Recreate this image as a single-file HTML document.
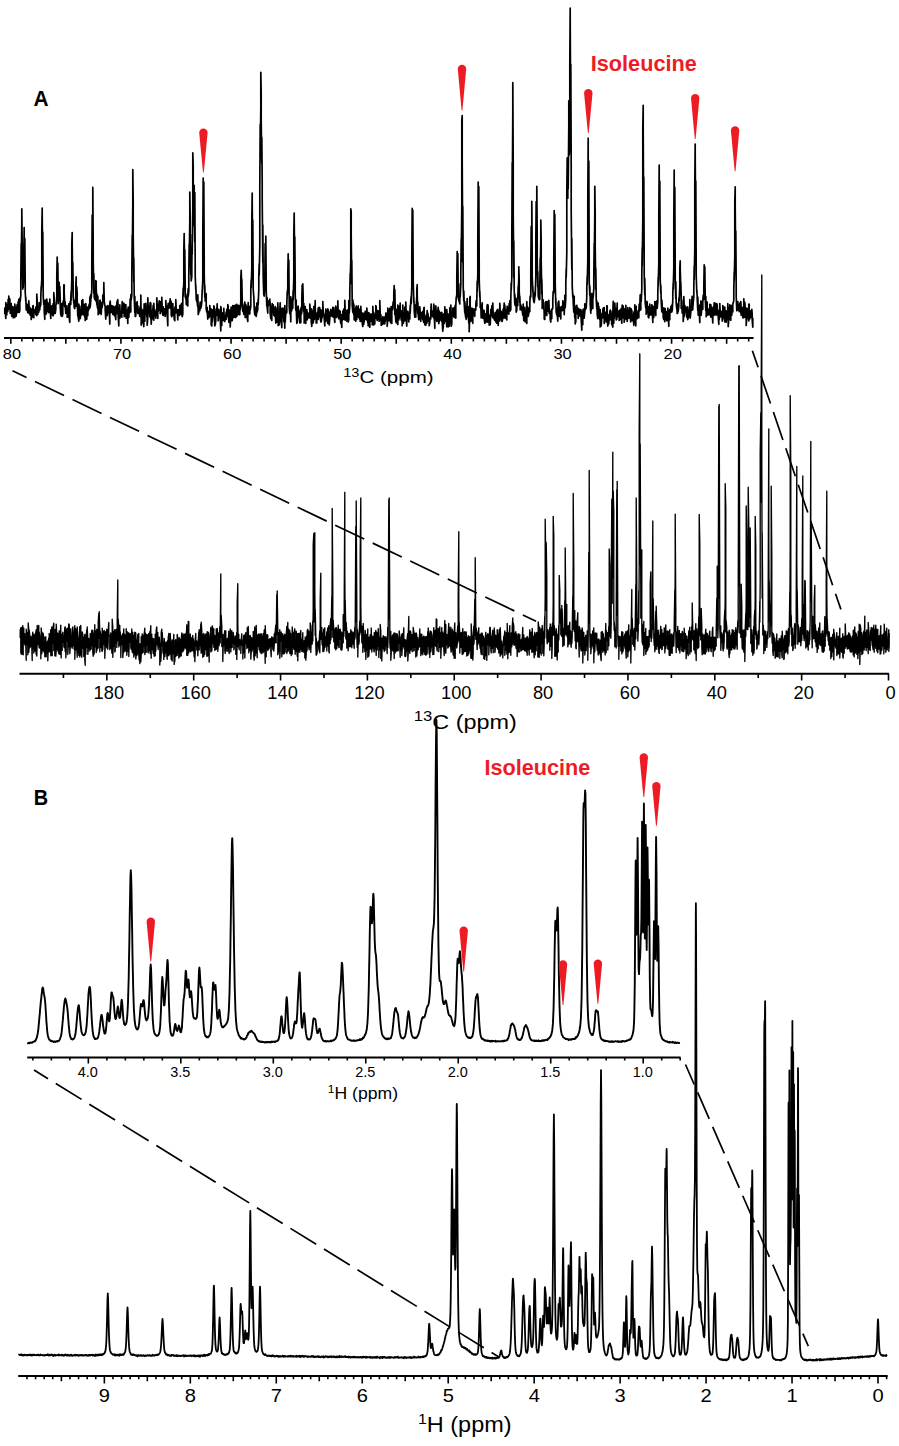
<!DOCTYPE html><html><head><meta charset="utf-8"><style>html,body{margin:0;padding:0;background:#fff}svg{display:block}</style></head><body><svg width="899" height="1446" viewBox="0 0 899 1446">
<style>.t{font-family:"Liberation Sans",sans-serif;fill:#000}</style>
<rect width="899" height="1446" fill="#fff"/>
<path d="M4.8 314.3 4.8 308.3 5.2 307.6 5.2 309.2 5.8 318.5 5.8 302.6 6.2 307.1 6.2 313.4 6.8 314.7 6.8 310.1 7.2 304.3 7.2 309.9 7.8 311.5 7.8 307.3 8.2 299.4 8.2 305 8.8 306.9 8.8 296.1 9.2 307.2 9.2 309.1 9.8 308.7 9.8 298.9 10.2 310.6 10.2 313.2 10.8 307.2 10.8 304.3 11.2 303.6 11.2 311.1 11.8 316.3 11.8 308.3 12.2 308.4 12.2 310.5 12.8 311 12.8 306.6 13.2 311.5 13.2 317.8 13.8 312.1 13.8 308.2 14.2 314.9 14.2 316.1 14.8 317.4 14.8 304.2 15.2 308.1 15.2 309 15.8 310 15.8 307.8 16.2 312.6 16.2 316.1 16.8 311.6 16.8 307.3 17.2 304.5 17.2 309 17.8 312.2 17.8 306.7 18.2 301.5 18.2 306.3 18.8 308.9 18.8 299.3 19.2 307 19.2 312.5 19.8 310.4 19.8 299.4 20.2 297.8 20.2 301.3 20.8 295.4 20.8 280.4 21.2 243.5 21.2 264.3 21.8 221.6 21.8 208.8 22.2 243.6 22.2 261.6 22.8 289.1 22.8 274 23.2 286.2 23.2 287.5 23.8 276.2 23.8 254.3 24.2 227.5 24.2 235 24.8 279.4 24.8 238.7 25.2 281.8 25.2 292 25.8 301 25.8 297.3 26.2 308.9 26.2 309.8 26.8 308.2 26.8 303.8 27.2 305.8 27.2 309.6 27.8 312.7 27.8 305 28.2 310.9 28.2 311.7 28.8 308.1 28.8 300.8 29.2 309.9 29.2 313.4 29.8 309.3 29.8 307.4 30.2 312.9 30.2 315.2 30.8 310.3 30.8 308.7 31.2 313.1 31.2 319.5 31.8 316.5 31.8 309.6 32.2 311.6 32.2 317 32.8 313.1 32.8 306 33.2 305.6 33.2 312.6 33.8 317.7 33.8 313.3 34.2 309.6 34.2 312.4 34.8 312 34.8 309.9 35.2 310.4 35.2 310.4 35.8 314.6 35.8 307 36.2 308.4 36.2 311.7 36.8 315.7 36.8 294 37.2 301.8 37.2 311.4 37.8 314.4 37.8 307.4 38.2 309.1 38.2 310 38.8 312.1 38.8 308.8 39.2 302.5 39.2 306.8 39.8 309.8 39.8 306.7 40.2 303 40.2 306.9 40.8 304.2 40.8 297 41.2 286.6 41.2 290.4 41.8 278.7 41.8 231.7 42.2 208 42.2 212.4 42.8 276.4 42.8 232 43.2 290.1 43.2 296.5 43.8 304.5 43.8 300.5 44.2 302.7 44.2 311 44.8 319.3 44.8 313.4 45.2 300.2 45.2 313.6 45.8 309.9 45.8 304.6 46.2 309.6 46.2 314 46.8 312.1 46.8 299.2 47.2 308 47.2 311.3 47.8 309.5 47.8 302.5 48.2 304.1 48.2 308.2 48.8 312.6 48.8 304.7 49.2 307.6 49.2 311.3 49.8 311 49.8 299.1 50.2 308.3 50.2 310.1 50.8 318.5 50.8 312.1 51.2 310.7 51.2 314.4 51.8 311.1 51.8 305.9 52.2 313.1 52.2 314.3 52.8 315.2 52.8 308.4 53.2 303.5 53.2 315.8 53.8 307.5 53.8 292.7 54.2 298 54.2 313.5 54.8 311.8 54.8 306.4 55.2 311.5 55.2 313.5 55.8 309.2 55.8 306.4 56.2 302 56.2 304.4 56.8 296.3 56.8 275.5 57.2 257 57.2 263.8 57.8 281.5 57.8 263.2 58.2 290.9 58.2 303.6 58.8 298.1 58.8 295.5 59.2 282.4 59.2 285.7 59.8 290.8 59.8 286.5 60.2 298.7 60.2 306.4 60.8 314.9 60.8 304.9 61.2 307.4 61.2 316 61.8 314.7 61.8 303.6 62.2 314.8 62.2 316.3 62.8 314.3 62.8 308.1 63.2 301.2 63.2 304.3 63.8 299.2 63.8 285 64.2 284.8 64.2 292.5 64.8 306.8 64.8 305.9 65.2 301.8 65.2 306 65.8 313.4 65.8 308.9 66.2 310.6 66.2 310.8 66.8 309.6 66.8 305.6 67.2 309.5 67.2 317.2 67.8 316.8 67.8 311.6 68.2 308.7 68.2 311.5 68.8 312.2 68.8 303.8 69.2 317.1 69.2 317.8 69.8 322.3 69.8 305.9 70.2 301.4 70.2 304.6 70.8 304.5 70.8 298.6 71.2 291.1 71.2 300.3 71.8 278.5 71.8 243.9 72.2 232.5 72.2 243.1 72.8 286.1 72.8 262.5 73.2 290.1 73.2 296.1 73.8 303.1 73.8 299.4 74.2 307.2 74.2 307.3 74.8 308.5 74.8 301.2 75.2 301.6 75.2 306.6 75.8 305.7 75.8 285.9 76.2 276.9 76.2 284 76.8 306.5 76.8 286.8 77.2 293.4 77.2 299.1 77.8 315.9 77.8 307 78.2 309.7 78.2 316.9 78.8 321.2 78.8 304.1 79.2 306.7 79.2 309.6 79.8 314.4 79.8 309.7 80.2 316.8 80.2 318.6 80.8 314.7 80.8 312.5 81.2 306.2 81.2 307.7 81.8 313.2 81.8 300.7 82.2 313 82.2 314.6 82.8 310.5 82.8 299.5 83.2 312.2 83.2 312.5 83.8 314.8 83.8 310.8 84.2 304.4 84.2 312.8 84.8 317.2 84.8 306.4 85.2 318.7 85.2 320.5 85.8 317.4 85.8 303.7 86.2 311.8 86.2 317.8 86.8 319.1 86.8 310.5 87.2 307.2 87.2 307.6 87.8 315.6 87.8 311.5 88.2 308.2 88.2 311.1 88.8 309.2 88.8 306.8 89.2 304.2 89.2 306.8 89.8 308 89.8 298.4 90.2 296.2 90.2 307.1 90.8 300.2 90.8 294.7 91.2 294.4 91.2 298.1 91.8 289.2 91.8 264.6 92.2 215.1 92.2 243.8 92.8 216.5 92.8 187.4 93.2 242.9 93.2 261.1 93.8 293.3 93.8 273.6 94.2 293.9 94.2 297 94.8 299.4 94.8 292.1 95.2 290 95.2 293.6 95.8 301 95.8 280.6 96.2 281.5 96.2 288.3 96.8 304.4 96.8 293.7 97.2 304.7 97.2 305.9 97.8 308.8 97.8 296.2 98.2 309.4 98.2 314.7 98.8 311.3 98.8 309.2 99.2 310.1 99.2 312.8 99.8 313.4 99.8 301 100.2 300.2 100.2 307.8 100.8 313.4 100.8 304.5 101.2 303.6 101.2 314.4 101.8 303.6 101.8 302.5 102.2 306.6 102.2 307.4 102.8 300.9 102.8 295 103.2 299.6 103.2 301.5 103.8 291.1 103.8 282.6 104.2 298.2 104.2 301.2 104.8 305.7 104.8 305.2 105.2 307.1 105.2 309.9 105.8 319.1 105.8 309.4 106.2 306.4 106.2 307.5 106.8 307.6 106.8 306.5 107.2 313.1 107.2 315.7 107.8 312.6 107.8 305.6 108.2 306.7 108.2 307.2 108.8 311.8 108.8 308.8 109.2 306.2 109.2 307.6 109.8 324.1 109.8 304.4 110.2 301.1 110.2 301.3 110.8 312.6 110.8 310.2 111.2 307.4 111.2 307.6 111.8 306.7 111.8 305.5 112.2 305.9 112.2 311.6 112.8 314.4 112.8 309.7 113.2 307.9 113.2 311.6 113.8 314.9 113.8 306.3 114.2 313.2 114.2 313.9 114.8 316.1 114.8 307.5 115.2 308.4 115.2 313.8 115.8 319.6 115.8 306.2 116.2 312.7 116.2 314.1 116.8 312.8 116.8 304.1 117.2 300.8 117.2 306.8 117.8 314.1 117.8 299.7 118.2 312.1 118.2 316 118.8 325.9 118.8 318.5 119.2 309.9 119.2 310.1 119.8 318.5 119.8 304.8 120.2 315.7 120.2 316.3 120.8 314.7 120.8 311.3 121.2 314.9 121.2 316.3 121.8 317.2 121.8 310.9 122.2 301.7 122.2 311.3 122.8 313 122.8 307.1 123.2 305.9 123.2 308.8 123.8 306.6 123.8 303.2 124.2 304.4 124.2 316.7 124.8 313.4 124.8 308.7 125.2 315.1 125.2 315.3 125.8 316.6 125.8 304.5 126.2 317.3 126.2 318.2 126.8 318.2 126.8 312 127.2 310.2 127.2 311 127.8 323.5 127.8 314.8 128.2 307 128.2 311.9 128.8 317.4 128.8 316.3 129.2 310.7 129.2 311.8 129.8 312.4 129.8 311.1 130.2 298.8 130.2 311.2 130.8 311.8 130.8 294.7 131.2 299.5 131.2 300.1 131.8 295.2 131.8 277.8 132.2 235.4 132.2 259.9 132.8 203.4 132.8 169.5 133.2 202.1 133.2 234.7 133.8 281.4 133.8 258.1 134.2 295.1 134.2 296.2 134.8 312.7 134.8 296.3 135.2 313.8 135.2 316.5 135.8 315.9 135.8 314.2 136.2 303.2 136.2 307.6 136.8 311.5 136.8 302.8 137.2 301.7 137.2 308.9 137.8 313.5 137.8 305.5 138.2 310.3 138.2 311.5 138.8 312 138.8 308.8 139.2 310.1 139.2 313.2 139.8 316.4 139.8 309.9 140.2 306.3 140.2 314.8 140.8 307.8 140.8 295 141.2 318.5 141.2 325.1 141.8 321.3 141.8 309.1 142.2 312.5 142.2 322.9 142.8 318.6 142.8 313 143.2 310.4 143.2 318.8 143.8 326.6 143.8 316 144.2 303.9 144.2 308.7 144.8 321.2 144.8 313.1 145.2 309.9 145.2 313.3 145.8 309.1 145.8 303.4 146.2 307.9 146.2 311.1 146.8 316.9 146.8 308.5 147.2 311.8 147.2 325.2 147.8 317.3 147.8 297.8 148.2 307.1 148.2 308.5 148.8 309.1 148.8 305.9 149.2 308.4 149.2 310.4 149.8 316.7 149.8 309.5 150.2 302.7 150.2 309.2 150.8 319 150.8 303 151.2 323.1 151.2 324.1 151.8 316.4 151.8 312.1 152.2 310.6 152.2 318.9 152.8 316.5 152.8 310.8 153.2 305.3 153.2 312.9 153.8 320.2 153.8 303.3 154.2 311.7 154.2 311.8 154.8 315.4 154.8 311.5 155.2 311.6 155.2 313.5 155.8 318.2 155.8 315.7 156.2 309.6 156.2 314.9 156.8 314.2 156.8 297.8 157.2 305.2 157.2 309.2 157.8 318.5 157.8 307.7 158.2 308.8 158.2 311.2 158.8 309.7 158.8 305.3 159.2 300.9 159.2 302.9 159.8 308.7 159.8 302.6 160.2 305.4 160.2 313.5 160.8 310.3 160.8 301.5 161.2 303.3 161.2 304.7 161.8 306.8 161.8 297.4 162.2 309.2 162.2 311 162.8 315.1 162.8 309.5 163.2 306.8 163.2 315.5 163.8 314.6 163.8 311.6 164.2 308.8 164.2 309 164.8 310.8 164.8 309.3 165.2 313.3 165.2 316.5 165.8 307.8 165.8 300.6 166.2 308.6 166.2 312.2 166.8 313.5 166.8 305.8 167.2 307.5 167.2 314.4 167.8 325.8 167.8 310.3 168.2 303.3 168.2 308.4 168.8 308.2 168.8 305 169.2 304.8 169.2 307.9 169.8 303.6 169.8 302.2 170.2 298.9 170.2 306.1 170.8 308.5 170.8 300.9 171.2 302.4 171.2 314.9 171.8 316.6 171.8 309.3 172.2 306.7 172.2 312.7 172.8 313.7 172.8 303.6 173.2 314.9 173.2 315.3 173.8 313.6 173.8 309.8 174.2 317 174.2 319.1 174.8 320.7 174.8 308.4 175.2 306.8 175.2 312.9 175.8 312.9 175.8 299.7 176.2 308.7 176.2 311.3 176.8 312.9 176.8 310 177.2 309.6 177.2 310.3 177.8 320 177.8 311.6 178.2 311.8 178.2 312.5 178.8 313.7 178.8 309.6 179.2 312.4 179.2 315.4 179.8 313.6 179.8 305.5 180.2 305.6 180.2 308.3 180.8 309.8 180.8 308.1 181.2 304 181.2 314.7 181.8 307.4 181.8 303.3 182.2 308.4 182.2 316.6 182.8 314 182.8 299.1 183.2 288.1 183.2 296.1 183.8 282.6 183.8 250.4 184.2 233.5 184.2 237.2 184.8 279.5 184.8 249.8 185.2 287.2 185.2 296.5 185.8 298.5 185.8 294.2 186.2 301.7 186.2 304.2 186.8 304.9 186.8 303.4 187.2 296.6 187.2 297.3 187.8 306 187.8 296.1 188.2 288.7 188.2 296.3 188.8 291.5 188.8 273.5 189.2 244.2 189.2 259.5 189.8 220.7 189.8 192 190.2 217.4 190.2 240.8 190.8 274.6 190.8 258.8 191.2 279.9 191.2 281 191.8 276.3 191.8 267.2 192.2 234.7 192.2 254.3 192.8 207.8 192.8 152.9 193.2 166.2 193.2 194.8 193.8 225.3 193.8 216.4 194.2 185.4 194.2 199.5 194.8 241.5 194.8 192.5 195.2 261.8 195.2 275.2 195.8 290 195.8 285.3 196.2 297.4 196.2 299.5 196.8 301.3 196.8 298.6 197.2 301.5 197.2 302.6 197.8 306.8 197.8 294.8 198.2 310.3 198.2 314.4 198.8 312.4 198.8 309.3 199.2 308.8 199.2 310.4 199.8 310.7 199.8 306.7 200.2 302 200.2 303.3 200.8 308.3 200.8 304.2 201.2 303.9 201.2 306.9 201.8 301.8 201.8 301.1 202.2 290 202.2 292.4 202.8 280.4 202.8 237.5 203.2 178.2 203.2 209.2 203.8 237.1 203.8 182.1 204.2 258.8 204.2 273.4 204.8 297.3 204.8 285.2 205.2 299.2 205.2 300.9 205.8 300.9 205.8 294.8 206.2 293.7 206.2 309 206.8 312.2 206.8 308.1 207.2 307.4 207.2 310.2 207.8 319.1 207.8 312.9 208.2 311.8 208.2 316 208.8 314 208.8 311.4 209.2 313.4 209.2 317.3 209.8 314.9 209.8 305.6 210.2 313.6 210.2 315.8 210.8 312.8 210.8 308.6 211.2 311.7 211.2 325.1 211.8 325.9 211.8 309.7 212.2 313 212.2 321.8 212.8 315 212.8 310.2 213.2 312.1 213.2 312.8 213.8 309.6 213.8 305.8 214.2 307.5 214.2 312.5 214.8 326 214.8 313.8 215.2 312.1 215.2 325.2 215.8 320.4 215.8 314.6 216.2 308.9 216.2 309.4 216.8 315.4 216.8 311 217.2 303.9 217.2 307.7 217.8 315.7 217.8 312 218.2 316.3 218.2 320.8 218.8 313.5 218.8 309.3 219.2 312.2 219.2 314.9 219.8 316.8 219.8 311.3 220.2 314.7 220.2 317.7 220.8 330.9 220.8 306.5 221.2 309.2 221.2 322.5 221.8 325.4 221.8 317.6 222.2 312.8 222.2 314.5 222.8 320.4 222.8 313.2 223.2 313.8 223.2 314.2 223.8 313.5 223.8 308.3 224.2 318.2 224.2 320.7 224.8 321.5 224.8 316.8 225.2 315.5 225.2 317.9 225.8 317.6 225.8 315.4 226.2 312.2 226.2 319.3 226.8 311.5 226.8 309.4 227.2 316 227.2 316.4 227.8 316.2 227.8 304.7 228.2 305.9 228.2 308.2 228.8 322.3 228.8 310.6 229.2 309.9 229.2 313.2 229.8 318.6 229.8 317.2 230.2 323.9 230.2 327 230.8 316.2 230.8 312.1 231.2 307.1 231.2 313 231.8 313.2 231.8 308.8 232.2 317.9 232.2 320.7 232.8 316.8 232.8 305.5 233.2 314.9 233.2 317.6 233.8 314.3 233.8 307.5 234.2 305.7 234.2 317.1 234.8 315.7 234.8 305.7 235.2 312.3 235.2 315.5 235.8 317.6 235.8 310.2 236.2 304.6 236.2 314 236.8 316.2 236.8 304.4 237.2 309.8 237.2 315.3 237.8 314.2 237.8 311.9 238.2 305.5 238.2 308.5 238.8 310.6 238.8 305.3 239.2 313.3 239.2 314.6 239.8 314.6 239.8 308.5 240.2 309.3 240.2 309.9 240.8 302.6 240.8 278.8 241.2 270.3 241.2 270.4 241.8 290.2 241.8 279.3 242.2 298.9 242.2 305.4 242.8 311.5 242.8 308.7 243.2 306.8 243.2 307.6 243.8 314.3 243.8 310.6 244.2 304.2 244.2 314.4 244.8 303 244.8 302 245.2 315.7 245.2 317.5 245.8 317.2 245.8 304.6 246.2 311.4 246.2 311.5 246.8 313.9 246.8 306.7 247.2 316 247.2 318 247.8 321.5 247.8 318.3 248.2 302.5 248.2 309.7 248.8 314 248.8 310.8 249.2 306.4 249.2 308.8 249.8 314 249.8 310.6 250.2 309.2 250.2 310 250.8 306.3 250.8 289.6 251.2 279.9 251.2 288 251.8 268.1 251.8 221.5 252.2 193.2 252.2 199.7 252.8 268.3 252.8 220 253.2 281.9 253.2 289.2 253.8 297.1 253.8 296.2 254.2 307.2 254.2 308.8 254.8 314.9 254.8 306.6 255.2 311.6 255.2 313.8 255.8 314.6 255.8 308.9 256.2 313.5 256.2 316.4 256.8 311.6 256.8 303.2 257.2 309.2 257.2 311.8 257.8 308.9 257.8 305.6 258.2 299.3 258.2 304.5 258.8 289.7 258.8 277.6 259.2 264.1 259.2 275.2 259.8 246.4 259.8 189.3 260.2 124.7 260.2 153.8 260.8 107.6 260.8 72.3 261.2 92.4 261.2 121.4 261.8 162.9 261.8 137.4 262.2 179.9 262.2 198.5 262.8 262.2 262.8 225.1 263.2 276.9 263.2 277 263.8 295.1 263.8 279.9 264.2 291.2 264.2 296.1 264.8 285.5 264.8 279.9 265.2 243.5 265.2 261.7 265.8 266.2 265.8 236.2 266.2 281.5 266.2 290.3 266.8 306.2 266.8 297.3 267.2 298.2 267.2 307.5 267.8 313.1 267.8 308.5 268.2 301 268.2 304.7 268.8 305.1 268.8 301.6 269.2 300.7 269.2 302.3 269.8 304 269.8 299 270.2 305.6 270.2 313.4 270.8 318.7 270.8 306.4 271.2 314.2 271.2 315.3 271.8 320.4 271.8 309.3 272.2 303.6 272.2 306 272.8 312.3 272.8 309.6 273.2 304.8 273.2 309.3 273.8 315.5 273.8 308.8 274.2 312.1 274.2 314.2 274.8 316.2 274.8 309.6 275.2 306.7 275.2 308.4 275.8 323.1 275.8 309.5 276.2 316 276.2 317.3 276.8 322.1 276.8 310.6 277.2 307.7 277.2 320.1 277.8 317.3 277.8 302.9 278.2 314.2 278.2 325.6 278.8 324.7 278.8 313.6 279.2 319.8 279.2 325 279.8 319.6 279.8 310.6 280.2 302.8 280.2 308.4 280.8 314.1 280.8 308.7 281.2 312.9 281.2 320 281.8 327.6 281.8 319 282.2 308.2 282.2 308.9 282.8 316.3 282.8 310 283.2 308.4 283.2 308.8 283.8 321.6 283.8 312 284.2 310.9 284.2 311.8 284.8 328.1 284.8 305.5 285.2 313.9 285.2 322.1 285.8 312.5 285.8 311.4 286.2 312.5 286.2 313.2 286.8 312.2 286.8 305.4 287.2 291.9 287.2 295.5 287.8 287.8 287.8 273.1 288.2 253.9 288.2 261.7 288.8 283.9 288.8 260.1 289.2 302.2 289.2 307 289.8 313.7 289.8 303.8 290.2 307.3 290.2 307.6 290.8 321.8 290.8 296.9 291.2 304.7 291.2 311.2 291.8 310.3 291.8 301.2 292.2 299.3 292.2 304.7 292.8 308.2 292.8 301.5 293.2 290.5 293.2 299.9 293.8 277.3 293.8 233.9 294.2 213 294.2 216.8 294.8 274.3 294.8 236.8 295.2 282.5 295.2 294 295.8 310.2 295.8 299.8 296.2 300.3 296.2 306.9 296.8 323.4 296.8 311.7 297.2 315.7 297.2 322.4 297.8 314 297.8 307.1 298.2 306.2 298.2 307.2 298.8 315.4 298.8 309.9 299.2 311.9 299.2 314.6 299.8 323 299.8 316.8 300.2 318.7 300.2 318.9 300.8 322.7 300.8 310 301.2 307.4 301.2 314.4 301.8 312.3 301.8 299.9 302.2 285 302.2 297.6 302.8 292.4 302.8 283.8 303.2 298.6 303.2 306.4 303.8 311.5 303.8 303.3 304.2 315.6 304.2 322.9 304.8 317.8 304.8 311.8 305.2 306.5 305.2 313 305.8 323.4 305.8 311.6 306.2 310.4 306.2 320.2 306.8 313.7 306.8 309.5 307.2 313.6 307.2 319.9 307.8 315.5 307.8 313.9 308.2 313.2 308.2 317.8 308.8 318 308.8 313.9 309.2 314.1 309.2 316.6 309.8 311.8 309.8 304 310.2 309 310.2 317.8 310.8 318.3 310.8 308.5 311.2 316.3 311.2 321.5 311.8 326.3 311.8 309.4 312.2 321.3 312.2 323.8 312.8 316 312.8 312.1 313.2 311.1 313.2 322.8 313.8 317.6 313.8 306.5 314.2 315.4 314.2 319.5 314.8 318.1 314.8 311.8 315.2 300.7 315.2 307.9 315.8 317.9 315.8 313.7 316.2 321.3 316.2 323 316.8 323 316.8 320.8 317.2 312.9 317.2 314.7 317.8 315 317.8 314.3 318.2 308 318.2 319.5 318.8 315.3 318.8 307.6 319.2 307.4 319.2 309.3 319.8 315.8 319.8 307.8 320.2 314 320.2 315.6 320.8 321.9 320.8 309.9 321.2 315.3 321.2 321.9 321.8 317.7 321.8 312.1 322.2 310.4 322.2 317.4 322.8 314.1 322.8 301.6 323.2 310.6 323.2 310.9 323.8 315.1 323.8 313.3 324.2 316.4 324.2 318 324.8 325.9 324.8 319.2 325.2 315 325.2 315.4 325.8 321.4 325.8 309 326.2 313.3 326.2 315.3 326.8 315.8 326.8 313.9 327.2 310.2 327.2 314.3 327.8 323.5 327.8 308.8 328.2 310.5 328.2 311.8 328.8 319.4 328.8 312.6 329.2 324.5 329.2 324.8 329.8 318.6 329.8 317.2 330.2 311.2 330.2 311.5 330.8 316.2 330.8 309.4 331.2 310.9 331.2 313.9 331.8 315.3 331.8 312 332.2 314.4 332.2 315.9 332.8 316.9 332.8 307.4 333.2 312.5 333.2 313.7 333.8 316.6 333.8 307.6 334.2 315.2 334.2 316.4 334.8 322.5 334.8 316.7 335.2 310.4 335.2 312.7 335.8 315.7 335.8 306 336.2 315.1 336.2 317.5 336.8 315.5 336.8 308.5 337.2 311.9 337.2 312.6 337.8 311.5 337.8 300.9 338.2 313.8 338.2 316.9 338.8 318.6 338.8 311.5 339.2 310.4 339.2 314.2 339.8 315.4 339.8 310.9 340.2 311.7 340.2 318.9 340.8 323.5 340.8 314.5 341.2 319.5 341.2 321.3 341.8 327.4 341.8 319.5 342.2 314.4 342.2 320.6 342.8 314.2 342.8 311.1 343.2 313.8 343.2 315.4 343.8 319.5 343.8 309.1 344.2 309.3 344.2 316.4 344.8 317.9 344.8 300.4 345.2 310.8 345.2 320.1 345.8 319.7 345.8 312.1 346.2 313.7 346.2 315.2 346.8 321.1 346.8 310.5 347.2 310.2 347.2 319 347.8 315.9 347.8 309.9 348.2 317.5 348.2 322 348.8 319.8 348.8 300.5 349.2 312.8 349.2 313.2 349.8 304.7 349.8 292.3 350.2 273.4 350.2 282.9 350.8 258.4 350.8 208.9 351.2 211.8 351.2 235 351.8 284.3 351.8 260.6 352.2 302.1 352.2 305.3 352.8 312.3 352.8 299.8 353.2 303.7 353.2 309.7 353.8 315 353.8 304.1 354.2 318.3 354.2 319.8 354.8 317.6 354.8 309.2 355.2 318 355.2 319.2 355.8 321.2 355.8 308.4 356.2 306.1 356.2 315.2 356.8 319.4 356.8 312.6 357.2 307.9 357.2 310.2 357.8 315.6 357.8 310.5 358.2 305.8 358.2 316.7 358.8 317.6 358.8 310.1 359.2 309.2 359.2 317.5 359.8 319.5 359.8 313.3 360.2 314.9 360.2 321.3 360.8 321.2 360.8 306.3 361.2 313.2 361.2 317.4 361.8 320 361.8 312.8 362.2 319.2 362.2 322.6 362.8 326.5 362.8 314.4 363.2 313.2 363.2 314.6 363.8 324.3 363.8 314.5 364.2 316.6 364.2 321.9 364.8 318.3 364.8 313.9 365.2 311.3 365.2 315.3 365.8 319.1 365.8 314.9 366.2 315.1 366.2 318.7 366.8 319.9 366.8 308.1 367.2 313.4 367.2 314.8 367.8 322.9 367.8 314.5 368.2 317 368.2 325.8 368.8 323.4 368.8 312.6 369.2 320.8 369.2 324.9 369.8 327.2 369.8 319.4 370.2 314.1 370.2 320.1 370.8 321.3 370.8 317.3 371.2 314.1 371.2 316.5 371.8 319.2 371.8 314.3 372.2 314.6 372.2 324.8 372.8 321.3 372.8 306.4 373.2 315.2 373.2 319.5 373.8 324.9 373.8 312.9 374.2 315.7 374.2 318.8 374.8 324 374.8 315.2 375.2 314.3 375.2 317.7 375.8 314.9 375.8 305.7 376.2 306.7 376.2 318 376.8 319.1 376.8 310.1 377.2 317.7 377.2 320.5 377.8 318.8 377.8 315.8 378.2 310.8 378.2 312.8 378.8 319.6 378.8 316 379.2 318.5 379.2 321.2 379.8 318.5 379.8 300.7 380.2 313.3 380.2 313.8 380.8 317.3 380.8 314.7 381.2 321.7 381.2 325.2 381.8 324.8 381.8 318.4 382.2 319.8 382.2 323.3 382.8 324.1 382.8 316.7 383.2 320.3 383.2 321.8 383.8 322.5 383.8 318.1 384.2 322.9 384.2 323.6 384.8 323.8 384.8 317.8 385.2 316.3 385.2 321.6 385.8 319 385.8 313.1 386.2 313.3 386.2 316 386.8 316.2 386.8 313.9 387.2 316.3 387.2 326.3 387.8 318.1 387.8 308 388.2 311.5 388.2 312.9 388.8 319.2 388.8 311.2 389.2 317.9 389.2 320.7 389.8 318.7 389.8 308.3 390.2 314.7 390.2 321.2 390.8 322.8 390.8 314.9 391.2 306.7 391.2 315.9 391.8 323.4 391.8 309.1 392.2 307.9 392.2 310 392.8 308.9 392.8 306 393.2 301.9 393.2 303.2 393.8 300.4 393.8 293.5 394.2 285.6 394.2 287.8 394.8 314.5 394.8 289.7 395.2 308.1 395.2 311.5 395.8 321.4 395.8 314.4 396.2 313.7 396.2 322.7 396.8 315.3 396.8 309.4 397.2 316 397.2 322.6 397.8 324.4 397.8 305.2 398.2 308.2 398.2 310.6 398.8 319.9 398.8 306.6 399.2 316 399.2 318.3 399.8 316 399.8 308.8 400.2 303.2 400.2 309.1 400.8 315.9 400.8 310.5 401.2 315.4 401.2 319.9 401.8 314.8 401.8 311.2 402.2 324 402.2 325.7 402.8 314.6 402.8 305.1 403.2 319 403.2 323.2 403.8 320.6 403.8 313.8 404.2 312.1 404.2 316.7 404.8 320.7 404.8 308 405.2 306.7 405.2 315.7 405.8 312.5 405.8 302.1 406.2 314.8 406.2 319.7 406.8 326.1 406.8 315.5 407.2 313.9 407.2 315.2 407.8 315.6 407.8 311.2 408.2 313.1 408.2 314.6 408.8 322 408.8 318.5 409.2 316.5 409.2 317.7 409.8 318.9 409.8 315.2 410.2 305.3 410.2 313.4 410.8 300.8 410.8 300.3 411.2 296.3 411.2 303.6 411.8 285.7 411.8 256.1 412.2 208.4 412.2 232.8 412.8 256.3 412.8 210.2 413.2 271.4 413.2 280.2 413.8 302.4 413.8 297.9 414.2 306.8 414.2 310.5 414.8 317.1 414.8 306.2 415.2 305.2 415.2 306.5 415.8 317.1 415.8 313.9 416.2 304.3 416.2 306.7 416.8 296 416.8 289.7 417.2 284.7 417.2 293.9 417.8 313.5 417.8 302.2 418.2 310.4 418.2 314.2 418.8 319.7 418.8 316.3 419.2 312.7 419.2 314.1 419.8 317.3 419.8 306.8 420.2 312.8 420.2 315.8 420.8 321.3 420.8 315.6 421.2 312.6 421.2 315.9 421.8 318 421.8 315 422.2 313.8 422.2 316.9 422.8 319.6 422.8 311.3 423.2 315.5 423.2 319.7 423.8 322.3 423.8 308 424.2 307.4 424.2 317.7 424.8 324.8 424.8 314.8 425.2 316.8 425.2 318.3 425.8 325.3 425.8 317.5 426.2 318.8 426.2 318.9 426.8 323.3 426.8 316.8 427.2 310.5 427.2 313.3 427.8 321.3 427.8 313.2 428.2 316.1 428.2 316.9 428.8 320.6 428.8 320.1 429.2 319.9 429.2 325.7 429.8 322.3 429.8 321 430.2 317.2 430.2 318.2 430.8 318.9 430.8 312.8 431.2 304.1 431.2 304.6 431.8 314.9 431.8 312.6 432.2 314.3 432.2 315.8 432.8 316.7 432.8 311.2 433.2 312.3 433.2 313.8 433.8 318.1 433.8 304.2 434.2 309.2 434.2 312.4 434.8 328.3 434.8 315 435.2 309.1 435.2 318.6 435.8 311.9 435.8 305.9 436.2 313.4 436.2 317.8 436.8 321.3 436.8 311.6 437.2 316.2 437.2 316.5 437.8 320.9 437.8 310.3 438.2 307.3 438.2 308.6 438.8 323.7 438.8 310.1 439.2 321.1 439.2 322 439.8 317.1 439.8 312.2 440.2 312.7 440.2 314.7 440.8 320 440.8 313.1 441.2 316.7 441.2 319.5 441.8 321.6 441.8 312.3 442.2 321.2 442.2 321.4 442.8 331.3 442.8 314.8 443.2 328.2 443.2 328.3 443.8 314.9 443.8 313.9 444.2 316.7 444.2 323.5 444.8 318.3 444.8 306.9 445.2 311.6 445.2 312.8 445.8 320.9 445.8 311.3 446.2 310 446.2 318.9 446.8 326.8 446.8 309.7 447.2 317.6 447.2 326.6 447.8 319.1 447.8 315.4 448.2 314 448.2 326.8 448.8 322.7 448.8 317.3 449.2 317.6 449.2 326.3 449.8 319 449.8 307.9 450.2 312.3 450.2 314.2 450.8 312.8 450.8 305 451.2 314.7 451.2 326.2 451.8 323.7 451.8 319 452.2 313.4 452.2 316 452.8 315.1 452.8 308.2 453.2 308 453.2 309.4 453.8 316.8 453.8 312.6 454.2 314.1 454.2 317.4 454.8 311.3 454.8 308.1 455.2 305.4 455.2 313.1 455.8 318.1 455.8 306.1 456.2 297.3 456.2 298.6 456.8 294.6 456.8 280 457.2 251.5 457.2 266.1 457.8 277.6 457.8 253.6 458.2 290.8 458.2 296.9 458.8 300.7 458.8 296.2 459.2 299 459.2 301.6 459.8 303.9 459.8 300.6 460.2 283.9 460.2 296.8 460.8 283.9 460.8 273.5 461.2 239 461.2 261.2 461.8 205.7 461.8 120.5 462.2 115.6 462.2 159.5 462.8 262 462.8 206.4 463.2 275.8 463.2 287.1 463.8 300.9 463.8 291 464.2 303.3 464.2 303.4 464.8 312.6 464.8 301.6 465.2 307.5 465.2 313.9 465.8 317.8 465.8 313.3 466.2 319.2 466.2 319.3 466.8 311.7 466.8 308.2 467.2 298.5 467.2 308.9 467.8 316.6 467.8 306.3 468.2 310.9 468.2 315.3 468.8 323.2 468.8 307.3 469.2 323.9 469.2 331.7 469.8 312.6 469.8 297.5 470.2 296.5 470.2 308.4 470.8 321.4 470.8 316.4 471.2 315.8 471.2 320.2 471.8 318.6 471.8 308.2 472.2 308.3 472.2 314.5 472.8 323.3 472.8 310.3 473.2 308.9 473.2 314.1 473.8 312.5 473.8 310.1 474.2 311.7 474.2 314 474.8 316.3 474.8 309.2 475.2 309.3 475.2 309.9 475.8 309.9 475.8 305.4 476.2 300.6 476.2 302.7 476.8 305.9 476.8 299.4 477.2 281.3 477.2 291.4 477.8 274.7 477.8 241.1 478.2 182.2 478.2 212.8 478.8 242.3 478.8 186.6 479.2 263.5 479.2 279.3 479.8 296.5 479.8 291.4 480.2 301.6 480.2 307.4 480.8 308.1 480.8 305.2 481.2 317.5 481.2 317.8 481.8 313.2 481.8 307.3 482.2 302.9 482.2 312.3 482.8 318.2 482.8 310.7 483.2 311.3 483.2 311.7 483.8 311.2 483.8 310.2 484.2 311 484.2 318.7 484.8 323.4 484.8 314.1 485.2 314.3 485.2 319.9 485.8 321.9 485.8 313.9 486.2 314.5 486.2 316.5 486.8 321.9 486.8 312.6 487.2 304.9 487.2 307.6 487.8 322.1 487.8 304.6 488.2 306.7 488.2 311.6 488.8 321.6 488.8 317.3 489.2 318 489.2 325.1 489.8 322.4 489.8 316 490.2 314.9 490.2 324.8 490.8 312.7 490.8 309.5 491.2 309.3 491.2 311.9 491.8 315.8 491.8 305.8 492.2 311.3 492.2 311.4 492.8 317.7 492.8 303.1 493.2 316.2 493.2 316.3 493.8 318.3 493.8 316.1 494.2 314.7 494.2 319.2 494.8 320.2 494.8 317.9 495.2 312.3 495.2 316 495.8 321.9 495.8 319 496.2 318.8 496.2 321.6 496.8 323.1 496.8 310.3 497.2 314.6 497.2 317 497.8 313.4 497.8 309.4 498.2 318.2 498.2 325.5 498.8 314.1 498.8 311.4 499.2 320.8 499.2 321.2 499.8 316 499.8 303.4 500.2 311.3 500.2 313.1 500.8 318.8 500.8 313 501.2 311.4 501.2 320.7 501.8 321.1 501.8 316.1 502.2 318.7 502.2 321.5 502.8 317.1 502.8 313.2 503.2 309 503.2 314.9 503.8 317.9 503.8 309.3 504.2 303 504.2 312.3 504.8 313.6 504.8 305.2 505.2 314 505.2 318.1 505.8 317.3 505.8 309.8 506.2 313.8 506.2 315.9 506.8 319.9 506.8 312.9 507.2 306.4 507.2 307 507.8 313.5 507.8 310.7 508.2 307.6 508.2 310.8 508.8 314.2 508.8 312 509.2 303.5 509.2 310.7 509.8 307 509.8 300.8 510.2 305 510.2 311 510.8 309.5 510.8 299.2 511.2 283.2 511.2 289.9 511.8 278.1 511.8 241.8 512.2 162.7 512.2 210.1 512.8 109.9 512.8 82.5 513.2 160.2 513.2 210.7 513.8 276.9 513.8 241.1 514.2 286.8 514.2 290.3 514.8 304.1 514.8 294.3 515.2 299.7 515.2 305.4 515.8 304.9 515.8 298.1 516.2 304.7 516.2 312.1 516.8 310 516.8 299.3 517.2 302.2 517.2 305.9 517.8 305.3 517.8 299.4 518.2 286.3 518.2 293.4 518.8 278 518.8 266.8 519.2 279.8 519.2 291.1 519.8 302.4 519.8 296.2 520.2 307 520.2 309.7 520.8 309.5 520.8 304.8 521.2 306.8 521.2 309.5 521.8 310.2 521.8 307.4 522.2 309.7 522.2 310.4 522.8 315.1 522.8 314.2 523.2 304.2 523.2 307.4 523.8 320.7 523.8 316.3 524.2 313.7 524.2 314.9 524.8 317.5 524.8 307.4 525.2 313 525.2 321.8 525.8 320.1 525.8 317.7 526.2 310.8 526.2 316.6 526.8 323.4 526.8 301.7 527.2 316.1 527.2 316.8 527.8 315.2 527.8 307.3 528.2 314.7 528.2 316.3 528.8 313 528.8 310 529.2 308.1 529.2 311.5 529.8 311.6 529.8 303.6 530.2 296.1 530.2 298.4 530.8 296.2 530.8 268.5 531.2 226.4 531.2 251.4 531.8 226.5 531.8 201.3 532.2 254.4 532.2 275.7 532.8 291.4 532.8 286.2 533.2 295.8 533.2 297.6 533.8 301.9 533.8 297.3 534.2 293.3 534.2 302.6 534.8 296.8 534.8 294.3 535.2 291.1 535.2 296.1 535.8 276.6 535.8 242.9 536.2 201.5 536.2 220.3 536.8 204 536.8 186.4 537.2 233.9 537.2 258.9 537.8 286.9 537.8 271.5 538.2 293.6 538.2 296.3 538.8 298.4 538.8 295.5 539.2 299.5 539.2 299.8 539.8 299.4 539.8 287.6 540.2 258 540.2 273.9 540.8 239 540.8 220 541.2 242.5 541.2 261.3 541.8 294.1 541.8 279.2 542.2 295.5 542.2 308.4 542.8 303.6 542.8 300.3 543.2 299.9 543.2 305.5 543.8 309.3 543.8 302.6 544.2 313.6 544.2 318.9 544.8 319.5 544.8 313 545.2 310 545.2 314.7 545.8 310.1 545.8 301.7 546.2 310 546.2 314.7 546.8 315.4 546.8 311.3 547.2 301.7 547.2 311.3 547.8 309.1 547.8 303.8 548.2 307.8 548.2 311 548.8 311.8 548.8 300.4 549.2 309.4 549.2 313.4 549.8 312.7 549.8 310.1 550.2 312.9 550.2 319 550.8 322.1 550.8 312.2 551.2 311.9 551.2 314.8 551.8 318.6 551.8 309.8 552.2 308.5 552.2 309.5 552.8 308.1 552.8 300.2 553.2 291.4 553.2 294.2 553.8 291.8 553.8 259 554.2 210.6 554.2 235.1 554.8 257.4 554.8 214.3 555.2 271.8 555.2 283 555.8 304.3 555.8 298.5 556.2 311.7 556.2 311.9 556.8 314.9 556.8 308.3 557.2 313.2 557.2 313.6 557.8 321.1 557.8 310.3 558.2 302 558.2 314.6 558.8 310 558.8 301.2 559.2 312.3 559.2 316.2 559.8 315.7 559.8 311.4 560.2 307.2 560.2 314.2 560.8 319 560.8 312.5 561.2 308.5 561.2 309.1 561.8 308.8 561.8 306.4 562.2 308.1 562.2 310.7 562.8 308 562.8 300.8 563.2 305.3 563.2 310 563.8 309.1 563.8 306.4 564.2 306.5 564.2 314.6 564.8 298.9 564.8 295.3 565.2 302.4 565.2 307.8 565.8 298.3 565.8 283.7 566.2 268.8 566.2 277.6 566.8 252.3 566.8 193.9 567.2 157.9 567.2 165.6 567.8 198.2 567.8 177.1 568.2 162.8 568.2 188.5 568.8 124.3 568.8 100.8 569.2 139.5 569.2 154.9 569.8 148 569.8 65.5 570.2 8.2 570.2 15.3 570.8 151.3 570.8 64.3 571.2 163.7 571.2 210.5 571.8 269.2 571.8 238.4 572.2 278.8 572.2 285.7 572.8 297.2 572.8 293.2 573.2 300 573.2 302 573.8 312.2 573.8 297.6 574.2 296.2 574.2 304.5 574.8 318 574.8 305.4 575.2 307.8 575.2 323.8 575.8 321.6 575.8 312.8 576.2 312.5 576.2 314.1 576.8 312.2 576.8 305.3 577.2 309.5 577.2 311.1 577.8 314 577.8 307.9 578.2 309.9 578.2 318.3 578.8 311.8 578.8 309.9 579.2 309.2 579.2 309.9 579.8 315.7 579.8 311.5 580.2 315.1 580.2 315.8 580.8 316.7 580.8 309.5 581.2 311 581.2 319.3 581.8 330.2 581.8 319.2 582.2 313.9 582.2 317 582.8 324.7 582.8 313.3 583.2 309.1 583.2 312 583.8 316.5 583.8 312.7 584.2 317.4 584.2 318.1 584.8 311.2 584.8 303.8 585.2 308.3 585.2 310.1 585.8 307.4 585.8 303.9 586.2 304.2 586.2 308.5 586.8 296.5 586.8 288.6 587.2 276.3 587.2 284.4 587.8 260.2 587.8 203.1 588.2 138.2 588.2 159.9 588.8 233.9 588.8 161 589.2 258.4 589.2 281 589.8 295.1 589.8 286.1 590.2 298.3 590.2 304.4 590.8 313.3 590.8 301.9 591.2 305.6 591.2 310.3 591.8 306.6 591.8 293.6 592.2 308.1 592.2 308.3 592.8 308.4 592.8 299.9 593.2 295.5 593.2 296.8 593.8 288.9 593.8 277.6 594.2 243.4 594.2 265.9 594.8 213.8 594.8 186.3 595.2 214.3 595.2 246.7 595.8 289.6 595.8 268.3 596.2 297.6 596.2 299 596.8 309 596.8 300.9 597.2 313 597.2 314.1 597.8 318.6 597.8 313.4 598.2 303.1 598.2 311.2 598.8 313.9 598.8 306.4 599.2 311.5 599.2 316 599.8 319.6 599.8 310.8 600.2 309.5 600.2 326.9 600.8 322 600.8 313.2 601.2 315.4 601.2 326 601.8 316.9 601.8 314.5 602.2 318 602.2 318.1 602.8 317.8 602.8 310.5 603.2 308.1 603.2 315.1 603.8 317.3 603.8 312 604.2 307.5 604.2 323.3 604.8 316.7 604.8 314.4 605.2 312.7 605.2 319.7 605.8 317.4 605.8 312.7 606.2 312 606.2 321.9 606.8 318.2 606.8 305.8 607.2 305.9 607.2 314.3 607.8 326.1 607.8 323.1 608.2 314.6 608.2 315.5 608.8 323.9 608.8 318.7 609.2 316.9 609.2 317.1 609.8 319.9 609.8 312.5 610.2 310.2 610.2 313.3 610.8 313.2 610.8 310.9 611.2 314.1 611.2 314.7 611.8 324.5 611.8 316.9 612.2 319.6 612.2 324.6 612.8 327.1 612.8 314.7 613.2 301.4 613.2 303.8 613.8 323.2 613.8 316.2 614.2 317.4 614.2 318.3 614.8 314.4 614.8 303 615.2 310.3 615.2 312.7 615.8 315 615.8 308.2 616.2 315.6 616.2 319.8 616.8 319.3 616.8 314.9 617.2 303 617.2 311.8 617.8 316.8 617.8 313.3 618.2 311 618.2 311.2 618.8 313.1 618.8 311.8 619.2 317.4 619.2 320.4 619.8 312.4 619.8 310 620.2 314.1 620.2 319.3 620.8 313 620.8 312 621.2 308.5 621.2 311.5 621.8 323.3 621.8 316.5 622.2 305.1 622.2 315.4 622.8 317.7 622.8 305.6 623.2 306.6 623.2 316 623.8 318.4 623.8 310.9 624.2 312.3 624.2 322.2 624.8 317.7 624.8 308.9 625.2 311.2 625.2 319.3 625.8 309.2 625.8 305.4 626.2 312.5 626.2 318.8 626.8 316 626.8 315.2 627.2 321.1 627.2 321.5 627.8 314.3 627.8 307.6 628.2 311.8 628.2 317 628.8 318 628.8 314.8 629.2 309.6 629.2 316.9 629.8 310.6 629.8 307.7 630.2 314.1 630.2 317.3 630.8 321.8 630.8 314 631.2 308.9 631.2 311 631.8 316.3 631.8 310.4 632.2 319.2 632.2 319.8 632.8 320.9 632.8 317.3 633.2 314.8 633.2 315 633.8 325.3 633.8 313 634.2 311.5 634.2 321.1 634.8 314.8 634.8 304.8 635.2 311.3 635.2 319.2 635.8 325.8 635.8 316 636.2 306.3 636.2 314.7 636.8 316.9 636.8 314.5 637.2 315 637.2 318.6 637.8 314.9 637.8 313.6 638.2 310.7 638.2 316.8 638.8 317.7 638.8 313.3 639.2 304.1 639.2 311.2 639.8 310.3 639.8 306.3 640.2 294.9 640.2 304.9 640.8 309.8 640.8 295.8 641.2 299.2 641.2 301.4 641.8 289 641.8 275.3 642.2 247.8 642.2 265.5 642.8 219.3 642.8 128.8 643.2 105.4 643.2 128.5 643.8 246 643.8 177.2 644.2 264.7 644.2 274.6 644.8 295 644.8 278.6 645.2 302 645.2 302.5 645.8 308.2 645.8 306.1 646.2 308.3 646.2 314.2 646.8 310.5 646.8 301.4 647.2 302.3 647.2 304.6 647.8 312.8 647.8 306.6 648.2 311.5 648.2 316.8 648.8 317.8 648.8 309.9 649.2 306.3 649.2 314.5 649.8 315 649.8 304 650.2 312.4 650.2 313.7 650.8 314.9 650.8 307.9 651.2 309.5 651.2 313.2 651.8 311.9 651.8 304.9 652.2 305.4 652.2 310 652.8 322.4 652.8 315.7 653.2 306.7 653.2 310.1 653.8 317.5 653.8 310.4 654.2 307.9 654.2 313.2 654.8 304.8 654.8 301.7 655.2 308.2 655.2 313.1 655.8 315.5 655.8 307.3 656.2 301.5 656.2 307.2 656.8 305.5 656.8 304.8 657.2 300.7 657.2 308.5 657.8 301.2 657.8 294.5 658.2 277.3 658.2 285.4 658.8 263.5 658.8 215.7 659.2 165 659.2 184.5 659.8 246.5 659.8 181.1 660.2 264.4 660.2 278.7 660.8 293.5 660.8 285.1 661.2 299.2 661.2 301 661.8 311.6 661.8 300 662.2 304.5 662.2 311.4 662.8 313 662.8 311.7 663.2 310.4 663.2 317.6 663.8 319.4 663.8 307.9 664.2 311.9 664.2 315.5 664.8 321.7 664.8 309.8 665.2 308.5 665.2 317.5 665.8 314.8 665.8 312.2 666.2 311.7 666.2 319.1 666.8 320.7 666.8 313 667.2 313.9 667.2 315.9 667.8 313.7 667.8 308.2 668.2 312.3 668.2 315.9 668.8 326.3 668.8 311.6 669.2 312.3 669.2 314.8 669.8 319.7 669.8 309.6 670.2 309.2 670.2 311.7 670.8 312.4 670.8 307.2 671.2 306.1 671.2 307.2 671.8 312 671.8 308.3 672.2 304.4 672.2 310.9 672.8 300.2 672.8 293.4 673.2 283.2 673.2 289.1 673.8 268.1 673.8 220.4 674.2 170.1 674.2 189.1 674.8 248.7 674.8 187.3 675.2 265.7 675.2 280.6 675.8 298.6 675.8 281.5 676.2 303.2 676.2 303.2 676.8 309.1 676.8 304.6 677.2 313.3 677.2 313.4 677.8 312.9 677.8 307.2 678.2 303.3 678.2 311.3 678.8 305.8 678.8 300.2 679.2 297.1 679.2 301 679.8 285.7 679.8 268.2 680.2 260.8 680.2 267.9 680.8 288.9 680.8 282.3 681.2 296.5 681.2 308.3 681.8 308.9 681.8 300.1 682.2 312.2 682.2 313.1 682.8 313.2 682.8 306.4 683.2 311 683.2 321.4 683.8 314.4 683.8 296.7 684.2 306.3 684.2 316.4 684.8 310.4 684.8 305.3 685.2 310.2 685.2 311.2 685.8 309.2 685.8 307.7 686.2 308.1 686.2 310.4 686.8 317.2 686.8 309.6 687.2 306.9 687.2 316.1 687.8 319.6 687.8 313.6 688.2 316.2 688.2 317.9 688.8 315.8 688.8 311.5 689.2 307.2 689.2 313.7 689.8 316 689.8 299.7 690.2 308.5 690.2 318.1 690.8 312.2 690.8 309.8 691.2 306.4 691.2 306.9 691.8 306.7 691.8 299.8 692.2 296.3 692.2 310.2 692.8 309.2 692.8 308.2 693.2 302.1 693.2 302.2 693.8 297.5 693.8 289.1 694.2 266.2 694.2 279.6 694.8 248.1 694.8 183.4 695.2 144.1 695.2 152.1 695.8 248 695.8 181 696.2 265.1 696.2 275.1 696.8 292.8 696.8 289.5 697.2 295.9 697.2 298.5 697.8 310.6 697.8 297.2 698.2 309.2 698.2 315.1 698.8 309.2 698.8 305.7 699.2 307.6 699.2 309.9 699.8 322.6 699.8 305.2 700.2 305.6 700.2 308.5 700.8 315.5 700.8 301.1 701.2 307.6 701.2 315.1 701.8 307 701.8 301.4 702.2 305 702.2 308 702.8 309.3 702.8 301.7 703.2 295.2 703.2 295.9 703.8 299.3 703.8 287.7 704.2 264.9 704.2 273.4 704.8 280.6 704.8 266.8 705.2 295.2 705.2 297.2 705.8 310.4 705.8 296.4 706.2 312 706.2 316.7 706.8 312.5 706.8 304.9 707.2 302.1 707.2 314.2 707.8 315.1 707.8 314 708.2 309.3 708.2 313.2 708.8 313.6 708.8 309.1 709.2 312.7 709.2 314.6 709.8 310.5 709.8 304.3 710.2 309 710.2 312.1 710.8 317.2 710.8 304.7 711.2 308.2 711.2 309.8 711.8 316.6 711.8 313.7 712.2 311.2 712.2 313.7 712.8 322.9 712.8 308.1 713.2 307.1 713.2 312.8 713.8 315.4 713.8 310.5 714.2 302.9 714.2 313.6 714.8 314.7 714.8 305.2 715.2 303.3 715.2 307.9 715.8 310.2 715.8 306.2 716.2 311.1 716.2 315 716.8 313.3 716.8 303.5 717.2 304.9 717.2 306.5 717.8 315.3 717.8 310.1 718.2 315.3 718.2 316.4 718.8 324.3 718.8 311 719.2 311.3 719.2 319.7 719.8 314.5 719.8 303.5 720.2 312.5 720.2 313.3 720.8 314 720.8 312.7 721.2 311.3 721.2 316.9 721.8 315.3 721.8 313.3 722.2 318.1 722.2 321 722.8 318 722.8 305.5 723.2 307.3 723.2 312.1 723.8 313.2 723.8 308.5 724.2 307.3 724.2 314.5 724.8 321.9 724.8 307.2 725.2 312.9 725.2 314.8 725.8 319.7 725.8 315.6 726.2 310.9 726.2 322.1 726.8 316.2 726.8 312.7 727.2 314.7 727.2 317.3 727.8 319 727.8 303.7 728.2 318.4 728.2 326.6 728.8 319.6 728.8 310.6 729.2 307.5 729.2 311.2 729.8 308.4 729.8 304.8 730.2 312.3 730.2 318.3 730.8 320.2 730.8 311 731.2 305.6 731.2 310.1 731.8 315.2 731.8 305.6 732.2 306.5 732.2 308.7 732.8 311.9 732.8 304.2 733.2 302.6 733.2 303 733.8 300.4 733.8 290 734.2 272.2 734.2 280.4 734.8 255.6 734.8 202.3 735.2 186.8 735.2 204.1 735.8 271.1 735.8 231.1 736.2 285 736.2 295.9 736.8 310.8 736.8 302.8 737.2 306.8 737.2 307 737.8 307.7 737.8 301.6 738.2 308.4 738.2 309.8 738.8 308.7 738.8 304.8 739.2 310.2 739.2 311.5 739.8 309.4 739.8 303 740.2 306.8 740.2 310.5 740.8 313.1 740.8 301.6 741.2 309.5 741.2 315.2 741.8 311.8 741.8 307.5 742.2 307.3 742.2 309.1 742.8 317.7 742.8 310.1 743.2 307.9 743.2 317.9 743.8 315.1 743.8 298.8 744.2 313.4 744.2 316.3 744.8 317.4 744.8 302.4 745.2 307.9 745.2 309.4 745.8 314.4 745.8 308.4 746.2 319.6 746.2 325.4 746.8 316.8 746.8 308.2 747.2 311.7 747.2 314 747.8 317.8 747.8 309.3 748.2 314 748.2 316.9 748.8 321 748.8 304.3 749.2 304.1 749.2 312.6 749.8 319 749.8 310.7 750.2 311.6 750.2 313.6 750.8 317.3 750.8 311 751.2 312.2 751.2 315.8 751.8 314.9 751.8 309.4 752.2 314.4 752.2 320 752.8 327.1 752.8 317.9" stroke="#000" stroke-width="1.7" fill="none" stroke-linejoin="round"/>
<path d="M20.2 638 20.2 630.7 20.8 627.9 20.8 652.2 21.2 654 21.2 627.3 21.8 633.7 21.8 648.3 22.2 654.2 22.2 629.8 22.8 625.7 22.8 643.9 23.2 654.8 23.2 638.5 23.8 628.2 23.8 643.4 24.2 643.3 24.2 635.4 24.8 633.7 24.8 644.9 25.2 644.1 25.2 639.5 25.8 637.6 25.8 646.7 26.2 660.3 26.2 629.2 26.8 636.9 26.8 642.4 27.2 644.7 27.2 638.3 27.8 632.3 27.8 654.7 28.2 643.5 28.2 622.8 28.8 630.4 28.8 652.2 29.2 644.7 29.2 629.9 29.8 635.8 29.8 647.8 30.2 647 30.2 641.9 30.8 636.5 30.8 644.5 31.2 646.2 31.2 637.8 31.8 637.8 31.8 647.6 32.2 660.5 32.2 637.3 32.8 632.2 32.8 637.5 33.2 648.8 33.2 634.6 33.8 639.3 33.8 653.1 34.2 638.3 34.2 634.1 34.8 639.2 34.8 651.1 35.2 648.2 35.2 642.6 35.8 631.7 35.8 645 36.2 654.6 36.2 629.6 36.8 647 36.8 656 37.2 640.4 37.2 625.4 37.8 633.1 37.8 644.5 38.2 644 38.2 635.4 38.8 625.5 38.8 642.3 39.2 648 39.2 632.2 39.8 636 39.8 647.7 40.2 642.4 40.2 637.4 40.8 639.4 40.8 658.8 41.2 645 41.2 628 41.8 635 41.8 653.6 42.2 642.9 42.2 635.1 42.8 633 42.8 648.1 43.2 650.8 43.2 633.6 43.8 637.7 43.8 646.3 44.2 652.2 44.2 642 44.8 641.1 44.8 656.8 45.2 653.5 45.2 637.2 45.8 636.9 45.8 646.9 46.2 656.7 46.2 646 46.8 642.5 46.8 653 47.2 648.3 47.2 641.6 47.8 641.1 47.8 660.7 48.2 649.9 48.2 641.1 48.8 637.9 48.8 651.5 49.2 649.9 49.2 633.5 49.8 637.5 49.8 651.7 50.2 650.6 50.2 641.5 50.8 629.7 50.8 655.7 51.2 643.5 51.2 636.6 51.8 627 51.8 640.8 52.2 655.7 52.2 634.4 52.8 628.7 52.8 643.5 53.2 637.1 53.2 626.6 53.8 623.2 53.8 650.5 54.2 645.9 54.2 644.8 54.8 635 54.8 655.7 55.2 648.4 55.2 629.4 55.8 640.5 55.8 656.1 56.2 650.8 56.2 624.1 56.8 634.2 56.8 644.8 57.2 649.9 57.2 639.2 57.8 633.2 57.8 647.5 58.2 651.8 58.2 633.4 58.8 637.6 58.8 653.7 59.2 639.3 59.2 631 59.8 640.2 59.8 654.3 60.2 651.8 60.2 636.4 60.8 625.1 60.8 647.8 61.2 657.9 61.2 639.7 61.8 634.4 61.8 645.7 62.2 650.4 62.2 639.8 62.8 632.3 62.8 642 63.2 642.3 63.2 636.2 63.8 639.2 63.8 646 64.2 647.6 64.2 636.4 64.8 627.2 64.8 637.7 65.2 651.6 65.2 626.8 65.8 638 65.8 657.9 66.2 651.8 66.2 633.6 66.8 629 66.8 639.3 67.2 641.3 67.2 628.1 67.8 633.6 67.8 654.5 68.2 647.4 68.2 632.2 68.8 623.9 68.8 646.9 69.2 630.6 69.2 624.2 69.8 641.2 69.8 653.6 70.2 648.3 70.2 633.6 70.8 628.7 70.8 640.3 71.2 646.6 71.2 636.8 71.8 638.6 71.8 646.4 72.2 648.2 72.2 635 72.8 627 72.8 646 73.2 637 73.2 635.9 73.8 631.8 73.8 639.4 74.2 649.4 74.2 633 74.8 625.6 74.8 659.2 75.2 647.9 75.2 641.3 75.8 628.8 75.8 649.5 76.2 637.4 76.2 629.2 76.8 643.5 76.8 649.2 77.2 657.2 77.2 627 77.8 638.8 77.8 647.5 78.2 652.5 78.2 641.7 78.8 638.5 78.8 655.4 79.2 650.5 79.2 638 79.8 626.7 79.8 657 80.2 643.9 80.2 628.1 80.8 625.5 80.8 642.7 81.2 655.3 81.2 640 81.8 640.9 81.8 657.3 82.2 641 82.2 631.9 82.8 634.4 82.8 648.3 83.2 642.4 83.2 637.2 83.8 643.1 83.8 656.5 84.2 655.9 84.2 639.3 84.8 634.5 84.8 660.1 85.2 665.3 85.2 643.2 85.8 636.9 85.8 654.2 86.2 645.6 86.2 635.3 86.8 629.6 86.8 647 87.2 641.3 87.2 626.9 87.8 639.4 87.8 654.4 88.2 650.6 88.2 642.3 88.8 638.5 88.8 648.5 89.2 646.4 89.2 644.2 89.8 642.5 89.8 651 90.2 641.1 90.2 633.7 90.8 639.2 90.8 649.2 91.2 648.9 91.2 636.1 91.8 630.2 91.8 645 92.2 640.6 92.2 638.8 92.8 630.4 92.8 652 93.2 656.2 93.2 640.8 93.8 633.3 93.8 654.6 94.2 652.9 94.2 640.6 94.8 624.7 94.8 646.8 95.2 644.1 95.2 630.4 95.8 634.2 95.8 641.9 96.2 652.5 96.2 638.8 96.8 629.2 96.8 650.7 97.2 648.2 97.2 640.1 97.8 629.7 97.8 645.4 98.2 648 98.2 622.5 98.8 613.4 98.8 638.2 99.2 636.8 99.2 611.7 99.8 633.5 99.8 651.8 100.2 643.3 100.2 631.1 100.8 635.7 100.8 647.4 101.2 643.1 101.2 634.6 101.8 633.8 101.8 650.4 102.2 651.4 102.2 628.2 102.8 634.9 102.8 649.6 103.2 642.2 103.2 641.1 103.8 631.1 103.8 644 104.2 642.3 104.2 630.3 104.8 640.3 104.8 658.3 105.2 647.4 105.2 635 105.8 631.7 105.8 646.1 106.2 645.7 106.2 636.4 106.8 629.3 106.8 647.9 107.2 634.8 107.2 629.8 107.8 632.8 107.8 649.2 108.2 641.9 108.2 630.1 108.8 622.5 108.8 635.3 109.2 635.9 109.2 634.9 109.8 635.6 109.8 649.7 110.2 647.5 110.2 645.9 110.8 632.9 110.8 637.2 111.2 648.2 111.2 639.8 111.8 636.5 111.8 653 112.2 649.6 112.2 619.2 112.8 627.4 112.8 657.4 113.2 647.1 113.2 637.4 113.8 631.4 113.8 643.5 114.2 646.4 114.2 639.5 114.8 629.6 114.8 652 115.2 650.9 115.2 633.2 115.8 632.6 115.8 643.4 116.2 632 116.2 629.5 116.8 637.2 116.8 647.4 117.2 634.3 117.2 622 117.8 580 117.8 616.8 118.2 640.7 118.2 619.1 118.8 628.6 118.8 646.9 119.2 642 119.2 635.7 119.8 625.3 119.8 645.1 120.2 641.8 120.2 631.7 120.8 638.6 120.8 657.6 121.2 643.1 121.2 636.4 121.8 635.8 121.8 640.5 122.2 644.6 122.2 635.8 122.8 633.8 122.8 657.6 123.2 652.3 123.2 637 123.8 628.9 123.8 652.2 124.2 651.2 124.2 636.9 124.8 634.4 124.8 649.7 125.2 639.2 125.2 635.5 125.8 640.8 125.8 651.2 126.2 641.2 126.2 628.7 126.8 642.5 126.8 655.3 127.2 646.5 127.2 631.6 127.8 639.3 127.8 651.2 128.2 646.1 128.2 637.2 128.8 632.6 128.8 656.6 129.2 643.5 129.2 641.5 129.8 634.3 129.8 642.4 130.2 640.1 130.2 633.7 130.8 633.9 130.8 647.6 131.2 649.2 131.2 647.1 131.8 629 131.8 639.4 132.2 652.1 132.2 634.6 132.8 632.3 132.8 652.7 133.2 642.8 133.2 635 133.8 636.8 133.8 657.1 134.2 648.3 134.2 644.8 134.8 632.2 134.8 654.7 135.2 638.6 135.2 632.4 135.8 633.1 135.8 658.9 136.2 655.4 136.2 649.2 136.8 640.2 136.8 646.1 137.2 655.1 137.2 640.9 137.8 634.4 137.8 652.9 138.2 650.1 138.2 637.9 138.8 633.5 138.8 654.6 139.2 659.9 139.2 647.9 139.8 644.7 139.8 663.6 140.2 656.2 140.2 643.7 140.8 646.4 140.8 661.8 141.2 655 141.2 636.6 141.8 639.7 141.8 644.8 142.2 653.2 142.2 633.8 142.8 641.8 142.8 651.3 143.2 652.3 143.2 645.2 143.8 634.8 143.8 646.2 144.2 639.2 144.2 634.1 144.8 628.1 144.8 654.6 145.2 650 145.2 632.8 145.8 635.4 145.8 650.7 146.2 652.3 146.2 644.8 146.8 634.4 146.8 645.1 147.2 642.3 147.2 640.1 147.8 635.5 147.8 651.1 148.2 652.9 148.2 634.9 148.8 633.5 148.8 648.7 149.2 650.9 149.2 647.6 149.8 631.7 149.8 643.6 150.2 653.5 150.2 634.5 150.8 625.7 150.8 650 151.2 658.2 151.2 635.9 151.8 634.1 151.8 649.5 152.2 649.3 152.2 637.8 152.8 640 152.8 649.1 153.2 653.5 153.2 639.8 153.8 638.5 153.8 641.6 154.2 656.3 154.2 644.9 154.8 641.9 154.8 653.4 155.2 655.7 155.2 634.1 155.8 638.8 155.8 651.1 156.2 640.9 156.2 629.6 156.8 627 156.8 643 157.2 644.5 157.2 637.7 157.8 632.4 157.8 645.3 158.2 649.5 158.2 639.6 158.8 637.2 158.8 646.8 159.2 642.9 159.2 637.1 159.8 642.7 159.8 665 160.2 652.2 160.2 644.9 160.8 646.9 160.8 661.3 161.2 654.2 161.2 632.5 161.8 629.2 161.8 645.2 162.2 645.9 162.2 632.4 162.8 642.9 162.8 650.6 163.2 653.5 163.2 642.1 163.8 643 163.8 659.6 164.2 644.6 164.2 638.5 164.8 645.6 164.8 656.6 165.2 652.6 165.2 645.8 165.8 642.6 165.8 650.1 166.2 652.5 166.2 642 166.8 643.6 166.8 655.5 167.2 659.3 167.2 642.7 167.8 640.5 167.8 649.7 168.2 655.3 168.2 637.9 168.8 633.5 168.8 655.7 169.2 643.1 169.2 637.3 169.8 651.8 169.8 654.1 170.2 649.6 170.2 633.3 170.8 643.6 170.8 650.9 171.2 659.5 171.2 641.7 171.8 647 171.8 655.6 172.2 661 172.2 639.8 172.8 641.9 172.8 649.4 173.2 653.2 173.2 647.7 173.8 634.3 173.8 652.2 174.2 664.4 174.2 645.3 174.8 647.6 174.8 661.6 175.2 651.3 175.2 640.5 175.8 639.5 175.8 656.4 176.2 646.3 176.2 642.2 176.8 645.8 176.8 652.3 177.2 655.4 177.2 634.4 177.8 638.5 177.8 653.2 178.2 649.6 178.2 643.8 178.8 647.9 178.8 658.1 179.2 643.9 179.2 637.6 179.8 643.4 179.8 656.7 180.2 654.9 180.2 639.1 180.8 641.4 180.8 649.1 181.2 655.9 181.2 639.7 181.8 633 181.8 651.9 182.2 648.4 182.2 633.9 182.8 641.9 182.8 651.7 183.2 650.1 183.2 648.9 183.8 634 183.8 650 184.2 645.8 184.2 639.9 184.8 634.5 184.8 647.3 185.2 647.9 185.2 634.7 185.8 633.6 185.8 648.1 186.2 649 186.2 637.9 186.8 624.8 186.8 655.4 187.2 646 187.2 637.3 187.8 629.9 187.8 655.3 188.2 646.4 188.2 621.6 188.8 621.4 188.8 652.7 189.2 644.4 189.2 637 189.8 640.4 189.8 650.2 190.2 651.4 190.2 634 190.8 641.8 190.8 651.7 191.2 649.6 191.2 640.5 191.8 637.7 191.8 649.9 192.2 650.8 192.2 643.4 192.8 635.4 192.8 650.3 193.2 646.9 193.2 638.6 193.8 641.4 193.8 650.9 194.2 656.9 194.2 646.1 194.8 643.1 194.8 661.6 195.2 652.7 195.2 639.9 195.8 633.4 195.8 645.9 196.2 644 196.2 640.8 196.8 641.1 196.8 650.1 197.2 649.5 197.2 642.9 197.8 641.1 197.8 655.8 198.2 647.4 198.2 641.5 198.8 631.7 198.8 645.9 199.2 649.9 199.2 629.6 199.8 641.9 199.8 644.5 200.2 645.5 200.2 640 200.8 624.1 200.8 647.2 201.2 653.2 201.2 622.1 201.8 630.9 201.8 652.6 202.2 646.7 202.2 634 202.8 642.4 202.8 657.2 203.2 643.6 203.2 636.1 203.8 633.5 203.8 656.2 204.2 653.3 204.2 635.8 204.8 638.8 204.8 654.3 205.2 640.7 205.2 634.9 205.8 634.1 205.8 643.2 206.2 649.6 206.2 641.6 206.8 633.7 206.8 656.4 207.2 648.6 207.2 631.6 207.8 637.5 207.8 655.7 208.2 649.3 208.2 632.2 208.8 634.1 208.8 647 209.2 662 209.2 650.2 209.8 637.7 209.8 646.9 210.2 646.3 210.2 637.3 210.8 627.5 210.8 651.9 211.2 644.5 211.2 636.1 211.8 640.1 211.8 651 212.2 640.6 212.2 625.8 212.8 627.9 212.8 643.6 213.2 638.7 213.2 631.3 213.8 628.9 213.8 647.3 214.2 646.2 214.2 636.2 214.8 635.4 214.8 650.5 215.2 646.6 215.2 636.7 215.8 638.5 215.8 644.8 216.2 649.4 216.2 629 216.8 636.4 216.8 648 217.2 639.6 217.2 628.5 217.8 635.8 217.8 651.4 218.2 645.7 218.2 636.2 218.8 632.9 218.8 645.9 219.2 644.8 219.2 640.7 219.8 626.6 219.8 637.7 220.2 642.9 220.2 636.6 220.8 574 220.8 625.4 221.2 637.2 221.2 615.4 221.8 625.8 221.8 646.6 222.2 646.6 222.2 639.4 222.8 634.5 222.8 661.5 223.2 646.5 223.2 638.9 223.8 640.2 223.8 645.3 224.2 643.7 224.2 635.2 224.8 630.6 224.8 649.7 225.2 653.5 225.2 634.5 225.8 631 225.8 646.8 226.2 651 226.2 640.3 226.8 640.3 226.8 645.1 227.2 648.4 227.2 638.3 227.8 640.6 227.8 651.2 228.2 647.5 228.2 641.1 228.8 631.2 228.8 646 229.2 653.6 229.2 634.4 229.8 635.5 229.8 647.2 230.2 647.1 230.2 629 230.8 632.8 230.8 652 231.2 645.2 231.2 635.3 231.8 630.7 231.8 642 232.2 647.3 232.2 636.4 232.8 638 232.8 643.3 233.2 642.7 233.2 632.5 233.8 637.7 233.8 649.8 234.2 648.3 234.2 642.5 234.8 638.6 234.8 644.1 235.2 641.5 235.2 636.1 235.8 639.1 235.8 654.3 236.2 647.9 236.2 638.2 236.8 632.5 236.8 659.4 237.2 633.9 237.2 603 237.8 583.6 237.8 621.1 238.2 646.7 238.2 642.2 238.8 634.4 238.8 645.2 239.2 649.8 239.2 641.8 239.8 639.7 239.8 640.6 240.2 644.6 240.2 640.9 240.8 641.5 240.8 653.4 241.2 643.6 241.2 640 241.8 633.8 241.8 644 242.2 645.1 242.2 640.8 242.8 642.1 242.8 658.9 243.2 645.9 243.2 642.2 243.8 635.4 243.8 652.9 244.2 646.8 244.2 635 244.8 638.2 244.8 657.9 245.2 640.1 245.2 637.2 245.8 632.6 245.8 643.9 246.2 639.5 246.2 637.2 246.8 637.6 246.8 648.6 247.2 646.4 247.2 627.8 247.8 633.1 247.8 644.6 248.2 647.3 248.2 626.3 248.8 641.5 248.8 652.8 249.2 643.8 249.2 635.8 249.8 644.5 249.8 648.6 250.2 650.6 250.2 635.3 250.8 638.3 250.8 659.1 251.2 652.3 251.2 641.7 251.8 637.8 251.8 651.6 252.2 649.8 252.2 640.8 252.8 637.9 252.8 649.2 253.2 643 253.2 631.3 253.8 639.6 253.8 656.1 254.2 660.2 254.2 641.2 254.8 626.9 254.8 652.2 255.2 655.8 255.2 639.9 255.8 645.2 255.8 652.9 256.2 640.2 256.2 625.3 256.8 644.9 256.8 651.2 257.2 657.7 257.2 640.9 257.8 634.9 257.8 646.3 258.2 644.6 258.2 641.3 258.8 634 258.8 644.3 259.2 649.9 259.2 638.5 259.8 636.3 259.8 647.3 260.2 652.1 260.2 633.9 260.8 640.8 260.8 645.9 261.2 653.7 261.2 633.8 261.8 635.7 261.8 650.9 262.2 651.5 262.2 648.8 262.8 637.7 262.8 653.1 263.2 652 263.2 633.4 263.8 640.2 263.8 650.9 264.2 649.4 264.2 629.9 264.8 640.5 264.8 644.7 265.2 663.3 265.2 625.6 265.8 638.5 265.8 648.8 266.2 656.7 266.2 643.6 266.8 634.8 266.8 648.9 267.2 645.2 267.2 634.7 267.8 635.3 267.8 650.5 268.2 649.2 268.2 641.2 268.8 639.7 268.8 649.1 269.2 648 269.2 642.3 269.8 638.7 269.8 644.9 270.2 646.6 270.2 638.4 270.8 642.7 270.8 651.2 271.2 656.8 271.2 643.8 271.8 636.8 271.8 646.6 272.2 645.4 272.2 640.9 272.8 637.6 272.8 649.3 273.2 649.9 273.2 638.6 273.8 639.4 273.8 651.1 274.2 645.7 274.2 634.8 274.8 632.9 274.8 643.2 275.2 642.6 275.2 631.6 275.8 625 275.8 637.2 276.2 642.8 276.2 636.2 276.8 594.6 276.8 628.4 277.2 634.4 277.2 591 277.8 629.3 277.8 654.7 278.2 653.2 278.2 638.9 278.8 632.6 278.8 651.2 279.2 645.7 279.2 641.3 279.8 629.6 279.8 658.3 280.2 651.3 280.2 638.4 280.8 634.8 280.8 641.3 281.2 638.1 281.2 631.9 281.8 641.4 281.8 656.8 282.2 645.5 282.2 635.2 282.8 633.8 282.8 650 283.2 653.9 283.2 635.5 283.8 637.2 283.8 644.3 284.2 653.7 284.2 639.1 284.8 634.1 284.8 649.7 285.2 652.2 285.2 635.9 285.8 639.6 285.8 647.1 286.2 644.6 286.2 635.4 286.8 626.5 286.8 653.6 287.2 650.4 287.2 641.9 287.8 622.4 287.8 644.4 288.2 651.2 288.2 647.9 288.8 629.2 288.8 649.1 289.2 644.3 289.2 632.2 289.8 630.5 289.8 653.5 290.2 638.7 290.2 633.7 290.8 633.5 290.8 644.9 291.2 655.6 291.2 649.5 291.8 641.6 291.8 653.7 292.2 654 292.2 627 292.8 633.2 292.8 644.5 293.2 647.3 293.2 632.7 293.8 640.4 293.8 649.3 294.2 647.3 294.2 634.7 294.8 628.8 294.8 643.1 295.2 654.2 295.2 644.2 295.8 640 295.8 651.2 296.2 644 296.2 631.2 296.8 637.9 296.8 649 297.2 656.2 297.2 633.6 297.8 641.2 297.8 660.7 298.2 641.5 298.2 633.3 298.8 639 298.8 646.3 299.2 651.9 299.2 633.2 299.8 638.1 299.8 652.3 300.2 649.4 300.2 641 300.8 630.5 300.8 649.3 301.2 649.4 301.2 643.2 301.8 639.1 301.8 651.4 302.2 647.5 302.2 645.3 302.8 632.7 302.8 644.2 303.2 652.1 303.2 643 303.8 646.8 303.8 651.7 304.2 650.7 304.2 640.5 304.8 641.1 304.8 657.9 305.2 655.4 305.2 637 305.8 645.7 305.8 660.1 306.2 654.8 306.2 643.6 306.8 635.7 306.8 651.5 307.2 648.4 307.2 630.5 307.8 629.4 307.8 645.6 308.2 640.5 308.2 636.8 308.8 631.1 308.8 647.7 309.2 649.8 309.2 641.7 309.8 635.5 309.8 647.6 310.2 644.2 310.2 622.8 310.8 626.1 310.8 652.6 311.2 639.8 311.2 632.1 311.8 637 311.8 642.4 312.2 644 312.2 633.8 312.8 620.9 312.8 641 313.2 608.2 313.2 544.9 313.8 533.5 313.8 622 314.2 620.8 314.2 605.1 314.8 532.6 314.8 587.8 315.2 635.4 315.2 609.3 315.8 634.8 315.8 645.1 316.2 655.2 316.2 638 316.8 643.4 316.8 654 317.2 652 317.2 642.3 317.8 642.4 317.8 646.7 318.2 646.1 318.2 642.3 318.8 640.8 318.8 648.9 319.2 651.1 319.2 641 319.8 630.6 319.8 652.8 320.2 631.1 320.2 600 320.8 573.1 320.8 635.5 321.2 639.2 321.2 631 321.8 627.4 321.8 638.2 322.2 645 322.2 633.2 322.8 636.4 322.8 651.3 323.2 651.6 323.2 634.4 323.8 629.2 323.8 651.3 324.2 648.7 324.2 630.3 324.8 627.8 324.8 645.9 325.2 647.1 325.2 637 325.8 636.6 325.8 644.7 326.2 644.1 326.2 642.8 326.8 631.9 326.8 651.1 327.2 636.7 327.2 634.5 327.8 627.9 327.8 646.1 328.2 639.7 328.2 635.1 328.8 625.7 328.8 650.9 329.2 652.9 329.2 636.6 329.8 634.4 329.8 640.7 330.2 643.6 330.2 624.3 330.8 618.4 330.8 639.9 331.2 636 331.2 628.9 331.8 596.6 331.8 629.8 332.2 555.4 332.2 508.5 332.8 588.1 332.8 637.3 333.2 637.2 333.2 620.1 333.8 630.3 333.8 641.7 334.2 635.7 334.2 629 334.8 638.7 334.8 648.3 335.2 634.8 335.2 629.9 335.8 627.6 335.8 649.9 336.2 646.4 336.2 627.5 336.8 629.4 336.8 648.4 337.2 639.9 337.2 637.3 337.8 631.6 337.8 639.2 338.2 645.1 338.2 625.1 338.8 637.7 338.8 647.6 339.2 647.2 339.2 629.3 339.8 635.7 339.8 639.2 340.2 638.2 340.2 629.2 340.8 636.3 340.8 649.6 341.2 649 341.2 631.9 341.8 636.4 341.8 650.2 342.2 647.1 342.2 637.3 342.8 632.4 342.8 641 343.2 642.8 343.2 614.7 343.8 631 343.8 636.4 344.2 627.8 344.2 604 344.8 492.3 344.8 571.1 345.2 630.2 345.2 600 345.8 628.4 345.8 638.9 346.2 634.8 346.2 622.3 346.8 633.6 346.8 648.1 347.2 644.6 347.2 631.2 347.8 634.1 347.8 641.8 348.2 650.7 348.2 635.4 348.8 633.8 348.8 646.9 349.2 645.9 349.2 633.7 349.8 633.5 349.8 642.7 350.2 646.7 350.2 643.9 350.8 629.7 350.8 646.2 351.2 646.2 351.2 633.8 351.8 631.5 351.8 647.8 352.2 641.6 352.2 632.2 352.8 637 352.8 643.9 353.2 643.9 353.2 638 353.8 632.3 353.8 643.5 354.2 648.3 354.2 642.1 354.8 627.1 354.8 639.1 355.2 636.1 355.2 628.8 355.8 526.5 355.8 621.5 356.2 598.8 356.2 501 356.8 606.2 356.8 636 357.2 647.5 357.2 629 357.8 633.4 357.8 657 358.2 637.6 358.2 637.4 358.8 633.8 358.8 644.2 359.2 641.3 359.2 633.9 359.8 621 359.8 634.7 360.2 621 360.2 554.4 360.8 498 360.8 604.6 361.2 632.3 361.2 625.5 361.8 626.8 361.8 642.5 362.2 643 362.2 630 362.8 626.1 362.8 652.4 363.2 645.8 363.2 623.5 363.8 637 363.8 647.5 364.2 640.7 364.2 634.7 364.8 635.6 364.8 651.5 365.2 651.6 365.2 630.5 365.8 642.3 365.8 659.2 366.2 649.1 366.2 634.5 366.8 640.8 366.8 648.1 367.2 649.8 367.2 641.9 367.8 628.9 367.8 657.2 368.2 651.1 368.2 643.8 368.8 637.1 368.8 656.1 369.2 649 369.2 640.8 369.8 637 369.8 648.2 370.2 640.1 370.2 634.7 370.8 634.6 370.8 649.3 371.2 640.2 371.2 628 371.8 646.7 371.8 652 372.2 646.5 372.2 636.4 372.8 636.2 372.8 646.3 373.2 647.7 373.2 637 373.8 636.9 373.8 650 374.2 651.8 374.2 632.8 374.8 632.5 374.8 646.6 375.2 648.7 375.2 639.2 375.8 630.5 375.8 646.4 376.2 655.5 376.2 632 376.8 632.6 376.8 650.6 377.2 649.7 377.2 633.5 377.8 634.7 377.8 643.1 378.2 646.4 378.2 628.6 378.8 641.7 378.8 657.6 379.2 647.4 379.2 637.2 379.8 645.2 379.8 649.7 380.2 646.7 380.2 624.4 380.8 631.2 380.8 658.6 381.2 655.9 381.2 640.6 381.8 638.8 381.8 660.9 382.2 641 382.2 638 382.8 644 382.8 647.1 383.2 648.9 383.2 635.6 383.8 640 383.8 646.2 384.2 651.5 384.2 643.2 384.8 636.7 384.8 644.1 385.2 650.2 385.2 645.5 385.8 636.9 385.8 645.8 386.2 645.2 386.2 638.1 386.8 640.5 386.8 647.9 387.2 653.6 387.2 644 387.8 627.2 387.8 647.5 388.2 635.9 388.2 626.6 388.8 499.6 388.8 606.3 389.2 618.7 389.2 498 389.8 617.3 389.8 642.3 390.2 648.5 390.2 642 390.8 631.3 390.8 660.2 391.2 653.9 391.2 639.3 391.8 639.6 391.8 650.4 392.2 648.6 392.2 636 392.8 634.9 392.8 642 393.2 651.2 393.2 645 393.8 633.2 393.8 643.6 394.2 658.5 394.2 640.8 394.8 633 394.8 653.5 395.2 652.1 395.2 636.3 395.8 636.2 395.8 651.2 396.2 646 396.2 633.7 396.8 638.3 396.8 651.1 397.2 647.7 397.2 634 397.8 637.5 397.8 641.6 398.2 650.7 398.2 641.5 398.8 640 398.8 643.3 399.2 640.6 399.2 630.8 399.8 636.5 399.8 648.3 400.2 657.3 400.2 639.1 400.8 641 400.8 650 401.2 647.2 401.2 637.9 401.8 634.4 401.8 655.6 402.2 649.6 402.2 633.9 402.8 633.6 402.8 639.8 403.2 646.7 403.2 638.3 403.8 627.8 403.8 643.9 404.2 648.6 404.2 639.2 404.8 639.4 404.8 656.1 405.2 656.6 405.2 642.7 405.8 640.1 405.8 656.1 406.2 651.2 406.2 640.2 406.8 640.6 406.8 650.7 407.2 647.4 407.2 637.5 407.8 633.4 407.8 661 408.2 654.6 408.2 638.9 408.8 616.5 408.8 647.1 409.2 651.1 409.2 647.2 409.8 631.1 409.8 653.4 410.2 644.2 410.2 630.8 410.8 632.1 410.8 649.9 411.2 642.3 411.2 634.6 411.8 634.9 411.8 643.4 412.2 651.7 412.2 634.6 412.8 644.2 412.8 647.5 413.2 641.8 413.2 627.3 413.8 631.8 413.8 651 414.2 650.3 414.2 640.7 414.8 633.2 414.8 647 415.2 644.6 415.2 634.4 415.8 633.5 415.8 657 416.2 653.2 416.2 632.9 416.8 635.6 416.8 655.9 417.2 649.7 417.2 641.3 417.8 637.6 417.8 645.3 418.2 649.7 418.2 641.3 418.8 639.8 418.8 644.8 419.2 647.1 419.2 642.9 419.8 629 419.8 641.8 420.2 646.1 420.2 635.5 420.8 634.1 420.8 655.6 421.2 650.4 421.2 644.6 421.8 634.1 421.8 643.9 422.2 653.6 422.2 642.5 422.8 637.5 422.8 654.8 423.2 647.9 423.2 637.6 423.8 635.9 423.8 651.9 424.2 650 424.2 643.8 424.8 637.8 424.8 654.4 425.2 651.9 425.2 636.8 425.8 637.1 425.8 655.3 426.2 646 426.2 636.4 426.8 639.4 426.8 654.4 427.2 652.5 427.2 643.9 427.8 631.8 427.8 646.1 428.2 643.6 428.2 627.9 428.8 637.6 428.8 646.8 429.2 653.9 429.2 633.5 429.8 639.8 429.8 657.4 430.2 641 430.2 630.9 430.8 632.7 430.8 651.9 431.2 647.7 431.2 631.6 431.8 635.3 431.8 646.7 432.2 643.3 432.2 641.7 432.8 638.1 432.8 654.6 433.2 645.3 433.2 637.2 433.8 627.7 433.8 654.4 434.2 644.9 434.2 636.6 434.8 630.6 434.8 645.4 435.2 641 435.2 636.3 435.8 629.7 435.8 646.2 436.2 635.9 436.2 618.9 436.8 619.7 436.8 647.8 437.2 651 437.2 639.1 437.8 631.6 437.8 642.8 438.2 640.9 438.2 628.5 438.8 635.9 438.8 651.8 439.2 640.8 439.2 631.5 439.8 626.8 439.8 647.3 440.2 646 440.2 632.5 440.8 636 440.8 658.3 441.2 648.3 441.2 643.1 441.8 627.6 441.8 645.2 442.2 646.8 442.2 636.5 442.8 632.2 442.8 646.6 443.2 645 443.2 641.6 443.8 633.5 443.8 649.3 444.2 655.5 444.2 639.8 444.8 620.5 444.8 644.1 445.2 651.6 445.2 635.2 445.8 624.5 445.8 653.2 446.2 644.5 446.2 636.7 446.8 634.5 446.8 644.6 447.2 644.7 447.2 638.1 447.8 638.7 447.8 648.1 448.2 647.5 448.2 633.2 448.8 623.4 448.8 645 449.2 643.6 449.2 627.2 449.8 638.6 449.8 646.6 450.2 646.4 450.2 641 450.8 627.1 450.8 648.8 451.2 652.1 451.2 635.2 451.8 635.1 451.8 649.7 452.2 640.6 452.2 629.1 452.8 639.6 452.8 650.8 453.2 655 453.2 649 453.8 631.1 453.8 651.2 454.2 658.2 454.2 631.2 454.8 623 454.8 641.8 455.2 658.2 455.2 641.9 455.8 632.7 455.8 644.9 456.2 646.5 456.2 636.3 456.8 640.5 456.8 648 457.2 644.2 457.2 634.1 457.8 625.7 457.8 642.8 458.2 632.7 458.2 598.2 458.8 531.6 458.8 606.2 459.2 640.8 459.2 622.2 459.8 635.1 459.8 653 460.2 639.1 460.2 635.6 460.8 633 460.8 647.4 461.2 646.3 461.2 632.3 461.8 635.1 461.8 643 462.2 654.5 462.2 638.4 462.8 628.6 462.8 645.4 463.2 653.7 463.2 640 463.8 641.7 463.8 652.2 464.2 643.1 464.2 632.1 464.8 631.7 464.8 651.4 465.2 647 465.2 640.5 465.8 637.3 465.8 651.5 466.2 651.4 466.2 631.8 466.8 645.6 466.8 656 467.2 652.7 467.2 641.9 467.8 637.5 467.8 655.4 468.2 644.3 468.2 635.6 468.8 640.8 468.8 653.8 469.2 650.9 469.2 644.9 469.8 636.5 469.8 650.3 470.2 647.4 470.2 642.9 470.8 640.2 470.8 657.8 471.2 658.4 471.2 623.8 471.8 638 471.8 658.2 472.2 649.5 472.2 636.2 472.8 638.8 472.8 660.1 473.2 653.8 473.2 635.8 473.8 626.1 473.8 644.4 474.2 640.9 474.2 630.6 474.8 599.1 474.8 635.1 475.2 601.9 475.2 557.7 475.8 624.9 475.8 639.4 476.2 633.8 476.2 628.2 476.8 632.9 476.8 643.3 477.2 649.5 477.2 643.1 477.8 633.1 477.8 644.6 478.2 640.5 478.2 633.2 478.8 627.8 478.8 642.3 479.2 642.9 479.2 635.1 479.8 634.5 479.8 645 480.2 648.3 480.2 641 480.8 634.7 480.8 651.1 481.2 654.2 481.2 633.2 481.8 634.2 481.8 650 482.2 654.7 482.2 633.1 482.8 641.9 482.8 645.9 483.2 643.4 483.2 636 483.8 639.3 483.8 658.5 484.2 654.1 484.2 643.9 484.8 638.8 484.8 659.4 485.2 642.3 485.2 638.1 485.8 632.3 485.8 655.5 486.2 651 486.2 637.6 486.8 645 486.8 660.2 487.2 643 487.2 635.3 487.8 633.6 487.8 644.5 488.2 640.7 488.2 637.6 488.8 634.8 488.8 654.8 489.2 642.1 489.2 638.3 489.8 627.5 489.8 641.7 490.2 645.8 490.2 627.3 490.8 638.4 490.8 649.6 491.2 652.9 491.2 643.9 491.8 636.5 491.8 648.4 492.2 642.9 492.2 637 492.8 630.3 492.8 639.3 493.2 652.7 493.2 649.2 493.8 639.7 493.8 646.3 494.2 643.1 494.2 627.9 494.8 636 494.8 652.4 495.2 650.3 495.2 640.1 495.8 635.5 495.8 640.9 496.2 646.4 496.2 639.7 496.8 641.8 496.8 647.6 497.2 633.3 497.2 629.7 497.8 634.7 497.8 649.2 498.2 644.1 498.2 640.8 498.8 634.3 498.8 653 499.2 651.7 499.2 629.7 499.8 641.8 499.8 647.4 500.2 656.2 500.2 627.6 500.8 641.2 500.8 651.1 501.2 654.7 501.2 646.7 501.8 641.2 501.8 652.7 502.2 648.1 502.2 644.8 502.8 644.6 502.8 657.9 503.2 647.3 503.2 646.3 503.8 636.2 503.8 644.6 504.2 644.3 504.2 637.6 504.8 631 504.8 655.3 505.2 650.5 505.2 642.8 505.8 638.1 505.8 650.2 506.2 644.5 506.2 632.7 506.8 637.5 506.8 654.1 507.2 638.3 507.2 623.4 507.8 642.9 507.8 658.8 508.2 645.4 508.2 633 508.8 635.1 508.8 652.5 509.2 647.9 509.2 635.5 509.8 625.6 509.8 641.6 510.2 652.6 510.2 640.9 510.8 641.5 510.8 655.3 511.2 637.2 511.2 632.9 511.8 635.1 511.8 646.7 512.2 638.9 512.2 627.3 512.8 618 512.8 644 513.2 640.3 513.2 622.7 513.8 626 513.8 643 514.2 645.3 514.2 634.9 514.8 633.1 514.8 642.2 515.2 644.2 515.2 638.7 515.8 631.7 515.8 646.2 516.2 648.5 516.2 633.7 516.8 635.4 516.8 638.2 517.2 656.4 517.2 647.6 517.8 638.2 517.8 646.6 518.2 651.8 518.2 633.6 518.8 637.1 518.8 643.6 519.2 652 519.2 642.7 519.8 634.3 519.8 645 520.2 647.7 520.2 640.7 520.8 640 520.8 651.1 521.2 646.7 521.2 641.9 521.8 639 521.8 650.1 522.2 645.8 522.2 639.1 522.8 627.4 522.8 649.3 523.2 648.9 523.2 635.8 523.8 634.9 523.8 649.7 524.2 649.9 524.2 640.6 524.8 642.6 524.8 650.7 525.2 648.8 525.2 638 525.8 640.4 525.8 650.1 526.2 651.7 526.2 644.9 526.8 637.4 526.8 646.8 527.2 655.2 527.2 636.5 527.8 637.7 527.8 649.5 528.2 647.9 528.2 639.2 528.8 640.8 528.8 649.2 529.2 655 529.2 642 529.8 629.8 529.8 646.1 530.2 649.1 530.2 644 530.8 638.7 530.8 648.8 531.2 647.9 531.2 632.1 531.8 645.8 531.8 652.3 532.2 645.1 532.2 628.5 532.8 641.9 532.8 651.9 533.2 652 533.2 641.9 533.8 636.4 533.8 649.2 534.2 657.7 534.2 636.8 534.8 632.3 534.8 648.2 535.2 654.8 535.2 640.7 535.8 635 535.8 642.2 536.2 650.8 536.2 634.3 536.8 632.4 536.8 644.8 537.2 645.1 537.2 638.4 537.8 632.8 537.8 656.9 538.2 647.8 538.2 621.9 538.8 626.8 538.8 639.9 539.2 657.4 539.2 636.1 539.8 627.4 539.8 652.9 540.2 637.3 540.2 633.4 540.8 640.9 540.8 649.8 541.2 655 541.2 628.8 541.8 632.2 541.8 640.8 542.2 643.6 542.2 625.5 542.8 634.4 542.8 653.3 543.2 652.2 543.2 648.2 543.8 631.6 543.8 655.7 544.2 643.7 544.2 630.2 544.8 616 544.8 638.1 545.2 593.9 545.2 519.2 545.8 563.8 545.8 610.3 546.2 593.7 546.2 542.4 546.8 576.4 546.8 637.3 547.2 643.7 547.2 630.6 547.8 629.7 547.8 639.9 548.2 642 548.2 638.2 548.8 631.8 548.8 639.9 549.2 641.1 549.2 631.8 549.8 627.5 549.8 650.3 550.2 637.2 550.2 623.8 550.8 632.4 550.8 646.2 551.2 638.9 551.2 627.5 551.8 628.8 551.8 658.4 552.2 646.7 552.2 624.4 552.8 622.7 552.8 635.6 553.2 602.5 553.2 516.3 553.8 536.2 553.8 624.2 554.2 635.3 554.2 625.3 554.8 631.7 554.8 656.3 555.2 643.6 555.2 632.6 555.8 638.5 555.8 656.1 556.2 652.5 556.2 628.6 556.8 635.8 556.8 646 557.2 659.9 557.2 634.3 557.8 636.6 557.8 650.8 558.2 652 558.2 640.2 558.8 625.2 558.8 639.9 559.2 619.2 559.2 575.3 559.8 590.4 559.8 622.9 560.2 619.7 560.2 608.7 560.8 625.1 560.8 634.5 561.2 635.1 561.2 632.1 561.8 605.5 561.8 636.5 562.2 629.2 562.2 608.9 562.8 642 562.8 646.5 563.2 636.3 563.2 631.4 563.8 628.5 563.8 641.1 564.2 645.2 564.2 632.4 564.8 600.6 564.8 635.5 565.2 579 565.2 547.8 565.8 606.2 565.8 628.6 566.2 634.4 566.2 628.4 566.8 604.5 566.8 634.1 567.2 636.8 567.2 625.9 567.8 632.8 567.8 646.8 568.2 644 568.2 625.7 568.8 629.6 568.8 635.9 569.2 644.1 569.2 628.2 569.8 622.2 569.8 641.1 570.2 638.5 570.2 630.4 570.8 631.7 570.8 644 571.2 647.2 571.2 634.1 571.8 635.5 571.8 643.4 572.2 636.8 572.2 630.1 572.8 595.8 572.8 629.3 573.2 560 573.2 493.3 573.8 566.8 573.8 622.6 574.2 631.5 574.2 619.8 574.8 610.7 574.8 624.3 575.2 640.9 575.2 626.3 575.8 621 575.8 647.7 576.2 648.7 576.2 632.2 576.8 625.1 576.8 640.3 577.2 641.7 577.2 621.6 577.8 612.6 577.8 629 578.2 641.1 578.2 637 578.8 630.7 578.8 642.6 579.2 657 579.2 626.4 579.8 628 579.8 646.2 580.2 644.3 580.2 639 580.8 637.9 580.8 648.9 581.2 650.9 581.2 629.8 581.8 634.3 581.8 650.6 582.2 639.2 582.2 627.8 582.8 633.3 582.8 663.1 583.2 648.8 583.2 642.1 583.8 632.5 583.8 650.3 584.2 648 584.2 637.5 584.8 640.4 584.8 655 585.2 650.6 585.2 639.7 585.8 635.1 585.8 647.7 586.2 650.6 586.2 647.1 586.8 638.4 586.8 646.6 587.2 641.3 587.2 630.9 587.8 635 587.8 660.3 588.2 638.5 588.2 636.3 588.8 552.4 588.8 622.7 589.2 559.1 589.2 470.4 589.8 601.5 589.8 634.2 590.2 647.5 590.2 633.6 590.8 638.9 590.8 653.7 591.2 648.4 591.2 640.4 591.8 634.3 591.8 643.2 592.2 645.8 592.2 638.8 592.8 630.9 592.8 638.4 593.2 648.3 593.2 634.1 593.8 627.9 593.8 662.7 594.2 647.8 594.2 638.9 594.8 634.1 594.8 651.8 595.2 643.1 595.2 632.8 595.8 633.7 595.8 643.2 596.2 642.3 596.2 635.8 596.8 633.1 596.8 644.1 597.2 650.1 597.2 638.9 597.8 643.2 597.8 646.9 598.2 655 598.2 641.1 598.8 639 598.8 653.3 599.2 648 599.2 642.3 599.8 642.9 599.8 647 600.2 654.8 600.2 640.2 600.8 642 600.8 657.9 601.2 660.6 601.2 632.2 601.8 632.7 601.8 649.7 602.2 646.6 602.2 631.3 602.8 633.7 602.8 652.4 603.2 646 603.2 633.5 603.8 640.6 603.8 644.2 604.2 650.6 604.2 638.1 604.8 642.9 604.8 650.2 605.2 654.9 605.2 641.5 605.8 623.4 605.8 648.2 606.2 652.6 606.2 630.2 606.8 635.8 606.8 640.7 607.2 638.3 607.2 632.6 607.8 636.4 607.8 650.1 608.2 639.2 608.2 637 608.8 626.2 608.8 645.8 609.2 619.4 609.2 549 609.8 564.8 609.8 624 610.2 636.4 610.2 629.2 610.8 612.2 610.8 638.2 611.2 624.6 611.2 578.7 611.8 499.1 611.8 585.8 612.2 603.3 612.2 599.1 612.8 452.2 612.8 577.9 613.2 532.5 613.2 490.8 613.8 512 613.8 617.2 614.2 630.7 614.2 621.8 614.8 628.7 614.8 646.7 615.2 640.7 615.2 631.3 615.8 629 615.8 644.1 616.2 648 616.2 614.8 616.8 489.7 616.8 615.1 617.2 600.3 617.2 481.3 617.8 619 617.8 636.4 618.2 646.4 618.2 635.6 618.8 637.3 618.8 659.3 619.2 641.3 619.2 636.6 619.8 636.5 619.8 646 620.2 643.4 620.2 638.3 620.8 637.1 620.8 650.9 621.2 644.4 621.2 640.2 621.8 631.6 621.8 653.9 622.2 650.6 622.2 637.8 622.8 632.1 622.8 651.8 623.2 650.1 623.2 636.9 623.8 640.2 623.8 645 624.2 644.1 624.2 637.3 624.8 634.3 624.8 646.8 625.2 648.7 625.2 646.4 625.8 631.7 625.8 651.2 626.2 658.2 626.2 635.7 626.8 633.3 626.8 649.3 627.2 650 627.2 630.9 627.8 637.3 627.8 656.8 628.2 649.1 628.2 634.4 628.8 624.8 628.8 651.3 629.2 649.9 629.2 636.4 629.8 636.1 629.8 649.4 630.2 649.1 630.2 640.1 630.8 629.3 630.8 663 631.2 642 631.2 630.1 631.8 589.4 631.8 626.4 632.2 636.6 632.2 618.1 632.8 637.8 632.8 644.3 633.2 643.2 633.2 630.3 633.8 633.1 633.8 646.2 634.2 643.1 634.2 628.3 634.8 628.3 634.8 650.1 635.2 636.8 635.2 628.2 635.8 584.4 635.8 638.8 636.2 539.8 636.2 498 636.8 586.6 636.8 622.5 637.2 631.1 637.2 624.9 637.8 619 637.8 641.1 638.2 631.3 638.2 623.8 638.8 590.6 638.8 623.7 639.2 567.8 639.2 430.4 639.8 353.8 639.8 438.4 640.2 564 640.2 443.9 640.8 592.1 640.8 618 641.2 612.6 641.2 563 641.8 549.8 641.8 629.8 642.2 642.7 642.2 624 642.8 633.7 642.8 644.9 643.2 642.6 643.2 639.8 643.8 621.3 643.8 655.5 644.2 647.8 644.2 636.5 644.8 632.7 644.8 648.3 645.2 647.2 645.2 640.1 645.8 628.4 645.8 654.3 646.2 647.4 646.2 637 646.8 637.3 646.8 651.2 647.2 647.5 647.2 636.5 647.8 638.4 647.8 649.8 648.2 641.4 648.2 637.4 648.8 636.1 648.8 647.1 649.2 645.1 649.2 630.5 649.8 631.3 649.8 637.3 650.2 630.9 650.2 584.1 650.8 572 650.8 623.8 651.2 641.6 651.2 634.5 651.8 627.9 651.8 638.2 652.2 626.9 652.2 619.1 652.8 521 652.8 599.7 653.2 629.1 653.2 598.6 653.8 623.5 653.8 636.7 654.2 645.2 654.2 633.8 654.8 635 654.8 651.8 655.2 647.6 655.2 636.9 655.8 611.1 655.8 628.6 656.2 649.3 656.2 606.2 656.8 624.7 656.8 645.8 657.2 646 657.2 632.8 657.8 633.4 657.8 643.1 658.2 649.2 658.2 630.1 658.8 640.9 658.8 652 659.2 653.4 659.2 637.9 659.8 635.4 659.8 647.5 660.2 648.2 660.2 633.1 660.8 626.3 660.8 647.2 661.2 645.9 661.2 634.5 661.8 629.6 661.8 649.8 662.2 649 662.2 636.1 662.8 633.5 662.8 644.5 663.2 645.3 663.2 633.1 663.8 635.2 663.8 645.7 664.2 644 664.2 627.9 664.8 637.2 664.8 652.9 665.2 644.7 665.2 633.1 665.8 624.9 665.8 648.5 666.2 644.9 666.2 637.4 666.8 637.1 666.8 644.7 667.2 636.8 667.2 630.8 667.8 631.7 667.8 649 668.2 647.4 668.2 637.7 668.8 635.7 668.8 643.6 669.2 655.3 669.2 631.2 669.8 629.7 669.8 645.1 670.2 655.4 670.2 644.8 670.8 634.7 670.8 653.1 671.2 646.3 671.2 634.6 671.8 633.9 671.8 642.8 672.2 653.3 672.2 640.7 672.8 635.8 672.8 646.3 673.2 645.3 673.2 636.6 673.8 632.7 673.8 646.1 674.2 631.3 674.2 624.8 674.8 589.9 674.8 631 675.2 566.9 675.2 514.2 675.8 608.7 675.8 636 676.2 652.6 676.2 633.2 676.8 632.3 676.8 644.6 677.2 646.7 677.2 636.8 677.8 626.4 677.8 647.6 678.2 646.8 678.2 634.5 678.8 642.9 678.8 650 679.2 646.2 679.2 630.3 679.8 639.6 679.8 652.9 680.2 647.7 680.2 634.2 680.8 633.7 680.8 644.4 681.2 645.8 681.2 634.3 681.8 634.6 681.8 650.9 682.2 647.7 682.2 631.3 682.8 633.2 682.8 651.6 683.2 649.5 683.2 640 683.8 640.3 683.8 651.5 684.2 649.2 684.2 628.2 684.8 641.1 684.8 648.6 685.2 644.9 685.2 633.3 685.8 642.7 685.8 646 686.2 658.7 686.2 635.9 686.8 636.3 686.8 651.1 687.2 653.6 687.2 646.7 687.8 639.3 687.8 645.9 688.2 655.6 688.2 642.9 688.8 630.9 688.8 641.2 689.2 642.2 689.2 635.3 689.8 627.1 689.8 654 690.2 647.6 690.2 633.4 690.8 631.4 690.8 641.4 691.2 651.7 691.2 643.7 691.8 626.2 691.8 639.3 692.2 622.1 692.2 603 692.8 630.3 692.8 638 693.2 640.2 693.2 636.5 693.8 636.8 693.8 649.9 694.2 643.5 694.2 630.6 694.8 635.1 694.8 644.1 695.2 653.2 695.2 635.1 695.8 623.6 695.8 643.1 696.2 660.6 696.2 641.9 696.8 629 696.8 644.8 697.2 647.1 697.2 631.6 697.8 635.5 697.8 648.7 698.2 642.7 698.2 634.2 698.8 616.7 698.8 647.3 699.2 603.4 699.2 514.4 699.8 542 699.8 629.9 700.2 635.8 700.2 623 700.8 621.8 700.8 639.9 701.2 617.4 701.2 608.3 701.8 625.5 701.8 647.2 702.2 654.7 702.2 634.4 702.8 634.2 702.8 653.3 703.2 651.8 703.2 643.4 703.8 640.2 703.8 653.8 704.2 638.8 704.2 634.8 704.8 636.4 704.8 647.7 705.2 654.1 705.2 637.3 705.8 629.1 705.8 652.6 706.2 651.4 706.2 634.1 706.8 633.3 706.8 647.4 707.2 647.5 707.2 633.5 707.8 636.8 707.8 648.3 708.2 650.9 708.2 640.7 708.8 636.1 708.8 651.5 709.2 644.6 709.2 635.3 709.8 631.2 709.8 647.6 710.2 647.1 710.2 642.2 710.8 637.3 710.8 649.4 711.2 651.7 711.2 637.5 711.8 639 711.8 647.8 712.2 645.9 712.2 632.6 712.8 627.1 712.8 643.9 713.2 656.3 713.2 646.2 713.8 637.2 713.8 649 714.2 650.9 714.2 642.7 714.8 637.3 714.8 646.2 715.2 649.5 715.2 637.3 715.8 641.5 715.8 642.7 716.2 646.2 716.2 629.8 716.8 598.2 716.8 630.3 717.2 604.9 717.2 566.1 717.8 616.1 717.8 637.7 718.2 626.1 718.2 614.7 718.8 406.1 718.8 598.4 719.2 592.4 719.2 404.4 719.8 605 719.8 628.4 720.2 637.7 720.2 633.3 720.8 625.9 720.8 650.3 721.2 643.2 721.2 641.9 721.8 632.9 721.8 642.4 722.2 635.3 722.2 634.8 722.8 635.5 722.8 648.1 723.2 650.9 723.2 637.7 723.8 630.3 723.8 648.5 724.2 640.4 724.2 622.1 724.8 609.7 724.8 631.4 725.2 594.8 725.2 483.6 725.8 508.2 725.8 621.9 726.2 633 726.2 620.7 726.8 627.8 726.8 647 727.2 649 727.2 634.1 727.8 632 727.8 646.2 728.2 647.1 728.2 634.3 728.8 635.4 728.8 653.1 729.2 657.5 729.2 630.1 729.8 633.1 729.8 653.8 730.2 646.4 730.2 641.3 730.8 635.7 730.8 644.7 731.2 649.8 731.2 642.5 731.8 633.3 731.8 649.8 732.2 641.5 732.2 629.6 732.8 637.1 732.8 647.2 733.2 644.8 733.2 640.4 733.8 630.2 733.8 648.9 734.2 637.7 734.2 632.3 734.8 635.8 734.8 649 735.2 647 735.2 642.6 735.8 627.7 735.8 639.7 736.2 644.8 736.2 642.5 736.8 630.1 736.8 645.3 737.2 649.2 737.2 634.5 737.8 620.7 737.8 632.7 738.2 626.5 738.2 603.7 738.8 366 738.8 585.6 739.2 585.9 739.2 365.6 739.8 606.6 739.8 633 740.2 632.5 740.2 627.8 740.8 622.3 740.8 637.4 741.2 617.9 741.2 584.1 741.8 605.3 741.8 634.3 742.2 648.3 742.2 641.6 742.8 631.4 742.8 649.5 743.2 637.4 743.2 629.8 743.8 639.6 743.8 652 744.2 641.8 744.2 635.8 744.8 629.5 744.8 661.6 745.2 641.8 745.2 630.1 745.8 613.1 745.8 636.2 746.2 596 746.2 505.9 746.8 537.6 746.8 625.3 747.2 629.2 747.2 622.4 747.8 599.8 747.8 629.6 748.2 558.8 748.2 487.2 748.8 523.7 748.8 616 749.2 626.8 749.2 619.3 749.8 539.3 749.8 615.8 750.2 617.4 750.2 527.9 750.8 616 750.8 643.6 751.2 643.6 751.2 642.5 751.8 629.8 751.8 651.7 752.2 650.9 752.2 635.5 752.8 642 752.8 655.2 753.2 649.8 753.2 635.5 753.8 626.3 753.8 653.3 754.2 650 754.2 619.6 754.8 609.8 754.8 634.6 755.2 598 755.2 516.3 755.8 547.8 755.8 623.5 756.2 639.3 756.2 631 756.8 636.8 756.8 649.1 757.2 646.7 757.2 641.7 757.8 635 757.8 643.2 758.2 637.9 758.2 631.7 758.8 630.2 758.8 644.8 759.2 637.2 759.2 630.9 759.8 601.2 759.8 622.3 760.2 581.4 760.2 453.1 760.8 412.6 760.8 502 761.2 447.9 761.2 386.3 761.8 274.9 761.8 465.4 762.2 598.3 762.2 532.7 762.8 611.1 762.8 635.1 763.2 627.3 763.2 625 763.8 632.9 763.8 653.5 764.2 638.7 764.2 630.5 764.8 636.7 764.8 641.9 765.2 650.4 765.2 635.9 765.8 631.3 765.8 643.9 766.2 642.1 766.2 639.3 766.8 635.4 766.8 647.4 767.2 640.1 767.2 636.3 767.8 631.5 767.8 638.6 768.2 628.7 768.2 588.5 768.8 429 768.8 545.6 769.2 620.5 769.2 581 769.8 626.4 769.8 637.1 770.2 634 770.2 619.2 770.8 604 770.8 625.8 771.2 570 771.2 486.1 771.8 556 771.8 632.4 772.2 643.2 772.2 632.3 772.8 643.3 772.8 651.5 773.2 655.5 773.2 633.4 773.8 635.1 773.8 650.8 774.2 642.6 774.2 637.5 774.8 638.6 774.8 645.2 775.2 658.2 775.2 644.5 775.8 642.4 775.8 657 776.2 652.1 776.2 646 776.8 634 776.8 656.4 777.2 652.5 777.2 644.2 777.8 640.9 777.8 653.7 778.2 657.1 778.2 642.9 778.8 647 778.8 651 779.2 649.5 779.2 638.3 779.8 641.6 779.8 658.5 780.2 647.9 780.2 639.3 780.8 638.6 780.8 651.1 781.2 648.3 781.2 635.9 781.8 649.8 781.8 654.6 782.2 657.8 782.2 631.2 782.8 639.3 782.8 649.6 783.2 648.7 783.2 639.9 783.8 642.8 783.8 659.5 784.2 658.8 784.2 639.7 784.8 635.6 784.8 652 785.2 652.8 785.2 647.2 785.8 635.5 785.8 652.5 786.2 640.9 786.2 630.8 786.8 631.4 786.8 651.2 787.2 643.4 787.2 638.2 787.8 633 787.8 653.7 788.2 635.2 788.2 629.5 788.8 628.2 788.8 646 789.2 641.5 789.2 635.1 789.8 591.7 789.8 626.4 790.2 545.7 790.2 395.6 790.8 473.7 790.8 608.3 791.2 634.3 791.2 615.5 791.8 637.7 791.8 645.9 792.2 638.2 792.2 628.1 792.8 636.3 792.8 650.5 793.2 649 793.2 644.9 793.8 635.5 793.8 642.4 794.2 644.2 794.2 628.3 794.8 623.7 794.8 638.5 795.2 648.3 795.2 630.7 795.8 625.2 795.8 643.9 796.2 624.5 796.2 603.6 796.8 466.4 796.8 563 797.2 622.1 797.2 590.2 797.8 631.4 797.8 644.3 798.2 637.5 798.2 624.9 798.8 631.9 798.8 638.1 799.2 641.4 799.2 636.6 799.8 635.2 799.8 640.2 800.2 642.4 800.2 627.3 800.8 629.7 800.8 645.7 801.2 639.6 801.2 633.2 801.8 618.3 801.8 640.5 802.2 625.7 802.2 582.8 802.8 475.9 802.8 579 803.2 634 803.2 604.3 803.8 629.1 803.8 637.1 804.2 640.8 804.2 637.4 804.8 580.4 804.8 637.9 805.2 625.5 805.2 581 805.8 637.7 805.8 648 806.2 639.9 806.2 635.7 806.8 639.1 806.8 646.6 807.2 644.2 807.2 630.6 807.8 632 807.8 641.6 808.2 650 808.2 638.5 808.8 639 808.8 642.8 809.2 644.2 809.2 632 809.8 629.7 809.8 640.1 810.2 618.6 810.2 610.7 810.8 441.4 810.8 597.3 811.2 601.5 811.2 522.2 811.8 617 811.8 632.3 812.2 647.8 812.2 630.9 812.8 616.3 812.8 639.3 813.2 633.6 813.2 626 813.8 625.6 813.8 638.4 814.2 624.1 814.2 602.4 814.8 585.5 814.8 629.5 815.2 641.7 815.2 624.2 815.8 630.6 815.8 640.4 816.2 646.6 816.2 638 816.8 631.5 816.8 637.2 817.2 652.4 817.2 634.6 817.8 634.5 817.8 645.1 818.2 648.8 818.2 633.2 818.8 627.9 818.8 641.4 819.2 643.3 819.2 635.7 819.8 623 819.8 644.9 820.2 639.4 820.2 635.1 820.8 633.7 820.8 645.6 821.2 643.8 821.2 641.2 821.8 635.7 821.8 644.7 822.2 651.6 822.2 631.8 822.8 630.9 822.8 638.5 823.2 652.4 823.2 636.9 823.8 634 823.8 637.7 824.2 651 824.2 642.6 824.8 616.6 824.8 646 825.2 646.2 825.2 635.9 825.8 626.9 825.8 636.4 826.2 625.7 826.2 585 826.8 491.2 826.8 592.1 827.2 633.9 827.2 618.7 827.8 632.4 827.8 634.5 828.2 640.7 828.2 632.1 828.8 631.6 828.8 645.1 829.2 641.6 829.2 632.1 829.8 642.3 829.8 650.2 830.2 648 830.2 638.9 830.8 637.9 830.8 658.5 831.2 645.9 831.2 637.4 831.8 638 831.8 656.6 832.2 646.2 832.2 639.4 832.8 634.4 832.8 649.1 833.2 651.8 833.2 639.7 833.8 629.3 833.8 659.9 834.2 640.7 834.2 632.6 834.8 639.9 834.8 645.8 835.2 643.4 835.2 641.7 835.8 639.6 835.8 648 836.2 644.7 836.2 639.9 836.8 632.6 836.8 655.6 837.2 654 837.2 648.1 837.8 644.6 837.8 646.9 838.2 653.2 838.2 636.4 838.8 636.3 838.8 653.9 839.2 645.3 839.2 644.9 839.8 628.1 839.8 658 840.2 647.8 840.2 642.7 840.8 639.9 840.8 645.8 841.2 651.1 841.2 638.1 841.8 648.4 841.8 652.4 842.2 652.5 842.2 644 842.8 633.8 842.8 656.7 843.2 658.1 843.2 651.4 843.8 637 843.8 649.7 844.2 653.3 844.2 645.6 844.8 635.9 844.8 641.4 845.2 648.2 845.2 623.9 845.8 636.6 845.8 645.2 846.2 646.3 846.2 637.8 846.8 637 846.8 645 847.2 649 847.2 635.9 847.8 635.1 847.8 642.6 848.2 648.5 848.2 639.6 848.8 632.8 848.8 648.6 849.2 642.2 849.2 640.9 849.8 634 849.8 648.6 850.2 651.7 850.2 637.8 850.8 636.3 850.8 644.8 851.2 652.3 851.2 642.2 851.8 638.4 851.8 645 852.2 651.2 852.2 640.2 852.8 635.8 852.8 640 853.2 654.9 853.2 630.8 853.8 630.1 853.8 654.8 854.2 656.8 854.2 635.5 854.8 626.9 854.8 653.6 855.2 642.4 855.2 636.3 855.8 632.9 855.8 652.6 856.2 642.2 856.2 633.6 856.8 637.2 856.8 654.2 857.2 642.4 857.2 637.6 857.8 639.7 857.8 658.6 858.2 653.2 858.2 631.4 858.8 639.9 858.8 652.1 859.2 651.9 859.2 624.2 859.8 641.9 859.8 664.4 860.2 650.5 860.2 624.8 860.8 628.6 860.8 648.3 861.2 650.8 861.2 643.3 861.8 632.6 861.8 654.6 862.2 651.2 862.2 638.4 862.8 636.1 862.8 653.5 863.2 639.6 863.2 635.9 863.8 631.3 863.8 649.8 864.2 650 864.2 643.9 864.8 616.1 864.8 647.1 865.2 643 865.2 637.4 865.8 632.5 865.8 642.1 866.2 650.6 866.2 636 866.8 629.9 866.8 640.5 867.2 647.3 867.2 640.7 867.8 637.7 867.8 642.9 868.2 653.6 868.2 622.5 868.8 630.4 868.8 649.5 869.2 645.5 869.2 636.8 869.8 640.2 869.8 646.3 870.2 650.6 870.2 634.6 870.8 629.9 870.8 640 871.2 639.5 871.2 627.5 871.8 629.4 871.8 639.5 872.2 645.4 872.2 628.1 872.8 628.1 872.8 647.8 873.2 649.7 873.2 647.4 873.8 625.1 873.8 640.5 874.2 652.2 874.2 628.9 874.8 642.2 874.8 646.1 875.2 642.4 875.2 638 875.8 625.2 875.8 648.2 876.2 638.7 876.2 632 876.8 629.3 876.8 650.4 877.2 651.6 877.2 634.4 877.8 629.5 877.8 652.8 878.2 640.7 878.2 638.2 878.8 636.6 878.8 644.3 879.2 649 879.2 635.6 879.8 639.7 879.8 644.9 880.2 654.1 880.2 636.7 880.8 625.6 880.8 653.6 881.2 643.9 881.2 642.3 881.8 639.3 881.8 650.2 882.2 646 882.2 634.8 882.8 636.6 882.8 645.8 883.2 640.6 883.2 635.1 883.8 633.4 883.8 653.9 884.2 643.4 884.2 624.2 884.8 633.3 884.8 648.2 885.2 648.5 885.2 637.8 885.8 631.8 885.8 652.2 886.2 647 886.2 639.8 886.8 628.2 886.8 640 887.2 649.9 887.2 645.1 887.8 639.7 887.8 646.2 888.2 647.5 888.2 637.8 888.8 629.7 888.8 651.4 889.2 644.9 889.2 633" stroke="#000" stroke-width="1.35" fill="none" stroke-linejoin="round"/>
<path d="M27.5 1043 27.9 1043.4 28.2 1042.9 28.6 1042.8 28.9 1043.2 29.3 1043.3 29.6 1042.6 30 1042.6 30.3 1042.5 30.7 1042.8 31 1042.8 31.4 1042.9 31.7 1042.5 32.1 1042.3 32.4 1042.1 32.8 1042.4 33.1 1041.9 33.5 1041.7 33.8 1041.6 34.2 1041.5 34.5 1041.4 34.9 1040.8 35.2 1041.1 35.6 1040.7 35.9 1039.4 36.3 1039.1 36.6 1037.9 37 1037 37.3 1035.3 37.7 1033.7 38 1031.5 38.4 1028.8 38.7 1025.1 39.1 1021.3 39.4 1017.3 39.8 1013.8 40.1 1009.3 40.5 1005.5 40.5 1005.4 40.8 1001.8 41.2 999 41.5 995.5 41.9 992.5 42.2 989 42.6 987.6 42.7 987.5 42.9 987.8 43.3 989 43.6 991.7 44 994.2 44.3 995.7 44.7 997.8 45 1000.6 45 1000.5 45.4 1004.6 45.7 1010 46.1 1015.5 46.4 1021.3 46.8 1025.9 47.1 1030 47.5 1033.3 47.8 1035.2 48.2 1036.8 48.5 1037.9 48.9 1038.9 49.2 1039.7 49.6 1039.7 49.9 1039.9 50.3 1040.1 50.6 1041 51 1041 51.3 1041.2 51.7 1040.8 52 1041.2 52.4 1041.1 52.7 1041.2 53.1 1041.5 53.4 1041.5 53.8 1042.1 54.1 1041.4 54.5 1041.6 54.8 1041.5 55.2 1041.7 55.5 1041.9 55.9 1041.4 56.2 1041.2 56.6 1041.4 56.9 1041.5 57.3 1041.1 57.6 1041.5 58 1040.8 58.3 1040.7 58.7 1040.5 59 1040.8 59.4 1040.2 59.7 1039.6 60.1 1038.6 60.4 1037.6 60.8 1036.6 61.1 1035.6 61.5 1033.5 61.8 1030.6 62.2 1027.2 62.5 1023.3 62.9 1019.4 63.2 1015.2 63.6 1010.9 63.8 1008.1 63.9 1006.8 64.3 1003.9 64.6 1001.2 65 999.5 65.3 998.5 65.4 998.7 65.7 999.2 66 1000.7 66.4 1003.1 66.7 1004.3 67.1 1006.6 67.4 1008.9 67.4 1008.9 67.8 1012.8 68.1 1017.2 68.5 1021.8 68.8 1026.2 69.2 1029.7 69.5 1032.9 69.9 1035.1 70.2 1036.5 70.6 1037.2 70.9 1038.3 71.3 1039 71.6 1038.7 72 1039 72.3 1039.5 72.7 1039.3 72.7 1039.6 73 1039.1 73.4 1038.7 73.7 1038.8 74.1 1038.3 74.4 1037.8 74.8 1036.5 75.1 1035.2 75.5 1033.9 75.8 1030.8 76.2 1028.1 76.5 1023.6 76.9 1019.7 77.2 1015.5 77.5 1012.3 77.6 1011.5 77.9 1008.4 78.3 1006.5 78.6 1005.2 79 1005.6 79 1006.1 79.3 1009.2 79.7 1013 80 1017.8 80.4 1021.9 80.7 1025.3 81.1 1028.5 81.4 1031.2 81.8 1032.6 82.1 1033.6 82.5 1034.3 82.8 1034.7 83.2 1034.6 83.5 1035.2 83.9 1034.8 84.2 1035.1 84.3 1035.1 84.6 1034.4 84.9 1034.2 85.3 1033.5 85.6 1032.2 86 1030.4 86.3 1028.3 86.7 1024.8 87 1020 87.4 1014.3 87.7 1008 88.1 1001.5 88.4 995.6 88.5 993.9 88.8 991.1 89.1 988.5 89.5 986.9 89.8 986.9 90.2 988.7 90.2 989.2 90.5 993.8 90.9 1000.7 91.2 1008.3 91.6 1016.2 91.9 1021.8 92.3 1027 92.6 1030.6 93 1033.1 93.3 1035.3 93.7 1036.7 94 1037.3 94.4 1038 94.7 1039 95.1 1038.3 95.4 1038.7 95.8 1039 96 1038.9 96.1 1038.7 96.5 1038.7 96.8 1038.7 97.2 1038.4 97.5 1038.1 97.9 1037.9 98.2 1036.6 98.6 1035.2 98.9 1033.9 99.3 1031.7 99.6 1028.6 100 1025.7 100.3 1022.3 100.7 1019.4 101 1016.8 101.4 1015 101.5 1015.1 101.7 1014.9 102.1 1016.5 102.4 1019.2 102.8 1022.4 103.1 1025.8 103.5 1027.9 103.8 1030.6 104.2 1032.1 104.5 1033.5 104.9 1033.2 105.1 1033.1 105.2 1033.6 105.6 1032.2 105.9 1030 106.3 1026.5 106.6 1022.7 107 1018.1 107.3 1014.2 107.6 1013 107.7 1013 108 1013.9 108.4 1016.8 108.7 1019.5 109.1 1021.4 109.4 1021.1 109.8 1018.6 110.1 1014 110.5 1007.1 110.8 1000.6 111.2 995.3 111.3 993.7 111.5 992.5 111.9 992.5 112.2 994.8 112.6 995.6 112.9 996.6 113.3 997.3 113.3 998.2 113.6 1000.7 114 1004.9 114.3 1009.8 114.7 1013.8 115 1016.9 115.4 1018.5 115.7 1019 116.1 1018.3 116.2 1017.5 116.4 1016.5 116.8 1014.4 117.1 1011.4 117.5 1008.3 117.8 1006.5 118 1007.2 118.2 1007.5 118.5 1010.4 118.9 1013.2 119.2 1016.6 119.6 1018 119.9 1017.9 120.3 1015.7 120.6 1012.1 121 1007 121.3 1002.1 121.7 999.8 121.7 999.7 122 1001.1 122.4 1005.4 122.7 1010.5 123.1 1015.4 123.4 1019.4 123.8 1021.7 124.1 1023.9 124.5 1024.7 124.7 1024.2 124.8 1024.7 125.2 1025 125.5 1024.1 125.9 1024.2 126.2 1023.4 126.6 1021.8 126.9 1019.5 127.3 1015.7 127.6 1010.5 128 1002.7 128.3 991.8 128.7 977.8 129 959.7 129.4 939.1 129.7 917.3 130.1 895.6 130.4 878.3 130.8 870.5 130.8 870.3 131.1 875.5 131.5 890 131.8 911.2 132.2 933.6 132.5 955.3 132.9 973.7 133.2 988.6 133.6 1000.5 133.9 1009.6 134.3 1015.3 134.6 1020.2 135 1023 135.3 1025.5 135.7 1026.6 136 1027.6 136.4 1028.7 136.7 1028.2 137.1 1029.6 137.2 1029.4 137.4 1029.2 137.8 1029.3 138.1 1028.4 138.5 1027.6 138.8 1025.7 139.2 1023.2 139.5 1019.2 139.9 1014.9 140.2 1011 140.6 1006.6 140.9 1004.2 140.9 1004 141.3 1004 141.6 1005.4 142 1006.1 142.3 1006.4 142.7 1004.8 143 1001.9 143.4 1000.3 143.6 1000.3 143.7 1000.2 144.1 1002.8 144.4 1007.1 144.8 1011.2 145.1 1014.6 145.5 1017.6 145.8 1019.1 146.2 1019.8 146.5 1020.5 146.9 1020 147.2 1019.2 147.6 1018.3 147.6 1018.7 147.9 1017.2 148.3 1014.2 148.6 1011 149 1004.9 149.3 996.9 149.7 987.4 150 976.5 150.4 967.3 150.7 964.5 150.7 964.7 151.1 969.3 151.4 979.9 151.8 992.1 152.1 1004.1 152.5 1013.6 152.8 1020.1 153.2 1024.8 153.5 1028.4 153.9 1030.9 154.2 1032.3 154.6 1033.3 154.9 1034.1 155.3 1034.3 155.6 1035 156 1035.3 156.3 1035.4 156.7 1035.9 157 1035.6 157.4 1035.5 157.4 1035.8 157.7 1035.7 158.1 1035.3 158.4 1034.9 158.8 1034.3 159.1 1033.4 159.5 1031.5 159.8 1029.5 160.2 1026 160.5 1020 160.9 1012.1 161.2 1002.8 161.6 992 161.9 982.1 162.3 977.3 162.3 977 162.6 979.3 163 985.7 163.3 994.7 163.7 1001.2 164 1005.4 164.4 1005.4 164.4 1005.4 164.7 1002.8 165.1 997.3 165.4 991.2 165.5 990 165.8 987.1 166.1 983.6 166.5 977.7 166.8 970.6 167.2 963.2 167.5 960 167.6 960.5 167.9 963.9 168.2 975.2 168.6 988.7 168.9 1001.6 169.3 1012.4 169.6 1021.1 170 1025.9 170.3 1029.8 170.7 1032.9 171 1033.6 171.4 1035 171.7 1035.5 172.1 1035.6 172.4 1035.7 172.7 1035.6 172.8 1035.7 173.1 1035.1 173.5 1033.9 173.8 1032.1 174.2 1029.8 174.5 1027.5 174.9 1025.1 175.2 1024 175.2 1024.6 175.6 1024.5 175.9 1027 176.3 1029.2 176.6 1030.2 177 1030.7 177.3 1030.9 177.7 1030.1 178 1028.2 178.4 1027 178.7 1025.8 178.8 1025.4 179.1 1026.1 179.4 1026.9 179.8 1029 180.1 1030.7 180.5 1032.1 180.8 1032.3 181.2 1031.9 181.5 1029.5 181.9 1027.7 182.2 1022.2 182.6 1016.6 182.9 1010.3 183.3 1003.9 183.5 1000.9 183.6 999.4 184 997.5 184.3 995.5 184.7 991.2 185 984.3 185.4 976.1 185.7 970.7 185.8 970.7 186.1 971.6 186.4 977.8 186.8 984.5 187.1 987.7 187.5 987.5 187.8 984 188.2 980.4 188.4 979.5 188.5 979.8 188.9 984.1 189.2 990 189.6 995.2 189.9 997.3 190.3 996.4 190.6 993.7 191 991.2 191.1 991.3 191.3 992.7 191.7 996.7 192 1002.1 192.4 1007.9 192.7 1012.1 193.1 1014.9 193.4 1017.2 193.8 1017.8 194.1 1018.5 194.5 1018.1 194.5 1018.5 194.8 1018.6 195.2 1018.7 195.5 1018.7 195.9 1019 196.2 1018.2 196.6 1018 196.9 1016.6 197.3 1012.8 197.6 1006.4 198 999.3 198.3 989.4 198.7 979.1 199 970.6 199.3 967.8 199.4 967.6 199.7 970.3 200.1 977.1 200.4 983.2 200.8 987.3 201.1 987 201.5 986.8 201.8 988.1 201.8 988.3 202.2 993.4 202.5 1002.3 202.9 1011.4 203.2 1019 203.6 1024.9 203.9 1029.2 204.3 1031.8 204.6 1033.5 205 1034.8 205.3 1035.7 205.7 1036.3 206 1036.1 206.4 1036.7 206.7 1037.3 207.1 1036.8 207.2 1037.2 207.4 1037.1 207.8 1037.4 208.1 1037.4 208.5 1036.9 208.8 1036.5 209.2 1035.8 209.5 1035.5 209.9 1034.5 210.2 1033.4 210.6 1031.7 210.9 1028.6 211.3 1023.4 211.6 1016.8 212 1008.4 212.3 999 212.7 989.7 213 984.1 213.1 982.6 213.4 982.5 213.7 984.9 214.1 988.4 214.4 989.8 214.8 988.1 215.1 985.5 215.5 985 215.5 985.4 215.8 989.1 216.2 997.5 216.5 1006 216.9 1012.8 217.2 1017.2 217.6 1018.7 217.9 1018.7 218.3 1015.6 218.6 1012.7 219 1010.9 219.2 1009.6 219.3 1009.6 219.7 1011.3 220 1015.2 220.4 1018.8 220.7 1021.7 221.1 1023.5 221.4 1025.4 221.8 1026.1 222.1 1027 222.5 1027.3 222.8 1027 222.9 1027 223.2 1027.2 223.5 1027.2 223.9 1026.3 224.2 1026.5 224.6 1025.8 224.9 1025.6 225.3 1025.6 225.6 1024.6 226 1024.2 226.3 1024 226.6 1023.3 226.7 1022.7 227 1022.5 227.4 1021.7 227.7 1020.3 228.1 1019.1 228.4 1015.5 228.8 1010.6 229.1 1003.7 229.5 993.3 229.8 978.9 230.2 961.1 230.5 938.9 230.9 913.1 231.2 886.2 231.6 861.2 231.9 843.5 232.2 838.2 232.3 838.4 232.6 848.1 233 867.8 233.3 894.8 233.7 921.9 234 946.9 234.4 968.7 234.7 986.3 235.1 999.2 235.4 1009.5 235.8 1016.8 236.1 1021.5 236.5 1025.4 236.8 1028.4 237.2 1030.1 237.5 1031.3 237.9 1032.4 238.2 1033.3 238.6 1034.9 238.9 1035.3 239.3 1036 239.6 1036.5 240 1036.8 240.3 1037.8 240.7 1037.9 241 1038.4 241.4 1038 241.7 1038.7 242.1 1038.9 242.4 1038.7 242.8 1038.9 243.1 1039 243.5 1039.5 243.8 1039.4 244.2 1039.1 244.5 1039.4 244.9 1039 245.2 1039 245.6 1038.6 245.9 1038 246.3 1037.9 246.6 1037.1 247 1035.7 247.3 1035.4 247.7 1035 248 1033.3 248.4 1033.5 248.5 1033.1 248.7 1032.5 249.1 1032.5 249.4 1032.1 249.8 1031.8 250.1 1032 250.5 1031.7 250.8 1030.9 251.2 1030.9 251.5 1031 251.5 1030.6 251.9 1031.5 252.2 1031.4 252.6 1032.1 252.9 1032.6 253.3 1032.6 253.6 1033.2 254 1033.4 254.3 1033.8 254.5 1033.9 254.7 1034.5 255 1035.1 255.4 1036.2 255.7 1036.9 256.1 1037.2 256.4 1038.2 256.8 1039.1 257.1 1039.8 257.5 1039.9 257.8 1040.5 258.2 1040.9 258.5 1041 258.9 1041.5 259.2 1041.1 259.6 1041.6 259.9 1041.4 260.3 1041.8 260.6 1041.5 261 1041.7 261.3 1042.1 261.7 1041.6 262 1041.9 262.4 1042.1 262.7 1042 263.1 1041.9 263.4 1042 263.8 1041.8 264.1 1042.3 264.5 1042.3 264.8 1042.5 265.2 1042.2 265.5 1042.4 265.9 1042 266.2 1042.3 266.6 1041.9 266.9 1042.2 267.3 1042.1 267.6 1042.4 268 1041.7 268.3 1042.1 268.7 1042.1 269 1042.3 269.4 1042 269.7 1042 270.1 1042.4 270.4 1041.9 270.8 1042 271.1 1042.3 271.5 1041.5 271.8 1042.1 272.2 1042.1 272.5 1042 272.9 1041.5 273.2 1041.6 273.6 1041.7 273.9 1041.6 274.3 1041.9 274.6 1041.6 275 1042 275.3 1041.6 275.7 1041.6 276 1041.2 276.4 1041.1 276.7 1041.2 277.1 1041.1 277.4 1040.5 277.8 1040.7 278.1 1039.9 278.5 1039.7 278.8 1038.1 279.2 1036.8 279.5 1034.9 279.9 1031.7 280.2 1027.7 280.6 1023.6 280.9 1019.4 281.3 1016.4 281.4 1016.3 281.6 1016.4 282 1019 282.3 1023.4 282.7 1026.9 283 1030.1 283.4 1032.5 283.7 1033.1 284.1 1032.9 284.4 1031.6 284.8 1028.7 285.1 1024.3 285.5 1017.9 285.8 1010.4 286.2 1002.9 286.5 998.2 286.7 997.3 286.9 998.2 287.2 1002.1 287.6 1009.3 287.9 1016.9 288.3 1023.8 288.6 1029.1 289 1033 289.3 1034.6 289.7 1036.5 290 1037.2 290.4 1038.2 290.7 1038.2 291.1 1038.5 291.4 1038.1 291.8 1038 292.1 1037.3 292.5 1036.1 292.8 1035 293.2 1032.8 293.5 1029.8 293.9 1027.4 294.2 1024.2 294.6 1022.4 294.8 1021.8 294.9 1021.4 295.3 1021.9 295.6 1022.6 296 1023.5 296.3 1023.1 296.7 1021.5 297 1016.6 297.4 1010.6 297.7 1002.5 298.1 995.5 298.1 994.7 298.4 989.4 298.8 983.4 299.1 977.1 299.5 972.4 299.7 972.4 299.8 973.8 300.2 983.9 300.5 997.1 300.9 1008.9 301.2 1018.6 301.6 1023.9 301.9 1027 302.3 1027.7 302.6 1025.4 303 1022.8 303.3 1018.9 303.7 1015.1 304 1013.6 304.1 1013.2 304.4 1014.3 304.7 1017.7 305.1 1022.8 305.4 1027.4 305.8 1031.4 306.1 1033.9 306.5 1035.8 306.8 1037.7 307.2 1038 307.5 1038.9 307.9 1039.5 308.2 1039.5 308.6 1039 308.9 1039.2 309.3 1039.2 309.6 1039.5 310 1038.9 310.3 1038.9 310.7 1038.1 311 1037 311.4 1035.5 311.7 1033.3 312.1 1031.1 312.4 1027.6 312.8 1024.6 313.1 1020.9 313.4 1019 313.5 1019.6 313.8 1018.3 314.2 1018.8 314.5 1018.8 314.9 1018.9 315.2 1019.2 315.4 1019.7 315.6 1020.5 315.9 1023.6 316.3 1026.5 316.6 1029.9 317 1031.6 317.3 1033.1 317.7 1032.9 318 1032.8 318.4 1031.5 318.7 1030.1 319.1 1029.2 319.4 1028.7 319.5 1029.4 319.8 1028.8 320.1 1030.2 320.5 1032.2 320.8 1033.8 321.2 1035.6 321.5 1037.2 321.9 1038.1 322.2 1038.9 322.6 1039.4 322.9 1040.1 323.3 1040.6 323.6 1040.8 324 1041.2 324.3 1040.9 324.7 1041.2 325 1041 325.4 1040.7 325.7 1041.4 326.1 1041.2 326.4 1041.5 326.8 1041.2 327.1 1041 327.5 1041.1 327.8 1041.3 328.2 1041.2 328.5 1041.3 328.9 1041.5 329.2 1041.3 329.6 1041.4 329.9 1041.2 330.3 1041 330.6 1040.9 331 1040.5 331.3 1041.2 331.7 1041.2 332 1040.6 332.4 1040.5 332.7 1040.4 333.1 1040.6 333.4 1040.4 333.8 1040.1 334.1 1039.9 334.5 1039.3 334.8 1039.4 335.2 1039 335.5 1038.8 335.9 1037.9 336.2 1037.2 336.6 1036.3 336.9 1035.4 337.3 1032.3 337.6 1029.6 338 1024.3 338.3 1018.6 338.7 1011.2 339 1004.4 339.4 998 339.5 996 339.7 994.4 340.1 992.4 340.4 989.3 340.8 984.6 341.1 977 341.5 969.1 341.8 962.8 341.9 963.2 342.2 963.4 342.5 968.4 342.9 976.7 343.2 984.5 343.5 992 343.6 993.3 343.9 1002.5 344.3 1010.5 344.6 1018.6 345 1024.8 345.3 1028.7 345.7 1032.4 346 1034.6 346.4 1035.8 346.7 1036.5 347.1 1037.7 347.4 1038.1 347.8 1039.1 348.1 1039 348.5 1039.5 348.8 1039.6 349.2 1039.8 349.5 1039.6 349.9 1039.9 350.2 1040.2 350.6 1040.3 350.9 1040.4 351.3 1040.7 351.6 1040.5 352 1040.8 352.3 1040.6 352.7 1040.7 353 1040.5 353.4 1040.3 353.7 1040.9 354.1 1040.9 354.4 1040.9 354.8 1040.5 355.1 1041 355.5 1040.7 355.8 1040.7 356.2 1040.4 356.5 1040.4 356.9 1040.4 357.2 1040.6 357.6 1040.3 357.9 1040.4 358.3 1040.2 358.6 1039.9 359 1040.1 359.3 1040.1 359.7 1039.9 360 1039.1 360.4 1039.9 360.7 1039.5 361.1 1039.1 361.4 1039.7 361.8 1039 362.1 1039 362.5 1038.6 362.8 1037.7 363.2 1038.2 363.5 1037.3 363.9 1037.4 364.2 1036.7 364.6 1035.9 364.9 1034.9 365.3 1034.7 365.6 1033.7 366 1032.8 366.3 1031.1 366.7 1029.8 367 1026.9 367.4 1023.3 367.7 1018.7 368.1 1010.9 368.4 1000.3 368.8 987 369.1 969.8 369.5 950.9 369.8 931.7 370.2 915.4 370.5 906.7 370.5 907.2 370.9 907.3 371.2 913.8 371.6 920.7 371.9 923.4 372.3 920.2 372.6 910.8 373 899.3 373.3 893.8 373.4 893.9 373.7 897.8 374 911.1 374.4 927.3 374.7 940.3 375.1 948.7 375.4 952.2 375.8 954.3 376 955.6 376.1 957.1 376.5 963.4 376.8 971 377.2 978.4 377.5 983.9 377.9 988.5 378.2 990.8 378.6 994.1 378.6 994.2 378.9 997.9 379.3 1003.4 379.6 1009.7 380 1015.4 380.3 1020.7 380.7 1024.9 381 1028.3 381.4 1030.5 381.7 1032.4 382.1 1034.3 382.4 1034.9 382.8 1036 383.1 1036.3 383.5 1036.7 383.8 1037.3 384.2 1037.4 384.5 1037.8 384.9 1038.4 385.2 1038.3 385.6 1038.8 385.9 1038.6 386.3 1038.9 386.6 1038.6 387 1039.3 387.3 1038.5 387.7 1039.1 388 1039.2 388.4 1038.4 388.7 1038.6 389.1 1038.5 389.4 1038.8 389.8 1038.6 390.1 1038.3 390.5 1038.2 390.8 1038.2 391.2 1036.8 391.5 1036.2 391.9 1034.8 392.2 1033.2 392.6 1030 392.9 1027.1 393.3 1023.7 393.6 1019.7 394 1016.3 394.2 1013.9 394.3 1012.7 394.7 1010.9 395 1009.1 395.4 1008.2 395.7 1008 395.8 1007.9 396.1 1009 396.4 1010.7 396.8 1011.6 397.1 1011.9 397.5 1013.1 397.8 1014.3 397.9 1014.2 398.2 1016.2 398.5 1019.9 398.9 1023.7 399.2 1027.7 399.6 1030.7 399.9 1032.9 400.3 1034.7 400.6 1036 401 1036.8 401.3 1037.8 401.7 1037.9 402 1038 402.4 1038.3 402.7 1038.2 403.1 1038.4 403.4 1038.5 403.8 1037.9 404.1 1037.5 404.5 1036.9 404.8 1036.9 405.2 1035.7 405.5 1034.1 405.9 1032.5 406.2 1030 406.6 1027.8 406.9 1024.3 407.3 1020.6 407.6 1016.7 408 1014.6 408.3 1012.2 408.5 1011.3 408.7 1011.9 409 1013.6 409.4 1016.6 409.7 1019.7 410.1 1023.8 410.4 1027 410.8 1029.7 411.1 1031.8 411.5 1033.3 411.8 1035 412.2 1036 412.5 1036.4 412.9 1037.3 413.2 1037.7 413.6 1037.6 413.9 1037.7 414.3 1037.9 414.6 1038.3 415 1038.2 415.3 1037.4 415.7 1037.5 416 1038.1 416.4 1037.2 416.7 1037.4 417.1 1036.7 417.4 1036.4 417.8 1035.4 418.1 1034.8 418.5 1034.1 418.8 1032.9 419.2 1031.6 419.5 1030.6 419.9 1028.6 420.2 1027.2 420.6 1024.9 420.9 1023.1 421.3 1021.6 421.6 1020 422 1018.9 422.2 1018 422.3 1017.8 422.7 1017.3 423 1016.9 423.4 1017.3 423.7 1017.7 424.1 1017.3 424.4 1016.9 424.8 1016.5 425.1 1014.9 425.5 1013.9 425.8 1012.1 426.2 1010.9 426.5 1008.7 426.9 1007.6 427.1 1006.9 427.2 1006.7 427.6 1005.9 427.9 1006 428.3 1004.8 428.6 1003.7 429 1001.6 429.3 998.8 429.7 995 430 989.8 430.4 984 430.7 976.5 431 969.9 431.1 968.8 431.4 960.4 431.8 952 432.1 944.1 432.5 937.3 432.8 932 433 929.8 433.2 929.2 433.5 926.8 433.9 923.3 434.2 915 434.6 897.6 434.9 870.5 435.3 831.8 435.6 786.2 436 743.1 436.3 720.4 436.4 720 436.7 731 437 770.9 437.4 822.4 437.7 872.5 438.1 913.4 438.4 942.9 438.8 962.5 439.1 973.6 439.5 979.3 439.8 981 440.2 980.9 440.5 981 440.8 982 440.9 982.1 441.2 985.2 441.6 988.2 441.9 991.9 442.3 995.7 442.6 999 443 1001.8 443.3 1002.8 443.7 1004.1 444 1004.1 444.4 1003.9 444.7 1002.1 445.1 1001.7 445.4 1000.7 445.8 1000.8 445.8 1000.5 446.1 1001.4 446.5 1002.9 446.8 1005.2 447.2 1006.6 447.5 1008.9 447.9 1011 448.2 1012.6 448.6 1014 448.9 1015 449.3 1015.4 449.6 1015.4 450 1016.1 450.3 1015.8 450.7 1016.5 450.8 1017 451 1016.9 451.4 1018.2 451.7 1019.5 452.1 1020.8 452.4 1022.1 452.8 1023.6 453.1 1024.8 453.5 1025.3 453.8 1026 454.2 1026.2 454.5 1025.2 454.9 1023.4 455.2 1020.7 455.6 1015.6 455.9 1008.2 456.3 997.9 456.6 985.6 457 973.6 457.3 963.6 457.5 960.2 457.7 958.8 458 960 458.4 962.5 458.7 963.2 459.1 960.8 459.4 955.9 459.8 951.9 459.9 951.3 460.1 952.6 460.5 956.7 460.8 963.6 461.2 968.6 461.5 972.7 461.9 975.6 462.1 979.5 462.2 980.9 462.6 987.1 462.9 996.1 463.3 1004.4 463.6 1012.3 464 1018.6 464.3 1023.7 464.7 1027.2 465 1030.2 465.4 1032.3 465.7 1033.3 466.1 1034.5 466.4 1035.5 466.8 1036.1 467.1 1036.4 467.5 1037.2 467.8 1037 468.2 1037.5 468.5 1037.8 468.9 1037.5 469.2 1038 469.6 1037.8 469.9 1037.6 470.3 1038.2 470.6 1038.1 471 1037.5 471.3 1037.6 471.7 1037.3 472 1036.6 472.4 1036.4 472.7 1034.8 473.1 1033.1 473.4 1031 473.8 1027.7 474.1 1023.2 474.5 1017.8 474.8 1011.4 475.2 1005.7 475.5 1000.3 475.6 999.9 475.9 998 476.2 996.7 476.6 996 476.9 994.9 477.3 994.1 477.6 995.2 477.7 995.5 478 998.1 478.3 1004.6 478.7 1011.2 479 1018 479.4 1024.5 479.7 1028.7 480.1 1032.2 480.4 1034.4 480.8 1036 481.1 1037.1 481.5 1037.9 481.8 1038.8 482.2 1038.4 482.5 1038.5 482.9 1039.2 483.2 1039.2 483.6 1039.8 483.9 1039.6 484.3 1040.1 484.6 1040.5 485 1040.2 485.3 1040.2 485.7 1040.7 486 1040.4 486.4 1040.6 486.7 1040.7 487.1 1040.5 487.4 1041.1 487.8 1040.6 488.1 1041.1 488.5 1041.1 488.8 1040.7 489.2 1040.9 489.5 1041.3 489.9 1041 490.2 1041.6 490.6 1040.9 490.9 1041.5 491.3 1040.8 491.6 1041.1 492 1041.5 492.3 1040.8 492.7 1041.3 493 1041 493.4 1041 493.7 1041.1 494.1 1041.2 494.4 1041.2 494.8 1041.2 495.1 1041.1 495.5 1040.7 495.8 1041.7 496.2 1041.8 496.5 1041.4 496.9 1041.3 497.2 1041.1 497.6 1041.4 497.9 1041.4 498.3 1041.1 498.6 1041.3 499 1041.5 499.3 1041.4 499.7 1041.3 500 1041.3 500.4 1041.1 500.7 1041.3 501.1 1041.3 501.4 1041.1 501.8 1041.2 502.1 1041.4 502.5 1041.4 502.8 1040.6 503.2 1040.7 503.5 1041.3 503.9 1041.1 504.2 1041.1 504.6 1040.6 504.9 1040.9 505.3 1040.9 505.6 1040.8 506 1040.4 506.3 1040.3 506.7 1040.3 507 1040 507.4 1040 507.7 1038.7 508.1 1038.5 508.4 1038.1 508.8 1036.4 509.1 1035.2 509.5 1033.8 509.8 1031.2 510.2 1029.4 510.5 1027.8 510.8 1025.7 510.9 1025.3 511.2 1025.1 511.6 1024.1 511.9 1023.9 512.3 1023.6 512.6 1023.9 512.6 1023.5 513 1024.2 513.3 1024.6 513.7 1025 514 1025.9 514.4 1026.6 514.5 1027 514.7 1028.5 515.1 1029 515.4 1031.2 515.8 1033.1 516.1 1034.9 516.5 1036.4 516.8 1037.4 517.2 1038.8 517.5 1038.7 517.9 1038.9 518.2 1039.5 518.6 1039.5 518.9 1039.6 519.3 1040 519.6 1039.9 520 1040 520.3 1039.4 520.7 1039.6 521 1039.2 521.4 1038.6 521.7 1037.8 522.1 1037.3 522.4 1036 522.8 1035 523.1 1033.4 523.5 1031.6 523.8 1030.4 524.2 1028.5 524.2 1027.5 524.5 1027.3 524.9 1026.4 525.2 1026 525.6 1025.5 525.9 1025.8 525.9 1024.9 526.3 1025.6 526.6 1026.6 527 1027.1 527.3 1027.9 527.7 1028.5 527.8 1028.9 528 1029.9 528.4 1031.3 528.7 1032.5 529.1 1034.8 529.4 1035.7 529.8 1037.4 530.1 1038.2 530.5 1039 530.8 1039.6 531.2 1039.5 531.5 1040.2 531.9 1040.2 532.2 1040.3 532.6 1040.5 532.9 1040.4 533.3 1040.7 533.6 1040.8 534 1040.6 534.3 1041.1 534.7 1040.8 535 1040.6 535.4 1041 535.7 1041 536.1 1040.5 536.4 1041 536.8 1040.8 537.1 1041 537.5 1040.9 537.8 1041 538.2 1041 538.5 1040.3 538.9 1040.9 539.2 1041 539.6 1041 539.9 1041.2 540.3 1040.9 540.6 1041.1 541 1041 541.3 1040.6 541.7 1040.5 542 1041 542.4 1040.8 542.7 1040.2 543.1 1040.3 543.4 1040.8 543.8 1040.5 544.1 1040 544.5 1040.4 544.8 1040.5 545.2 1040.3 545.5 1040.1 545.9 1039.9 546.2 1039.7 546.6 1039.6 546.9 1039.7 547.3 1040.1 547.6 1039.9 548 1039 548.3 1038.5 548.7 1038.6 549 1038.2 549.4 1037.9 549.7 1037.2 550.1 1037.1 550.4 1036.4 550.8 1035.9 551.1 1034.7 551.5 1034.1 551.8 1032.5 552.2 1030.7 552.5 1028.1 552.9 1023.9 553.2 1017.3 553.6 1007.3 553.9 992.9 554.3 974.1 554.6 952.6 555 932.6 555.3 921.5 555.3 921.2 555.7 920.7 556 926.3 556.4 930.6 556.7 927.2 557.1 918.2 557.4 909.1 557.7 907.5 557.8 908.7 558.1 923 558.5 946.1 558.8 969.7 559.2 990.2 559.5 1005.6 559.9 1016.2 560.2 1023.2 560.6 1027.4 560.9 1030.1 561.3 1032.1 561.6 1033.7 562 1034.9 562.3 1035.4 562.7 1036 563 1036.9 563.4 1037.2 563.7 1037.7 564.1 1037.8 564.4 1038 564.8 1038.5 565.1 1038.5 565.5 1039 565.8 1038.7 566.2 1039.1 566.5 1039.1 566.9 1039 567.2 1039.2 567.6 1039.1 567.9 1039.3 568.3 1039.4 568.6 1040.2 569 1039.3 569.3 1039.7 569.7 1039.4 570 1039.6 570.4 1039.5 570.7 1039.3 571.1 1039.8 571.4 1039.7 571.8 1039 572.1 1039.3 572.5 1039.2 572.8 1038.8 573.2 1039.1 573.5 1039.1 573.9 1038.9 574.2 1038.8 574.6 1039 574.9 1038.3 575.3 1038.5 575.6 1038.5 576 1036.9 576.3 1037.3 576.7 1037.3 577 1036.6 577.4 1035.9 577.7 1035.8 578.1 1035 578.4 1033.6 578.8 1033.2 579.1 1031.8 579.5 1030.5 579.8 1028.3 580.2 1026.3 580.5 1023 580.9 1017.8 581.2 1010.1 581.6 997.8 581.9 977.5 582.3 946.7 582.6 907.3 583 861.5 583.3 821.8 583.5 808.1 583.7 803.3 584 803.8 584.4 806.6 584.7 801 585.1 790.4 585.4 793.3 585.4 793 585.8 822.5 586.1 869.4 586.5 916.9 586.8 955 587.2 983.6 587.5 1001.4 587.9 1012.5 588.2 1018.9 588.6 1023.6 588.9 1026.9 589.3 1028.5 589.6 1029.9 590 1031.7 590.3 1032.6 590.7 1033.4 591 1033.6 591.4 1034.6 591.7 1035 592.1 1033.9 592.4 1035 592.8 1034.9 593.1 1033.8 593.5 1032.3 593.8 1030.9 594.2 1028.6 594.5 1024.3 594.9 1020.3 595.2 1015.2 595.6 1011.5 595.7 1010.5 595.9 1010.5 596.3 1010.3 596.6 1011.3 597 1011.7 597.3 1011.5 597.7 1011.2 597.9 1011.6 598 1012.3 598.4 1016.5 598.7 1020.8 599.1 1025.5 599.4 1029.5 599.8 1032.8 600.1 1034.9 600.5 1036.9 600.8 1037.9 601.2 1038.4 601.5 1039.2 601.9 1039.3 602.2 1039.5 602.6 1040.1 602.9 1040 603.3 1040 603.6 1040.7 604 1040.4 604.3 1040.7 604.7 1041.1 605 1040.5 605.4 1040.8 605.7 1041.2 606.1 1040.9 606.4 1040.9 606.8 1041 607.1 1041.1 607.5 1041.1 607.8 1041.3 608.2 1041.3 608.5 1041.7 608.9 1041.4 609.2 1041.8 609.6 1041.4 609.9 1041.8 610.3 1041.4 610.6 1041.7 611 1041.5 611.3 1041.9 611.7 1041.3 612 1041.4 612.4 1041.6 612.7 1041.3 613.1 1041.9 613.4 1041.5 613.8 1041.7 614.1 1041.8 614.5 1041.7 614.8 1041.4 615.2 1041.3 615.5 1041.2 615.9 1041.4 616.2 1041.4 616.6 1041.4 616.9 1041.7 617.3 1041.3 617.6 1041.2 618 1041.6 618.3 1042 618.7 1041.3 619 1041.5 619.4 1041.5 619.7 1041.8 620.1 1041.7 620.4 1041.4 620.8 1041.7 621.1 1041.5 621.5 1041.7 621.8 1041.9 622.2 1040.9 622.5 1041 622.9 1041 623.2 1041 623.6 1041.3 623.9 1041.3 624.3 1041.6 624.6 1041.5 625 1041.2 625.3 1041 625.7 1041.2 626 1041 626.4 1040.7 626.7 1040.9 627.1 1040.5 627.4 1040.5 627.8 1040.4 628.1 1040.2 628.5 1040 628.8 1040 629.2 1039.8 629.5 1039.3 629.9 1039.8 630.2 1039.5 630.6 1039.2 630.9 1038.7 631.3 1037.9 631.6 1037.1 632 1036.4 632.3 1035.3 632.7 1034.4 633 1032.5 633.4 1030.8 633.7 1027.5 634.1 1021.2 634.4 1008.3 634.8 981.2 635.1 934.4 635.5 879.1 635.7 860.4 635.8 861.6 636.2 898.4 636.5 934.7 636.9 932.1 637.2 884.9 637.6 838.9 637.6 837.9 637.9 871.6 638.3 933.6 638.6 969 639 974.1 639.3 965.7 639.5 961.6 639.7 960.6 640 958.8 640.4 949.6 640.7 936.9 640.8 934.9 641.1 933.3 641.4 917.9 641.8 864.6 642.1 821.8 642.1 821.6 642.5 871.9 642.8 931.4 643.2 932.3 643.5 869.5 643.9 805 643.9 803.4 644.2 846.5 644.6 919.7 644.9 938.5 645.3 893.4 645.6 829.7 645.7 824.9 646 853.8 646.3 923.6 646.7 950 647 917.2 647.4 858.1 647.5 847.5 647.7 862.3 648.1 913.8 648.4 924.5 648.8 892.9 649 879.7 649.1 884.9 649.5 932.7 649.8 978.3 650.2 1002.2 650.5 1009.1 650.9 1009.5 651.2 1010.4 651.2 1010.1 651.6 1012.6 651.9 1014.8 652.3 1016.2 652.6 1012.9 653 1001.5 653.3 976.4 653.7 942.3 654 921.3 654 921.1 654.4 935.6 654.7 958.2 655.1 958.9 655.4 926.2 655.8 870.1 656.1 837.1 656.1 837 656.5 870.7 656.8 927 657.2 960.8 657.5 960.5 657.9 939.2 658.2 926.1 658.2 926.1 658.6 947.8 658.9 982.3 659.3 1008.7 659.6 1022.5 660 1028.8 660.3 1032.8 660.7 1034.5 661 1035.5 661.4 1036.3 661.7 1037.7 662.1 1038.3 662.4 1039 662.8 1039.4 663.1 1039.5 663.5 1040.1 663.8 1040.3 664.2 1040.2 664.5 1040.9 664.9 1040.9 665.2 1040.9 665.6 1041.2 665.9 1041.1 666.3 1041.2 666.6 1041.4 667 1041.3 667.3 1042 667.7 1041.8 668 1042 668.4 1042.3 668.7 1042.3 669.1 1042.5 669.4 1041.8 669.8 1042.5 670.1 1042 670.5 1042.1 670.8 1042.2 671.2 1042.3 671.5 1042.3 671.9 1042.4 672.2 1042.7 672.6 1041.8 672.9 1042 673.3 1042.1 673.6 1042.5 674 1042.5 674.3 1042.6 674.7 1043 675 1042.6 675.4 1042.2 675.7 1042.7 676.1 1043.1 676.4 1043.1 676.8 1042.6 677.1 1042.7 677.5 1042.8 677.8 1042.9 678.2 1042.7 678.5 1042.6 678.9 1043.1 679.2 1043.1 679.6 1042.8 679.9 1042.7" stroke="#000" stroke-width="1.9" fill="none" stroke-linejoin="round"/>
<path d="M18.4 1354.8 18.7 1354.6 19 1354.6 19.3 1354.9 19.6 1354.8 19.9 1355.1 20.2 1354.8 20.5 1354.7 20.8 1354.9 21.1 1354.3 21.4 1355.1 21.7 1354.9 22 1355.4 22.3 1354.9 22.6 1355 22.9 1354.7 23.2 1355.6 23.5 1355.1 23.8 1355.4 24.1 1354.9 24.4 1355.2 24.7 1354.7 25 1354.8 25.3 1354.9 25.6 1354.8 25.9 1355.2 26.2 1355.3 26.5 1355.4 26.8 1354.8 27.1 1354.9 27.4 1355 27.7 1355.2 28 1354.7 28.3 1354.9 28.6 1355.3 28.9 1355.1 29.2 1355 29.5 1354.7 29.8 1354.9 30.1 1355.2 30.4 1355.3 30.7 1354.5 31 1355.2 31.3 1354.9 31.6 1354.8 31.9 1355.6 32.2 1355.2 32.5 1354.7 32.8 1354.7 33.1 1355.1 33.4 1354.6 33.7 1355 34 1355.2 34.3 1354.7 34.6 1355.1 34.9 1355.2 35.2 1354.9 35.5 1355.2 35.8 1355.2 36.1 1355.2 36.4 1354.9 36.7 1355.3 37 1355 37.3 1355.1 37.6 1355.1 37.9 1355.1 38.2 1354.5 38.5 1355.4 38.8 1355.2 39.1 1355.1 39.4 1355.3 39.7 1355 40 1355 40.3 1355.2 40.6 1354.5 40.9 1354.9 41.2 1354.9 41.5 1355 41.8 1354.9 42.1 1354.9 42.4 1355.2 42.7 1355.3 43 1355.2 43.3 1355.4 43.6 1355.2 43.9 1355.5 44.2 1355.6 44.5 1355 44.8 1354.9 45.1 1354.9 45.4 1355 45.7 1355.3 46 1355.3 46.3 1355.2 46.6 1354.9 46.9 1355 47.2 1355.1 47.5 1355.2 47.8 1354.2 48.1 1355.2 48.4 1355.3 48.7 1354.9 49 1355.5 49.3 1355.3 49.6 1355.3 49.9 1354.7 50.2 1355.4 50.5 1355.2 50.8 1355.2 51.1 1354.5 51.4 1354.7 51.7 1355 52 1354.7 52.3 1355.5 52.6 1354.8 52.9 1355.4 53.2 1355.2 53.5 1356 53.8 1355.2 54.1 1355.6 54.4 1355 54.7 1354.8 55 1355.3 55.3 1355.5 55.6 1355 55.9 1355.5 56.2 1355.3 56.5 1355.2 56.8 1355.2 57.1 1355.2 57.4 1355 57.7 1355.2 58 1355.3 58.3 1355 58.6 1354.4 58.9 1355.4 59.2 1355 59.5 1355.3 59.8 1354.9 60.1 1355.3 60.4 1355.1 60.7 1355.1 61 1355.2 61.3 1355.3 61.6 1354.7 61.9 1355.5 62.2 1355.5 62.5 1355.3 62.8 1354.7 63.1 1355.4 63.4 1355.2 63.7 1355.7 64 1355.1 64.3 1355.1 64.6 1355.5 64.9 1354.6 65.2 1355.1 65.5 1355.1 65.8 1354.5 66.1 1354.9 66.4 1355.3 66.7 1355.3 67 1355.7 67.3 1355.5 67.6 1354.8 67.9 1355.4 68.2 1355.3 68.5 1355.2 68.8 1354.9 69.1 1355.8 69.4 1355.7 69.7 1355.3 70 1355 70.3 1354.9 70.6 1354.9 70.9 1355.5 71.2 1354.7 71.5 1355.6 71.8 1355.2 72.1 1355.3 72.4 1355.5 72.7 1355.9 73 1355.4 73.3 1355.2 73.6 1355.3 73.9 1355.3 74.2 1355.2 74.5 1355.3 74.8 1354.9 75.1 1355.3 75.4 1354.8 75.7 1355.6 76 1355.1 76.3 1354.9 76.6 1355.4 76.9 1355.4 77.2 1355.3 77.5 1354.8 77.8 1354.9 78.1 1355.4 78.4 1355.9 78.7 1355.3 79 1355.3 79.3 1355.4 79.6 1355 79.9 1355.6 80.2 1355.1 80.5 1355.3 80.8 1355 81.1 1354.9 81.4 1355 81.7 1355 82 1355.1 82.3 1355.7 82.6 1355.3 82.9 1355.1 83.2 1355.4 83.5 1355.1 83.8 1355.6 84.1 1355.5 84.4 1355.2 84.7 1355.3 85 1355.3 85.3 1355 85.6 1354.9 85.9 1355.2 86.2 1355 86.5 1355.3 86.8 1355.5 87.1 1355.2 87.4 1355.4 87.7 1355.8 88 1355.1 88.3 1355.7 88.6 1355 88.9 1354.9 89.2 1355.3 89.5 1355.2 89.8 1354.8 90.1 1355.6 90.4 1355.5 90.7 1355 91 1355.2 91.3 1355.2 91.6 1354.9 91.9 1355.3 92.2 1354.8 92.5 1354.7 92.8 1355.7 93.1 1355 93.4 1355 93.7 1355.2 94 1355 94.3 1355.8 94.6 1355.3 94.9 1355.4 95.2 1355.5 95.5 1355.8 95.8 1354.5 96.1 1355.4 96.4 1355.2 96.7 1355.2 97 1355.5 97.3 1355.3 97.6 1354.6 97.9 1355.2 98.2 1355 98.5 1355.4 98.8 1354.4 99.1 1355.2 99.4 1355 99.7 1355.2 100 1355 100.3 1354.3 100.6 1355.1 100.9 1354.8 101.2 1354.5 101.5 1355 101.8 1354.6 102.1 1355 102.4 1354.8 102.7 1354 103 1354.5 103.3 1354.1 103.6 1353.9 103.9 1353.6 104.2 1353.7 104.5 1352.8 104.8 1352.7 105.1 1351.5 105.4 1351.1 105.7 1349.1 106 1346.5 106.3 1342.3 106.6 1334.6 106.9 1324.7 107.2 1311 107.5 1299.3 107.8 1293.6 107.8 1293.4 108.1 1299.1 108.4 1311.3 108.7 1325.1 109 1335.1 109.3 1342.1 109.6 1346.9 109.9 1349.4 110.2 1351 110.5 1351.7 110.8 1352.4 111.1 1353.3 111.4 1353.4 111.7 1353.9 112 1353.8 112.3 1354 112.6 1354.1 112.9 1354.7 113.2 1354.9 113.5 1354.5 113.8 1354.9 114.1 1354.3 114.4 1354.4 114.7 1355 115 1354.3 115.3 1355.7 115.6 1355.2 115.9 1355.4 116.2 1354.9 116.5 1354.6 116.8 1354.7 117.1 1354.7 117.4 1355.2 117.7 1354.7 118 1354.8 118.3 1355.5 118.6 1354.6 118.9 1354.8 119.2 1355.4 119.5 1355.7 119.8 1354.5 120.1 1354.2 120.4 1354.7 120.7 1355 121 1354.8 121.3 1354.7 121.6 1354.4 121.9 1355 122.2 1354.5 122.5 1354.4 122.8 1354.5 123.1 1354.8 123.4 1354.3 123.7 1354.8 124 1353.7 124.3 1353.7 124.6 1352.5 124.9 1352.4 125.2 1351.7 125.5 1350.1 125.8 1347.7 126.1 1343.6 126.4 1337 126.7 1328.3 127 1318.1 127.3 1309.9 127.5 1307.5 127.6 1308.2 127.9 1314.6 128.2 1325.3 128.5 1335.2 128.8 1342 129.1 1346.9 129.4 1349.6 129.7 1351.5 130 1352.3 130.3 1352.6 130.6 1353.8 130.9 1354.5 131.2 1354.2 131.5 1354.2 131.8 1354.6 132.1 1355.1 132.4 1354.5 132.7 1355 133 1354.9 133.3 1354.3 133.6 1354.9 133.9 1355.2 134.2 1355.2 134.5 1355.1 134.8 1354.8 135.1 1355.3 135.4 1355.3 135.7 1355.4 136 1355.8 136.3 1355.3 136.6 1355.6 136.9 1355.5 137.2 1356.2 137.5 1355.5 137.8 1356.2 138.1 1355.1 138.4 1355 138.7 1355.5 139 1355.4 139.3 1355.8 139.6 1355.7 139.9 1355.7 140.2 1355.2 140.5 1355.4 140.8 1355.7 141.1 1355.3 141.4 1355.5 141.7 1355.8 142 1355.5 142.3 1355.6 142.6 1355.9 142.9 1355.6 143.2 1355.1 143.5 1355.5 143.8 1355.5 144.1 1355.6 144.4 1356.2 144.7 1355.9 145 1355.6 145.3 1355.3 145.6 1355.8 145.9 1355.6 146.2 1355.9 146.5 1355.6 146.8 1355.8 147.1 1355.3 147.4 1355.5 147.7 1355.5 148 1355.3 148.3 1355.6 148.6 1355.4 148.9 1355.4 149.2 1355.3 149.5 1355.5 149.8 1355 150.1 1355.8 150.4 1355.6 150.7 1355.7 151 1355.9 151.3 1355.6 151.6 1355.4 151.9 1355.9 152.2 1355.3 152.5 1355.5 152.8 1354.8 153.1 1355.3 153.4 1355.4 153.7 1355.6 154 1355.5 154.3 1355.7 154.6 1355.2 154.9 1355.2 155.2 1355.4 155.5 1355 155.8 1355.1 156.1 1355.2 156.4 1354.6 156.7 1354.6 157 1355.2 157.3 1354.7 157.6 1355.1 157.9 1354.6 158.2 1354.3 158.5 1354.7 158.8 1354.2 159.1 1354.2 159.4 1353.6 159.7 1353.1 160 1352.6 160.3 1351.5 160.6 1350 160.9 1347 161.2 1343.3 161.5 1337.8 161.8 1330.9 162.1 1323.6 162.4 1320.2 162.5 1319 162.7 1320.8 163 1326.1 163.3 1333.3 163.6 1339.5 163.9 1344.6 164.2 1348.7 164.5 1351 164.8 1351.8 165.1 1352.9 165.4 1353.3 165.7 1353.1 166 1354.5 166.3 1354.2 166.6 1354.6 166.9 1354.8 167.2 1354.5 167.5 1355.2 167.8 1354.8 168.1 1354.7 168.4 1355.3 168.7 1355.3 169 1355.1 169.3 1355.3 169.6 1355.8 169.9 1355.6 170.2 1355.4 170.5 1355.3 170.8 1356 171.1 1355.3 171.4 1354.9 171.7 1355.9 172 1355.4 172.3 1354.9 172.6 1355.1 172.9 1355.2 173.2 1354.9 173.5 1355.4 173.8 1355.4 174.1 1356.1 174.4 1355.6 174.7 1355.4 175 1355.6 175.3 1355.7 175.6 1355.9 175.9 1356 176.2 1355.1 176.5 1355.2 176.8 1355.7 177.1 1356.2 177.4 1355.5 177.7 1356 178 1355.5 178.3 1355.5 178.6 1355.6 178.9 1356.1 179.2 1355.6 179.5 1355.7 179.8 1355.8 180.1 1356 180.4 1355.7 180.7 1356 181 1356.2 181.3 1356 181.6 1355.6 181.9 1355.7 182.2 1355.8 182.5 1355.6 182.8 1355.4 183.1 1355.5 183.4 1355.6 183.7 1355.1 184 1356.6 184.3 1356 184.6 1355.6 184.9 1355.5 185.2 1356.1 185.5 1355.3 185.8 1355.4 186.1 1356.1 186.4 1355.7 186.7 1356 187 1355.8 187.3 1355.8 187.6 1355.6 187.9 1355.9 188.2 1355.8 188.5 1355.8 188.8 1355.6 189.1 1356.1 189.4 1355.8 189.7 1355.9 190 1355.4 190.3 1355.3 190.6 1356 190.9 1355.6 191.2 1355.5 191.5 1355.9 191.8 1356.2 192.1 1355.7 192.4 1355.7 192.7 1355.9 193 1355.9 193.3 1355.8 193.6 1355.2 193.9 1356 194.2 1355.5 194.5 1356.4 194.8 1355.5 195.1 1355.8 195.4 1355.7 195.7 1355.8 196 1356.5 196.3 1355.7 196.6 1356 196.9 1355.7 197.2 1355.6 197.5 1356 197.8 1355.8 198.1 1355.7 198.4 1355.4 198.7 1355.8 199 1356.7 199.3 1355.7 199.6 1355.9 199.9 1355.5 200.2 1356.7 200.5 1355.3 200.8 1355.5 201.1 1355.1 201.4 1355.9 201.7 1355.7 202 1355.8 202.3 1355.6 202.6 1356.1 202.9 1356 203.2 1356 203.5 1354.8 203.8 1355.3 204.1 1355.6 204.4 1355.8 204.7 1354.7 205 1356 205.3 1355.6 205.6 1355.9 205.9 1355.1 206.2 1355.2 206.5 1355 206.8 1355.1 207.1 1355 207.4 1354.7 207.7 1355.5 208 1355.2 208.3 1354.7 208.6 1354.3 208.9 1355.1 209.2 1354 209.5 1354.2 209.8 1353.9 210.1 1353.9 210.4 1353.9 210.7 1353.7 211 1353 211.3 1352 211.6 1351.8 211.9 1350.3 212.2 1347.5 212.5 1343 212.8 1333.4 213.1 1320.3 213.4 1303.5 213.7 1288.8 213.9 1285.6 214 1286.4 214.3 1297.9 214.6 1315.3 214.9 1329.5 215.2 1339.4 215.5 1345.2 215.8 1348.1 216.1 1350 216.4 1350.7 216.7 1351.4 217 1351.7 217.3 1351.6 217.6 1350.9 217.9 1350.4 218.2 1347 218.5 1343.2 218.8 1336 219.1 1327.2 219.4 1319.2 219.6 1317.3 219.7 1318.2 220 1323.9 220.3 1333.5 220.6 1340.9 220.9 1346.3 221.2 1350 221.5 1351.6 221.8 1353.3 222.1 1352.8 222.4 1353.7 222.7 1354 223 1354.2 223.3 1354.2 223.6 1353.9 223.9 1354.7 224.2 1354.8 224.5 1354.7 224.8 1354.7 225.1 1355 225.4 1354.9 225.7 1354.8 226 1354.4 226.3 1354.8 226.6 1354.2 226.9 1354.5 227.2 1353.9 227.5 1354 227.8 1354.1 228.1 1353.5 228.4 1353.6 228.7 1352.7 229 1352.7 229.3 1351.3 229.6 1350.8 229.9 1347.7 230.2 1342.7 230.5 1334.2 230.8 1321.8 231.1 1306.5 231.4 1291.5 231.6 1287.9 231.7 1289.4 232 1300.9 232.3 1316.6 232.6 1330.5 232.9 1340.2 233.2 1345.9 233.5 1349.4 233.8 1351.2 234.1 1351.6 234.4 1352 234.7 1352.3 235 1352.4 235.3 1353.1 235.6 1352.8 235.9 1353.6 236.2 1353.3 236.5 1353.1 236.8 1353.6 237.1 1352.5 237.4 1353.1 237.7 1352.5 238 1352.1 238.3 1351.3 238.6 1349.9 238.9 1348.5 239.2 1345.3 239.5 1338.4 239.8 1330 240.1 1318.4 240.4 1307.6 240.6 1304.2 240.7 1303.8 241 1307.6 241.3 1313.1 241.6 1313.7 241.9 1311.9 242.2 1311.7 242.2 1311.5 242.5 1317.5 242.8 1327.3 243.1 1335 243.4 1341.7 243.7 1343.2 244 1343.1 244.3 1341.4 244.6 1337.2 244.9 1333.5 245.2 1330.9 245.2 1330.5 245.5 1332.4 245.8 1335.9 246.1 1339.2 246.4 1338.6 246.7 1336.5 247 1333.9 247.2 1333.1 247.3 1333.1 247.6 1335 247.9 1338.1 248.2 1339.8 248.5 1338.7 248.8 1334.8 249.1 1323.7 249.4 1302.4 249.7 1269.6 250 1231.2 250.3 1211.3 250.3 1210.8 250.6 1228.8 250.9 1265 251.2 1294.2 251.5 1308 251.8 1307.9 252.1 1298.6 252.4 1289 252.6 1286.6 252.7 1288.3 253 1299.9 253.3 1315.7 253.6 1329.3 253.9 1338.2 254.2 1344.4 254.5 1347.1 254.8 1349 255.1 1349.8 255.4 1350.9 255.7 1351.1 256 1351.3 256.3 1351.9 256.6 1351.5 256.9 1351.7 257.2 1351.4 257.5 1351 257.8 1350 258.1 1348.1 258.4 1345.5 258.7 1339.9 259 1330.7 259.3 1316.6 259.6 1300 259.9 1288.7 260 1286.7 260.2 1290.9 260.5 1305 260.8 1321.7 261.1 1334.5 261.4 1342.8 261.7 1347.6 262 1350.1 262.3 1351.5 262.6 1352.2 262.9 1353.2 263.2 1353.5 263.5 1354.2 263.8 1354 264.1 1354.3 264.4 1354.4 264.7 1355 265 1354.7 265.3 1354.3 265.6 1354.9 265.9 1355 266.2 1355.3 266.5 1355.2 266.8 1355.8 267.1 1355.6 267.4 1355.8 267.7 1356 268 1355.9 268.3 1355.9 268.6 1355.5 268.9 1355.8 269.2 1355.7 269.5 1356 269.8 1355.6 270.1 1356 270.4 1355.7 270.7 1356.1 271 1356.2 271.3 1356.3 271.6 1355.8 271.9 1356.3 272.2 1355.4 272.5 1356 272.8 1355.5 273.1 1356 273.4 1355.6 273.7 1356 274 1355.8 274.3 1356.4 274.6 1356.7 274.9 1356.3 275.2 1356.4 275.5 1356.2 275.8 1356.1 276.1 1356 276.4 1355.7 276.7 1355.9 277 1356.4 277.3 1356 277.6 1356.2 277.9 1355.9 278.2 1356.8 278.5 1356.6 278.8 1356.1 279.1 1356.7 279.4 1356.3 279.7 1356.5 280 1356.1 280.3 1356 280.6 1356.6 280.9 1356.4 281.2 1356.5 281.5 1356.5 281.8 1356.3 282.1 1356.1 282.4 1356.3 282.7 1355.7 283 1356.3 283.3 1356.6 283.6 1356.2 283.9 1356.8 284.2 1356.1 284.5 1355.9 284.8 1356.4 285.1 1356.2 285.4 1356.5 285.7 1356.1 286 1356.4 286.3 1356.3 286.6 1356.4 286.9 1356.6 287.2 1356.1 287.5 1356.2 287.8 1356.6 288.1 1356.7 288.4 1356.5 288.7 1356 289 1356.4 289.3 1356.2 289.6 1356.2 289.9 1355.8 290.2 1355.7 290.5 1356.6 290.8 1356.6 291.1 1355.9 291.4 1356.2 291.7 1356.3 292 1356.2 292.3 1356.5 292.6 1356.2 292.9 1355.9 293.2 1356.2 293.5 1356.5 293.8 1356.1 294.1 1356.6 294.4 1356.7 294.7 1356.5 295 1356.5 295.3 1356.3 295.6 1356.5 295.9 1356.1 296.2 1355.7 296.5 1356.2 296.8 1356.8 297.1 1356.7 297.4 1356.1 297.7 1356.3 298 1356.2 298.3 1356 298.6 1356.3 298.9 1356.6 299.2 1356.4 299.5 1356.3 299.8 1355.7 300.1 1357 300.4 1356 300.7 1356.4 301 1356.6 301.3 1356.5 301.6 1356.7 301.9 1355.7 302.2 1356.2 302.5 1356.2 302.8 1356 303.1 1356 303.4 1356.7 303.7 1356.1 304 1356.8 304.3 1356.7 304.6 1356.3 304.9 1356 305.2 1356.3 305.5 1356.2 305.8 1356.3 306.1 1356.2 306.4 1356.5 306.7 1356.4 307 1356.5 307.3 1356.5 307.6 1356.9 307.9 1357.1 308.2 1356.5 308.5 1356.5 308.8 1356.5 309.1 1356.8 309.4 1356.7 309.7 1356.6 310 1356.5 310.3 1356.7 310.6 1356.8 310.9 1356.4 311.2 1356.7 311.5 1356 311.8 1356.3 312.1 1356.7 312.4 1356.1 312.7 1356.1 313 1356.6 313.3 1356 313.6 1356.5 313.9 1357.2 314.2 1356.7 314.5 1357.1 314.8 1357.1 315.1 1356.4 315.4 1356.5 315.7 1356.7 316 1356.9 316.3 1357 316.6 1356.8 316.9 1356.7 317.2 1356.3 317.5 1356.9 317.8 1356.5 318.1 1356.9 318.4 1357 318.7 1356.2 319 1357.2 319.3 1356.6 319.6 1357 319.9 1356.9 320.2 1357.2 320.5 1357 320.8 1357.2 321.1 1356.9 321.4 1356.4 321.7 1356.6 322 1356.9 322.3 1357 322.6 1356.7 322.9 1356.5 323.2 1356.3 323.5 1356.7 323.8 1357.6 324.1 1356.7 324.4 1356.6 324.7 1356.9 325 1356.9 325.3 1356.8 325.6 1356.1 325.9 1356.5 326.2 1356.5 326.5 1356.9 326.8 1356.6 327.1 1356.7 327.4 1356.4 327.7 1356.6 328 1357.4 328.3 1357 328.6 1356.9 328.9 1356.5 329.2 1356.4 329.5 1357.1 329.8 1356.8 330.1 1357 330.4 1356.9 330.7 1356.8 331 1356.1 331.3 1357.1 331.6 1357.3 331.9 1356.8 332.2 1356.8 332.5 1356.9 332.8 1356.7 333.1 1356.3 333.4 1356.7 333.7 1356.8 334 1357.2 334.3 1356.5 334.6 1356.7 334.9 1356.8 335.2 1357 335.5 1357.4 335.8 1357 336.1 1357.1 336.4 1356.5 336.7 1357.3 337 1356.4 337.3 1357.3 337.6 1357.1 337.9 1356.9 338.2 1356.6 338.5 1357.1 338.8 1356.8 339.1 1357.3 339.4 1356 339.7 1356.9 340 1356.1 340.3 1356.9 340.6 1356.8 340.9 1357.2 341.2 1356.6 341.5 1356.6 341.8 1356.3 342.1 1356.8 342.4 1357 342.7 1356.9 343 1356.6 343.3 1356.9 343.6 1357.1 343.9 1357 344.2 1356.4 344.5 1356.8 344.8 1356.7 345.1 1356.1 345.4 1357.1 345.7 1357.1 346 1356.7 346.3 1357.1 346.6 1357.1 346.9 1356.8 347.2 1357.1 347.5 1356.9 347.8 1356.8 348.1 1357.3 348.4 1356.5 348.7 1357.6 349 1357.1 349.3 1356.9 349.6 1357.1 349.9 1356.7 350.2 1356.9 350.5 1357.6 350.8 1357.2 351.1 1357 351.4 1357 351.7 1357.3 352 1357.3 352.3 1356.9 352.6 1357.4 352.9 1357 353.2 1357 353.5 1357.3 353.8 1356.8 354.1 1356.6 354.4 1357 354.7 1357.3 355 1357 355.3 1357.3 355.6 1357.4 355.9 1357 356.2 1357.1 356.5 1357 356.8 1357.3 357.1 1357.2 357.4 1357.2 357.7 1357.5 358 1357.2 358.3 1357.2 358.6 1356.9 358.9 1357.1 359.2 1357.5 359.5 1357.3 359.8 1357.2 360.1 1357.1 360.4 1356.9 360.7 1356.9 361 1357.5 361.3 1357.2 361.6 1357.2 361.9 1357.5 362.2 1357 362.5 1357 362.8 1357.6 363.1 1357.4 363.4 1356.7 363.7 1357.2 364 1356.9 364.3 1357 364.6 1357.1 364.9 1356.7 365.2 1357 365.5 1357.7 365.8 1357.1 366.1 1357.1 366.4 1357.5 366.7 1356.8 367 1357.1 367.3 1357.6 367.6 1357.2 367.9 1357.3 368.2 1357.2 368.5 1357.3 368.8 1357.4 369.1 1357.2 369.4 1357.3 369.7 1357.3 370 1356.7 370.3 1357.5 370.6 1357.8 370.9 1357.5 371.2 1357.3 371.5 1357.1 371.8 1357.4 372.1 1357.8 372.4 1357.7 372.7 1357.1 373 1357.7 373.3 1357.1 373.6 1357.1 373.9 1357.2 374.2 1357.5 374.5 1357.2 374.8 1357.6 375.1 1357.4 375.4 1357.8 375.7 1356.9 376 1357.3 376.3 1357.5 376.6 1357.8 376.9 1356.7 377.2 1357.2 377.5 1356.7 377.8 1357.5 378.1 1357.2 378.4 1357.4 378.7 1357.6 379 1357.6 379.3 1357.3 379.6 1357.5 379.9 1358.3 380.2 1357.2 380.5 1357.5 380.8 1357.2 381.1 1357.6 381.4 1357.1 381.7 1357.5 382 1356.9 382.3 1357.4 382.6 1358.1 382.9 1357 383.2 1357.2 383.5 1357.6 383.8 1357 384.1 1356.7 384.4 1356.9 384.7 1357.4 385 1357.7 385.3 1357.4 385.6 1357.4 385.9 1357.7 386.2 1357.4 386.5 1357.8 386.8 1357.8 387.1 1357.3 387.4 1357.8 387.7 1357.6 388 1357.4 388.3 1357.4 388.6 1357.7 388.9 1357 389.2 1356.9 389.5 1357.8 389.8 1358 390.1 1357.5 390.4 1357.7 390.7 1356.9 391 1357 391.3 1357.3 391.6 1357.3 391.9 1357.5 392.2 1357.3 392.5 1357.4 392.8 1357.4 393.1 1357.6 393.4 1357.8 393.7 1357.7 394 1357.9 394.3 1357.4 394.6 1357.3 394.9 1356.9 395.2 1356.9 395.5 1357.7 395.8 1357.6 396.1 1357.5 396.4 1357.4 396.7 1357.1 397 1356.8 397.3 1357.3 397.6 1357.4 397.9 1356.7 398.2 1357.8 398.5 1357.2 398.8 1357.6 399.1 1357.8 399.4 1357.9 399.7 1357.4 400 1357.7 400.3 1357.7 400.6 1357.5 400.9 1357.6 401.2 1357.2 401.5 1357.5 401.8 1357.3 402.1 1357.4 402.4 1357.5 402.7 1357.7 403 1357.4 403.3 1357.4 403.6 1357.3 403.9 1358.3 404.2 1357.3 404.5 1357.6 404.8 1357 405.1 1357.5 405.4 1357.1 405.7 1357.3 406 1357.7 406.3 1358 406.6 1357.5 406.9 1357.6 407.2 1357.5 407.5 1357.3 407.8 1357.5 408.1 1357.7 408.4 1357.5 408.7 1357.3 409 1357.3 409.3 1357.6 409.6 1357.3 409.9 1357.7 410.2 1357 410.5 1357.7 410.8 1357.2 411.1 1357.4 411.4 1358.1 411.7 1357.7 412 1357.2 412.3 1357.3 412.6 1357.7 412.9 1357.7 413.2 1357.4 413.5 1357.6 413.8 1357.2 414.1 1356.5 414.4 1357.7 414.7 1357.2 415 1357.5 415.3 1357.3 415.6 1357.2 415.9 1357.1 416.2 1357.5 416.5 1357.6 416.8 1357.7 417.1 1357.5 417.4 1357.4 417.7 1357.1 418 1357.3 418.3 1357.4 418.6 1356.5 418.9 1356.9 419.2 1357.1 419.5 1357.4 419.8 1357.6 420.1 1357.7 420.4 1356.9 420.7 1357.1 421 1356.9 421.3 1356.8 421.6 1356.9 421.9 1357 422.2 1357.2 422.5 1356.5 422.8 1356.8 423.1 1356.5 423.4 1357.2 423.7 1357.2 424 1356.5 424.3 1356.3 424.6 1356.6 424.9 1356.6 425.2 1355.9 425.5 1355.9 425.8 1355.9 426.1 1355.3 426.4 1355.7 426.7 1354.8 427 1354.1 427.3 1352.6 427.6 1351.3 427.9 1347.1 428.2 1342.3 428.5 1335.8 428.8 1328.9 429.1 1324 429.2 1323.8 429.4 1325.4 429.7 1330.7 430 1337.4 430.3 1343.1 430.6 1346.5 430.9 1348.2 431.2 1347.8 431.5 1346.4 431.8 1345.6 432.1 1343.7 432.2 1343.7 432.4 1344.3 432.7 1347.2 433 1348.7 433.3 1351.1 433.6 1351.9 433.9 1353.2 434.2 1354.3 434.5 1354.5 434.8 1354.9 435.1 1355.2 435.4 1355.1 435.7 1355.2 436 1355.2 436.3 1355.1 436.6 1355.2 436.9 1355.3 437.2 1354.6 437.5 1354.9 437.8 1355 438.1 1354.5 438.4 1354.3 438.7 1354.7 439 1354.3 439.3 1354.4 439.6 1353.9 439.9 1352.9 440.2 1352.4 440.5 1352.1 440.8 1352 441.1 1350.1 441.4 1350.6 441.7 1350.3 442 1349.2 442.3 1348.5 442.6 1347.4 442.9 1346.1 443.2 1345.9 443.5 1344.4 443.8 1343.5 444.1 1342.2 444.4 1341.5 444.7 1339.8 445 1338.5 445.3 1337.1 445.6 1335.6 445.9 1334.8 446.2 1333.8 446.5 1332.5 446.8 1330.9 447.1 1330.5 447.4 1330.7 447.5 1329.8 447.7 1329.6 448 1328.6 448.3 1328.7 448.6 1328.3 448.9 1328.4 449.2 1327.7 449.5 1326.7 449.8 1325 450.1 1320.9 450.4 1314.4 450.7 1300.1 451 1276.7 451.3 1242.3 451.6 1200.8 451.9 1172.1 452 1169.2 452.2 1176.2 452.5 1206.9 452.8 1238.2 453.1 1254.7 453.4 1252.4 453.7 1234.1 454 1214.3 454.2 1209.5 454.3 1211 454.6 1230.4 454.9 1254.7 455.2 1269.7 455.5 1267.2 455.8 1243.6 456.1 1199.7 456.4 1144.3 456.7 1106.6 456.8 1103.8 457 1117.1 457.3 1168.2 457.6 1226.8 457.9 1273.4 458.2 1303 458.5 1320.1 458.8 1329.5 459.1 1335.1 459.4 1337.7 459.7 1340.8 460 1342.2 460.3 1343 460.6 1344.5 460.9 1344.2 461.2 1345.2 461.5 1346.1 461.8 1346.8 462.1 1346.3 462.4 1346.4 462.7 1347 463 1347.2 463.3 1347.1 463.6 1347.2 463.9 1348 464.2 1347.4 464.5 1347.3 464.8 1347.8 465 1348.4 465.1 1348.2 465.4 1348.2 465.7 1348 466 1348.5 466.3 1349.6 466.6 1349.2 466.9 1349.6 467.2 1349 467.5 1349.6 467.8 1349.9 468.1 1350.8 468.4 1350.5 468.7 1350.8 469 1351 469.3 1350.5 469.6 1352 469.9 1351.4 470.2 1352 470.5 1351.9 470.8 1352.5 471.1 1352.7 471.4 1352.9 471.7 1353.7 472 1353.1 472.3 1353.6 472.6 1354 472.9 1353.9 473.2 1354 473.5 1354.8 473.8 1354.6 474.1 1354.2 474.4 1354.6 474.7 1354.4 475 1354.8 475.3 1354.3 475.6 1355 475.9 1354.8 476.2 1354.7 476.5 1354.5 476.8 1354.4 477.1 1353.8 477.4 1353.6 477.7 1353 478 1351.6 478.3 1348.6 478.6 1344.2 478.9 1335.8 479.2 1325.2 479.5 1314.1 479.8 1309.1 479.8 1309.2 480.1 1314.7 480.4 1326 480.7 1336.7 481 1344.3 481.3 1349.7 481.6 1352.5 481.9 1353.5 482.2 1354.3 482.5 1355.2 482.8 1356.2 483.1 1355.9 483.4 1356.2 483.7 1356.6 484 1356.2 484.3 1356.4 484.6 1356.8 484.9 1357.2 485.2 1357 485.5 1357 485.8 1356.7 486.1 1357.8 486.4 1357 486.7 1357.8 487 1357.3 487.3 1357.9 487.6 1358.1 487.9 1357.4 488.2 1357.8 488.5 1357.9 488.8 1358.1 489.1 1357.7 489.4 1358.2 489.7 1357.9 490 1357.6 490.3 1358.2 490.6 1358.3 490.9 1357.9 491.2 1357.9 491.5 1358.2 491.8 1358.5 492.1 1357.6 492.4 1358.3 492.7 1358.6 493 1357.8 493.3 1358.2 493.6 1358.1 493.9 1358.2 494.2 1358.5 494.5 1357.6 494.8 1357.9 495.1 1357.7 495.4 1358 495.7 1358.6 496 1357.8 496.3 1357.9 496.6 1357.9 496.9 1358.2 497.2 1357.9 497.5 1357.7 497.8 1357.7 498.1 1357.8 498.4 1357.4 498.7 1356.9 499 1357.7 499.3 1357 499.6 1356.1 499.9 1355.3 500.2 1354.3 500.5 1352.3 500.8 1351.3 501.1 1350.6 501.1 1351.1 501.4 1350.5 501.7 1352.1 502 1354.4 502.3 1354.9 502.6 1356 502.9 1356.5 503.2 1356.5 503.5 1357.4 503.8 1357.8 504.1 1357.7 504.4 1357.3 504.7 1357.5 505 1358.1 505.3 1357.6 505.6 1357.3 505.9 1357.8 506.2 1357.4 506.5 1356.8 506.8 1357 507.1 1357.4 507.4 1356.9 507.7 1356.8 508 1356.8 508.3 1356 508.6 1355.5 508.9 1355.5 509.2 1354.7 509.5 1354 509.8 1352.5 510.1 1350.5 510.4 1347 510.7 1342.5 511 1335.7 511.3 1325.2 511.6 1315 511.9 1304.5 511.9 1303.4 512.2 1295.3 512.5 1287.3 512.8 1279.9 512.9 1278.7 513.1 1279.8 513.4 1286.3 513.7 1290.2 514 1296.9 514 1297.8 514.3 1309.1 514.6 1324.5 514.9 1336 515.2 1344.2 515.5 1349.2 515.8 1351.4 516.1 1353.1 516.4 1354.2 516.7 1354.5 517 1355.3 517.3 1355.8 517.6 1355.4 517.9 1355.8 518.2 1356.1 518.5 1355.8 518.8 1356.3 519.1 1356.3 519.4 1355.6 519.7 1355.6 520 1355 520.3 1354.6 520.6 1354 520.9 1352.6 521.2 1350.5 521.5 1346.6 521.8 1341.1 522.1 1332.4 522.4 1320.9 522.7 1310.1 522.7 1309.1 523 1301.2 523.3 1296.2 523.5 1295.6 523.6 1295.5 523.9 1300.5 524.2 1304.4 524.4 1310.2 524.5 1312.3 524.8 1324.1 525.1 1335.5 525.4 1344 525.7 1348.9 526 1351.3 526.3 1352.2 526.6 1352.7 526.9 1352.9 526.9 1352.8 527.2 1352.3 527.5 1351.2 527.8 1349.6 528.1 1345.5 528.4 1339 528.7 1329 529 1317.8 529.1 1314.1 529.3 1309.2 529.6 1305.8 529.8 1306.4 529.9 1308.5 530.2 1318.7 530.5 1330.3 530.8 1338.7 531.1 1344 531.4 1346.3 531.7 1346.5 532 1347.1 532.3 1346.4 532.3 1345.9 532.6 1345 532.9 1342.9 533.2 1337.5 533.5 1327.2 533.8 1312.4 534.1 1295.1 534.2 1288.3 534.4 1282.9 534.7 1278.8 535 1281.4 535 1282.1 535.3 1296.9 535.6 1316.6 535.9 1332.3 536.2 1342 536.5 1348.4 536.8 1350 537.1 1351.6 537.4 1352.7 537.7 1352.6 537.7 1352.4 538 1352.2 538.3 1352.3 538.6 1350.7 538.9 1347.1 539.2 1342.4 539.5 1335.8 539.8 1327.5 540.1 1319.8 540.3 1318.8 540.4 1318.7 540.7 1324.6 541 1332.8 541.3 1340.2 541.6 1344.2 541.9 1345.3 541.9 1344.4 542.2 1342.7 542.5 1334.4 542.8 1324.2 543.1 1316.2 543.1 1315.6 543.4 1320.2 543.7 1326.7 544 1326.9 544.3 1315.5 544.6 1298.4 544.8 1288.4 544.9 1287.2 545.2 1289.7 545.5 1292.2 545.8 1294.6 545.8 1296 546.1 1307.2 546.4 1317.8 546.7 1323.4 547 1323.6 547.1 1322.8 547.3 1319.3 547.6 1312.2 547.9 1307.9 547.9 1307.6 548.2 1312.5 548.5 1320.8 548.8 1323.7 549.1 1316.4 549.4 1303.7 549.7 1297.4 549.7 1297.9 550 1307.2 550.3 1319.9 550.6 1329.2 550.9 1332.7 551.1 1333.6 551.2 1333.5 551.5 1332.6 551.8 1329.9 552.1 1325 552.4 1313 552.7 1288.9 553 1250 553.3 1195.7 553.6 1139.5 553.9 1114.6 553.9 1114.4 554.2 1142.7 554.5 1200.3 554.8 1253.2 555.1 1292.5 555.4 1315.2 555.7 1327.8 556 1333.9 556.3 1337.4 556.6 1338.8 556.9 1339.8 556.9 1339.3 557.2 1338.8 557.5 1336.2 557.8 1330 558.1 1319.1 558.4 1308.5 558.6 1303.9 558.7 1303.9 559 1306.1 559.3 1306.2 559.6 1300.3 559.8 1297.7 559.9 1298.2 560.2 1307.6 560.5 1318.1 560.8 1325.2 561.1 1326.7 561.4 1326.3 561.7 1323.5 561.7 1324.6 562 1319.4 562.3 1306.5 562.6 1284.2 562.9 1257 563.1 1248.2 563.2 1248.7 563.5 1273.1 563.8 1304 564.1 1326.3 564.4 1338 564.7 1342.9 565 1346.4 565.3 1347.7 565.6 1348.3 565.9 1349.1 566.2 1349.4 566.3 1349.3 566.5 1348.7 566.8 1347.8 567.1 1344.9 567.4 1339.1 567.7 1326.8 568 1303.6 568.3 1276.2 568.5 1265.5 568.6 1266.3 568.9 1282.9 569.2 1302 569.5 1305.7 569.5 1305.9 569.8 1294.3 570 1284.3 570.1 1281.2 570.4 1270.3 570.7 1251.8 571 1242.6 571 1242.2 571.3 1265.5 571.6 1301 571.9 1326.2 572.2 1339.5 572.5 1346 572.8 1349 573.1 1349.6 573.4 1349.1 573.4 1349.1 573.7 1346.4 574 1342.3 574.3 1335.1 574.5 1332.8 574.6 1333.7 574.9 1337.6 575.2 1341.7 575.5 1343 575.8 1339.7 576.1 1334.9 576.2 1335.2 576.4 1336.6 576.7 1341.4 577 1344.1 577.3 1343.6 577.6 1337.3 577.9 1324.6 578.2 1307.9 578.4 1299.7 578.5 1296.7 578.8 1291.2 579.1 1275.5 579.4 1257.3 579.5 1256.8 579.7 1265.3 580 1280.9 580.3 1278.5 580.6 1269.2 580.7 1269.2 580.9 1277.7 581.2 1292.5 581.5 1293.9 581.8 1286.9 581.9 1286.1 582.1 1291.5 582.4 1305.7 582.7 1317.3 583 1322.6 583.3 1323.9 583.5 1324.3 583.6 1324.7 583.9 1326.2 584.2 1325.5 584.5 1323.6 584.8 1315.2 585.1 1298.6 585.4 1271.6 585.7 1252.6 585.7 1252.6 586 1261.8 586.3 1277.8 586.6 1280.8 586.9 1282.5 586.9 1282.8 587.2 1301.4 587.5 1323.6 587.8 1338.5 588.1 1346 588.4 1348.9 588.7 1350.4 589 1352.2 589.3 1351.9 589.4 1352 589.6 1351.4 589.9 1351.9 590.2 1350.3 590.5 1349.7 590.8 1346.4 591.1 1339.4 591.4 1325.5 591.7 1303.4 592 1280 592.1 1274.1 592.3 1275.1 592.6 1282.2 592.9 1282.1 593.2 1277.3 593.3 1278.7 593.5 1290.2 593.8 1312.5 594.1 1324.7 594.4 1323.8 594.7 1316.9 595 1312.7 595 1312.7 595.3 1319 595.6 1328.2 595.9 1334.5 596.2 1336.5 596.5 1337.6 596.7 1337.4 596.8 1337.5 597.1 1337 597.4 1336.5 597.7 1335.5 598 1334.4 598.3 1332.8 598.4 1331.9 598.6 1330.6 598.9 1329 599.2 1323.1 599.5 1309.5 599.8 1283.3 600.1 1237.7 600.4 1173.5 600.7 1104.9 601 1070.1 601 1070.1 601.3 1098.7 601.6 1166.4 601.9 1233.7 602.2 1282.6 602.5 1312.6 602.8 1328.6 603.1 1338.1 603.4 1343.2 603.7 1346.3 604 1348.9 604.3 1350.4 604.6 1351.9 604.9 1352.8 605.2 1353.6 605.5 1354.8 605.8 1354.7 606.1 1355.3 606.4 1355.5 606.7 1354.9 607 1354.7 607.3 1353.7 607.6 1352.6 607.9 1350.4 608.2 1348.9 608.5 1346.7 608.6 1345.9 608.8 1345.9 609.1 1344.9 609.4 1344.2 609.7 1344 610 1343.5 610 1343.3 610.3 1344.4 610.6 1345.5 610.9 1346.3 611.2 1347.4 611.4 1347.9 611.5 1348.8 611.8 1350.6 612.1 1352.9 612.4 1353.9 612.7 1356.1 613 1357.8 613.3 1357.7 613.6 1358.3 613.9 1358.4 614.2 1358.2 614.5 1359.1 614.8 1359.6 615.1 1359.6 615.4 1359.1 615.7 1359 616 1359.1 616.3 1359.5 616.6 1359.3 616.9 1359.6 617.2 1359.5 617.5 1359.1 617.8 1359.1 618.1 1359.7 618.4 1359.7 618.7 1359.4 619 1359.8 619.3 1359.3 619.6 1359.2 619.9 1359.2 620.2 1359.3 620.5 1358.3 620.8 1358.9 621.1 1358.7 621.4 1358.1 621.7 1357.7 622 1357.8 622.3 1356.4 622.6 1354.7 622.9 1351.3 623.2 1343.3 623.5 1333.3 623.8 1323.1 623.9 1322.4 624.1 1325.3 624.4 1335.7 624.7 1343.8 625 1347 625.3 1343.9 625.6 1333.4 625.9 1317 626.2 1299.3 626.3 1296.2 626.5 1299.5 626.8 1317.6 627.1 1335 627.4 1347 627.7 1351.1 628 1352.9 628.3 1354.5 628.6 1353.5 628.9 1352.3 629.2 1348.6 629.5 1343 629.8 1335.6 630.1 1330.4 630.1 1329.8 630.4 1331.7 630.7 1333.3 631 1328.4 631.3 1314.8 631.6 1295.1 631.6 1292.2 631.9 1278.7 632.2 1263.1 632.4 1261 632.5 1267.1 632.8 1300 633.1 1326.9 633.4 1337.7 633.7 1337.6 634 1328.5 634.3 1319.7 634.4 1319 634.6 1321.6 634.9 1333.3 635.2 1344.1 635.5 1349.9 635.8 1354.2 636.1 1355 636.4 1355.7 636.7 1355.7 637 1355.4 637.3 1355.1 637.6 1353 637.9 1348.8 638.2 1341.6 638.5 1333.5 638.8 1327.6 638.8 1327.2 639.1 1326.5 639.4 1326.9 639.7 1328.7 639.7 1328.9 640 1335.9 640.3 1343 640.6 1346.7 640.9 1345.9 641.2 1343.3 641.5 1340.8 641.6 1340.6 641.8 1342.3 642.1 1346.6 642.4 1350.8 642.7 1353.8 643 1356.3 643.3 1357.4 643.6 1358.1 643.9 1358 644.2 1358.1 644.5 1358.1 644.8 1358.7 645.1 1358.6 645.4 1359 645.7 1358.3 646 1359.1 646.3 1358.6 646.6 1358.5 646.9 1358.5 647.2 1358.4 647.5 1358.2 647.8 1357.2 648.1 1357.1 648.4 1356.9 648.7 1356.3 649 1355.2 649.3 1353.3 649.6 1350.8 649.9 1344.7 650.2 1333.4 650.5 1316.3 650.8 1298 650.9 1294.6 651.1 1290 651.4 1281.9 651.7 1262.2 652 1246.9 652 1246.6 652.3 1257.4 652.6 1277.9 652.7 1288.6 652.9 1300.7 653.2 1322.5 653.5 1338.5 653.8 1346.8 654.1 1351.7 654.4 1353.8 654.7 1355 655 1356.1 655.3 1356.5 655.6 1357 655.9 1357.7 656.2 1358.1 656.5 1357.9 656.8 1358.3 657.1 1357.5 657.4 1358.1 657.7 1358 658 1357.9 658.3 1358.1 658.6 1358.5 658.9 1358 659.2 1358 659.5 1358 659.8 1357.8 660.1 1357.1 660.4 1356.7 660.7 1356.8 661 1356.3 661.3 1355.4 661.6 1355.4 661.9 1353.9 662.2 1352.8 662.5 1351.8 662.8 1349.7 663.1 1347.7 663.4 1344.1 663.7 1337.7 664 1325.9 664.3 1302.6 664.6 1264.4 664.9 1215.4 665.2 1174.2 665.3 1168.6 665.5 1170.7 665.8 1188.8 666.1 1187.2 666.4 1161.4 666.6 1148.9 666.7 1151.3 667 1185.2 667.3 1220.6 667.6 1233.1 667.9 1237.4 667.9 1239.6 668.2 1257.5 668.5 1275.9 668.8 1285.9 669.1 1292.1 669.1 1293.9 669.4 1306.9 669.7 1322.3 670 1334.8 670.3 1343.4 670.6 1348.1 670.9 1350.9 671.2 1352.3 671.5 1353.5 671.8 1354.5 672.1 1354.9 672.4 1355.4 672.7 1355.7 673 1356.3 673.3 1356.3 673.6 1356.3 673.9 1355.9 674.2 1355.2 674.5 1354.5 674.8 1353.7 675.1 1351.1 675.4 1346.4 675.7 1339.7 676 1330.7 676.3 1320.7 676.3 1320.5 676.6 1315.1 676.9 1312.2 677.1 1311.7 677.2 1313.3 677.5 1317.1 677.8 1318.6 678 1321 678.1 1322.3 678.4 1331.8 678.7 1341 679 1347.6 679.3 1351.8 679.6 1353.8 679.9 1354.7 680.2 1354.6 680.5 1354.8 680.8 1354.3 681.1 1353.5 681.4 1351 681.7 1347.4 682 1341.2 682.3 1332.3 682.6 1323.1 682.9 1317.6 683 1317.3 683.2 1320.1 683.5 1328.3 683.8 1337.9 684.1 1345 684.4 1349.5 684.7 1352.2 685 1353.6 685.3 1354.7 685.6 1354.7 685.9 1354.4 686.2 1354.5 686.5 1353.3 686.8 1353 687.1 1351.8 687.4 1350.4 687.7 1347.7 688 1344.3 688.3 1340.2 688.6 1335.2 688.9 1330.5 689.2 1327 689.3 1326.4 689.5 1325.6 689.8 1325.6 690.1 1325.9 690.4 1324.7 690.7 1321.4 691 1317.9 691.3 1314.4 691.6 1310.8 691.6 1310.8 691.9 1309 692.2 1306.8 692.5 1302.9 692.8 1293.5 693.1 1278.4 693.4 1259.4 693.4 1258.7 693.7 1237.6 694 1216.5 694.3 1202.6 694.3 1201.2 694.6 1195.6 694.9 1179.8 695.2 1124.4 695.5 1018.3 695.8 914.6 695.9 903.2 696.1 935.5 696.4 1064.1 696.7 1180.5 697 1245.3 697.3 1269.5 697.6 1274 697.9 1274.4 698 1275.1 698.2 1280.3 698.5 1289.9 698.8 1300.2 699.1 1305.4 699.4 1307.6 699.7 1305.3 700 1302.7 700.3 1302.2 700.3 1302 700.6 1304.7 700.9 1310 701.2 1315.5 701.5 1319.8 701.8 1322.8 702.1 1322.8 702.4 1324.4 702.6 1325.1 702.7 1325.2 703 1328.7 703.3 1332.3 703.6 1335.5 703.9 1336.8 704.2 1337.3 704.5 1334.8 704.8 1323.9 705.1 1302.9 705.4 1271 705.7 1245.5 705.7 1244.1 706 1245 706.3 1248.5 706.6 1238.9 706.8 1231.6 706.9 1232.5 707.2 1245.1 707.5 1259.3 707.8 1268.5 707.9 1271.1 708.1 1284.5 708.4 1307 708.7 1325.9 709 1338.8 709.3 1345.4 709.6 1349.1 709.9 1351.8 710.2 1352.9 710.5 1354 710.8 1354.7 711.1 1354.1 711.4 1354.8 711.7 1354.7 712 1354.4 712.3 1354 712.6 1352.8 712.9 1349.2 713.2 1342.9 713.5 1332 713.8 1316.4 714.1 1301.9 714.1 1300.8 714.4 1297 714.7 1294.4 715 1293.2 715.1 1294.4 715.3 1301.9 715.6 1319.3 715.9 1335.4 716.2 1345.7 716.5 1351.5 716.8 1354.3 717.1 1355.7 717.4 1356.6 717.7 1357.3 718 1357.7 718.3 1358.1 718.6 1358.5 718.9 1358.5 719.2 1359 719.5 1358.8 719.8 1358.8 720.1 1359.5 720.4 1359.2 720.7 1359.5 721 1359.3 721.3 1359.2 721.6 1359.3 721.9 1359.5 722.2 1360.2 722.5 1359.6 722.8 1359.9 723.1 1359.8 723.4 1359.9 723.7 1359.5 724 1360.2 724.3 1360 724.6 1359.8 724.9 1360.1 725.2 1359.4 725.5 1359.7 725.8 1360 726.1 1360.3 726.4 1359.6 726.7 1360.2 727 1360 727.3 1359.3 727.6 1359.5 727.9 1359.5 728.2 1358.7 728.5 1359 728.8 1357.5 729.1 1357.3 729.4 1355.2 729.7 1352 730 1346.9 730.3 1341.3 730.5 1337.8 730.6 1337.8 730.9 1335.8 731.2 1335.1 731.3 1334.7 731.5 1334.7 731.8 1336.9 732.1 1338.3 732.2 1339.7 732.4 1342.2 732.7 1346.6 733 1351.6 733.3 1354.4 733.6 1356.2 733.9 1357.6 734.2 1357.4 734.5 1357.8 734.8 1357.7 735.1 1357.7 735.4 1356.5 735.7 1354.9 736 1351.4 736.3 1347 736.6 1342.8 736.7 1341.7 736.9 1339.9 737.2 1338.1 737.5 1337.6 737.5 1338.2 737.8 1339 738.1 1340 738.4 1342 738.4 1343.2 738.7 1346.5 739 1350.7 739.3 1354.3 739.6 1356.4 739.9 1357.7 740.2 1358.4 740.5 1358.3 740.8 1359 741.1 1359.2 741.4 1359.7 741.7 1359.8 742 1359.5 742.3 1359.6 742.6 1359.7 742.9 1360.2 743.2 1360 743.5 1359.4 743.8 1360 744.1 1359.3 744.4 1359.8 744.7 1359.5 745 1359 745.3 1359.1 745.6 1359.1 745.9 1359.3 746.2 1359.2 746.5 1358.1 746.8 1358.2 747.1 1358.4 747.4 1357.8 747.7 1357.4 748 1356.8 748.3 1356.1 748.6 1355.3 748.9 1353.5 749.2 1351.1 749.5 1349 749.8 1343.7 750.1 1332.7 750.4 1309.2 750.7 1264.6 751 1209.8 751.2 1188.9 751.3 1188 751.6 1201.3 751.9 1194.1 752.2 1170.4 752.3 1170.8 752.5 1194.7 752.8 1256.3 753.1 1305 753.4 1330.9 753.7 1342.9 754 1347.9 754.3 1351.2 754.6 1352.7 754.9 1354.3 755.2 1355.3 755.5 1355.8 755.8 1356.6 756.1 1356.5 756.4 1357.6 756.7 1357.3 757 1357.4 757.3 1357.6 757.6 1357.6 757.9 1357.5 758.2 1357.8 758.5 1357.4 758.8 1357.4 759.1 1357.4 759.4 1357 759.7 1356.6 760 1356.7 760.3 1356.5 760.6 1355.2 760.9 1354.9 761.2 1353.4 761.5 1352.2 761.8 1350.3 762.1 1348 762.4 1344.5 762.7 1339.4 763 1329.9 763.3 1309.1 763.6 1256.9 763.9 1159.9 764.2 1048.7 764.3 1028.2 764.5 1020.9 764.8 1023 765.1 1001.1 765.2 1007.3 765.4 1072 765.7 1196.2 766 1279.5 766.3 1318.2 766.6 1334 766.9 1340.6 767.2 1345.5 767.5 1347.9 767.8 1349.6 768.1 1350.6 768.4 1350.9 768.7 1349.5 769 1346.6 769.3 1339 769.6 1328 769.9 1318.3 770 1316 770.2 1316.6 770.5 1317.6 770.8 1317 771 1318.5 771.1 1321 771.4 1332.8 771.7 1344.1 772 1350.7 772.3 1354.3 772.6 1356.4 772.9 1357.3 773.2 1358.3 773.5 1357.6 773.8 1358.9 774.1 1359 774.4 1358.9 774.7 1359 775 1359.1 775.3 1359.2 775.6 1360 775.9 1359.6 776.2 1359.6 776.5 1359.8 776.8 1360 777.1 1360.1 777.4 1359.9 777.7 1359.9 778 1359.7 778.3 1359.9 778.6 1359.9 778.9 1359.8 779.2 1359.9 779.5 1360.3 779.8 1360.2 780.1 1360 780.4 1360.3 780.7 1359.9 781 1360.2 781.3 1359.8 781.6 1360.2 781.9 1359.9 782.2 1359.5 782.5 1359.2 782.8 1359.5 783.1 1359.4 783.4 1358.9 783.7 1359 784 1358.7 784.3 1358.8 784.6 1358.1 784.9 1358.2 785.2 1358.3 785.5 1357.6 785.8 1356.7 786.1 1356.4 786.4 1354.8 786.7 1353.6 787 1351.2 787.3 1347.3 787.6 1340.7 787.9 1320.6 788.2 1241.3 788.5 1108.8 788.6 1102.3 788.8 1170.8 789.1 1201.4 789.4 1073.6 789.4 1070.4 789.7 1187.8 790 1264.3 790.3 1247.3 790.3 1246.6 790.6 1239.4 790.9 1209.9 790.9 1208.3 791.2 1185.4 791.5 1049.3 791.5 1047.2 791.8 1182.3 792.1 1167.8 792.4 1021 792.4 1026.3 792.7 1199.6 793 1145 793.2 1051.8 793.3 1082.3 793.6 1227.6 793.9 1131.9 794 1084.1 794.2 1137.2 794.5 1184.7 794.7 1130.5 794.8 1141.7 795.1 1267.9 795.4 1312.7 795.7 1314.4 795.8 1314.5 796 1319.3 796.3 1322.9 796.6 1298.4 796.9 1217.7 797.1 1188.4 797.2 1204.3 797.5 1246 797.8 1153.7 798 1068.1 798.1 1077.4 798.4 1211.9 798.7 1243 799 1195 799 1195 799.3 1264.8 799.6 1327.2 799.9 1344.4 800.2 1350.2 800.5 1352.7 800.8 1354.5 801.1 1356 801.4 1356.7 801.7 1357.4 802 1357.9 802.3 1357.8 802.6 1358.7 802.9 1358.9 803.2 1359.2 803.5 1359.4 803.8 1359.9 804.1 1359.4 804.4 1359.7 804.7 1360.1 805 1359.6 805.3 1360.2 805.6 1359.7 805.9 1359.8 806.2 1359.6 806.5 1359.9 806.8 1360.6 807.1 1360.6 807.4 1360.1 807.7 1360.2 808 1360.4 808.3 1359.8 808.6 1360 808.9 1360.1 809.2 1359.6 809.5 1359.9 809.8 1360 810.1 1360 810.4 1360.1 810.7 1359.5 811 1360.3 811.3 1360 811.6 1360.3 811.9 1360.3 812.2 1360.1 812.5 1360.6 812.8 1359.6 813.1 1360.1 813.4 1360.1 813.7 1360.5 814 1360 814.3 1360.2 814.6 1360.1 814.9 1360.6 815.2 1359.9 815.5 1359.7 815.8 1359.8 816.1 1360.1 816.4 1360.4 816.7 1359.2 817 1359.5 817.3 1360.3 817.6 1359.8 817.9 1359.7 818.2 1359.7 818.5 1359.6 818.8 1359.5 819.1 1359.8 819.4 1359.6 819.7 1360.3 820 1359 820.3 1359.9 820.6 1359.5 820.9 1360.2 821.2 1359.4 821.5 1359.8 821.8 1360.2 822.1 1359.8 822.4 1359.4 822.7 1359.6 823 1359.7 823.3 1360 823.6 1359.6 823.9 1359.7 824.2 1359.2 824.5 1359.5 824.8 1359.9 825.1 1359.4 825.4 1359.3 825.7 1359.3 826 1359.8 826.3 1359.5 826.6 1359.5 826.9 1359.1 827.2 1358.8 827.5 1359.6 827.8 1359.2 828.1 1359.5 828.4 1359.4 828.7 1359.1 829 1358.9 829.3 1359.5 829.6 1358.6 829.9 1358.5 830.2 1359.6 830.5 1358.9 830.8 1359.2 831.1 1359.4 831.4 1359.7 831.7 1358.7 832 1359 832.3 1359.3 832.6 1359 832.9 1358.7 833.2 1359.2 833.5 1358.4 833.8 1359.2 834.1 1358.9 834.4 1358.9 834.7 1358.6 835 1358.7 835.3 1359.1 835.6 1358.9 835.9 1359.1 836.2 1358.9 836.5 1358.6 836.8 1358.6 837.1 1358.7 837.4 1358.5 837.7 1359.1 838 1358.3 838.3 1359.1 838.6 1358.4 838.9 1358.3 839.2 1358.5 839.5 1358.1 839.8 1359 840.1 1359 840.4 1358.9 840.7 1359 841 1358.8 841.3 1357.8 841.6 1358.6 841.9 1358.1 842.2 1358.6 842.5 1358.2 842.8 1358.2 843.1 1358 843.4 1358.4 843.7 1358.6 844 1357.9 844.3 1358.3 844.6 1358.3 844.9 1358.1 845.2 1358.1 845.5 1358.5 845.8 1358.5 846.1 1358.3 846.4 1358.3 846.7 1358.2 847 1357.8 847.3 1358 847.6 1358 847.9 1357.7 848.2 1358.2 848.5 1358.5 848.8 1358.5 849.1 1357.8 849.4 1357.7 849.7 1357.6 850 1358 850.3 1357.7 850.6 1358.1 850.9 1357.4 851.2 1357.8 851.5 1357.5 851.8 1357.7 852.1 1357.6 852.4 1357.1 852.7 1357.8 853 1357.6 853.3 1357.6 853.6 1357.5 853.9 1357.2 854.2 1357.5 854.5 1357.7 854.8 1357.9 855.1 1357.5 855.4 1357.2 855.7 1357.7 856 1357.3 856.3 1357.3 856.6 1357.3 856.9 1357.5 857.2 1356.9 857.5 1357.3 857.8 1357.2 858.1 1357.1 858.4 1357.7 858.7 1356.7 859 1357.1 859.3 1357.2 859.6 1357.2 859.9 1357.5 860.2 1356.4 860.5 1356.9 860.8 1356.8 861.1 1356.6 861.4 1356.8 861.7 1357.1 862 1356.8 862.3 1357.5 862.6 1356.4 862.9 1357 863.2 1356.9 863.5 1356.8 863.8 1357 864.1 1356.7 864.4 1356.9 864.7 1356.6 865 1356.5 865.3 1356.4 865.6 1356.5 865.9 1356.8 866.2 1356.5 866.5 1356.8 866.8 1356.5 867.1 1356.5 867.4 1356.9 867.7 1356.1 868 1356.4 868.3 1356.7 868.6 1356.5 868.9 1356.5 869.2 1356.7 869.5 1356.2 869.8 1356.3 870.1 1356.7 870.4 1355.9 870.7 1356.3 871 1356.3 871.3 1356.2 871.6 1356.2 871.9 1355.8 872.2 1356 872.5 1355.9 872.8 1356 873.1 1355.9 873.4 1356.3 873.7 1356 874 1356.2 874.3 1355.7 874.6 1355.4 874.9 1355.3 875.2 1355.2 875.5 1354.2 875.8 1353.4 876.1 1352.5 876.4 1351.4 876.7 1348 877 1342.7 877.3 1335.1 877.6 1326.4 877.9 1319.9 878 1319.3 878.2 1321.2 878.5 1329.3 878.8 1337.8 879.1 1344.9 879.4 1349.5 879.7 1351.7 880 1352.9 880.3 1353.6 880.6 1354.2 880.9 1354.4 881.2 1355 881.5 1354.7 881.8 1355.3 882.1 1355.2 882.4 1355.7 882.7 1355.2 883 1355.6 883.3 1355.8 883.6 1355.2 883.9 1355.8 884.2 1355.5 884.5 1355.4 884.8 1355.3 885.1 1355.8 885.4 1355.6 885.7 1355.7 886 1356 886.3 1354.9 886.6 1356 886.9 1356.4" stroke="#000" stroke-width="1.8" fill="none" stroke-linejoin="round"/>
<line x1="4" y1="338" x2="753.6" y2="338" stroke="#000" stroke-width="2.0"/>
<path d="M748.67 338 v3.6 M737.66 338 v3.6 M726.64 338 v5.8 M715.63 338 v3.6 M704.62 338 v3.6 M693.61 338 v3.6 M682.59 338 v3.6 M671.58 338 v5.8 M660.57 338 v3.6 M649.55 338 v3.6 M638.54 338 v3.6 M627.53 338 v3.6 M616.51 338 v5.8 M605.50 338 v3.6 M594.49 338 v3.6 M583.48 338 v3.6 M572.46 338 v3.6 M561.45 338 v5.8 M550.44 338 v3.6 M539.42 338 v3.6 M528.41 338 v3.6 M517.40 338 v3.6 M506.38 338 v5.8 M495.37 338 v3.6 M484.36 338 v3.6 M473.35 338 v3.6 M462.33 338 v3.6 M451.32 338 v5.8 M440.31 338 v3.6 M429.29 338 v3.6 M418.28 338 v3.6 M407.27 338 v3.6 M396.25 338 v5.8 M385.24 338 v3.6 M374.23 338 v3.6 M363.22 338 v3.6 M352.20 338 v3.6 M341.19 338 v5.8 M330.18 338 v3.6 M319.16 338 v3.6 M308.15 338 v3.6 M297.14 338 v3.6 M286.12 338 v5.8 M275.11 338 v3.6 M264.10 338 v3.6 M253.09 338 v3.6 M242.07 338 v3.6 M231.06 338 v5.8 M220.05 338 v3.6 M209.03 338 v3.6 M198.02 338 v3.6 M187.01 338 v3.6 M176.00 338 v5.8 M164.98 338 v3.6 M153.97 338 v3.6 M142.96 338 v3.6 M131.94 338 v3.6 M120.93 338 v5.8 M109.92 338 v3.6 M98.90 338 v3.6 M87.89 338 v3.6 M76.88 338 v3.6 M65.86 338 v5.8 M54.85 338 v3.6 M43.84 338 v3.6 M32.83 338 v3.6 M21.81 338 v3.6 M10.80 338 v5.8" stroke="#000" stroke-width="1.6" fill="none"/>
<text transform="translate(672.75 358.65) scale(1.098 0.986)" class="t" font-size="15" text-anchor="middle">20</text>
<text transform="translate(562.62 358.65) scale(1.098 0.986)" class="t" font-size="15" text-anchor="middle">30</text>
<text transform="translate(452.49 358.65) scale(1.098 0.986)" class="t" font-size="15" text-anchor="middle">40</text>
<text transform="translate(342.36 358.65) scale(1.098 0.986)" class="t" font-size="15" text-anchor="middle">50</text>
<text transform="translate(232.23 358.65) scale(1.098 0.986)" class="t" font-size="15" text-anchor="middle">60</text>
<text transform="translate(122.10 358.65) scale(1.098 0.986)" class="t" font-size="15" text-anchor="middle">70</text>
<text transform="translate(11.97 358.65) scale(1.098 0.986)" class="t" font-size="15" text-anchor="middle">80</text>
<line x1="19.5" y1="673.7" x2="889" y2="673.7" stroke="#000" stroke-width="2.0"/>
<path d="M888.50 673.7 v6.8 M845.08 673.7 v4.4 M801.65 673.7 v6.8 M758.23 673.7 v4.4 M714.80 673.7 v6.8 M671.38 673.7 v4.4 M627.95 673.7 v6.8 M584.52 673.7 v4.4 M541.10 673.7 v6.8 M497.67 673.7 v4.4 M454.25 673.7 v6.8 M410.82 673.7 v4.4 M367.40 673.7 v6.8 M323.98 673.7 v4.4 M280.55 673.7 v6.8 M237.12 673.7 v4.4 M193.70 673.7 v6.8 M150.27 673.7 v4.4 M106.85 673.7 v6.8 M63.42 673.7 v4.4" stroke="#000" stroke-width="1.6" fill="none"/>
<text transform="translate(890.50 699.26) scale(0.963 0.993)" class="t" font-size="19" text-anchor="middle">0</text>
<text transform="translate(803.65 699.26) scale(0.963 0.993)" class="t" font-size="19" text-anchor="middle">20</text>
<text transform="translate(716.80 699.26) scale(0.963 0.993)" class="t" font-size="19" text-anchor="middle">40</text>
<text transform="translate(629.95 699.26) scale(0.963 0.993)" class="t" font-size="19" text-anchor="middle">60</text>
<text transform="translate(543.10 699.26) scale(0.963 0.993)" class="t" font-size="19" text-anchor="middle">80</text>
<text transform="translate(456.25 699.26) scale(0.963 0.993)" class="t" font-size="19" text-anchor="middle">100</text>
<text transform="translate(369.40 699.26) scale(0.963 0.993)" class="t" font-size="19" text-anchor="middle">120</text>
<text transform="translate(282.55 699.26) scale(0.963 0.993)" class="t" font-size="19" text-anchor="middle">140</text>
<text transform="translate(195.70 699.26) scale(0.963 0.993)" class="t" font-size="19" text-anchor="middle">160</text>
<text transform="translate(108.85 699.26) scale(0.963 0.993)" class="t" font-size="19" text-anchor="middle">180</text>
<line x1="27.2" y1="1057.4" x2="680.6" y2="1057.4" stroke="#000" stroke-width="2.0"/>
<path d="M680.19 1057.4 v3 M661.70 1057.4 v3 M643.20 1057.4 v6 M624.70 1057.4 v3 M606.21 1057.4 v3 M587.72 1057.4 v3 M569.22 1057.4 v3 M550.73 1057.4 v6 M532.23 1057.4 v3 M513.73 1057.4 v3 M495.24 1057.4 v3 M476.75 1057.4 v3 M458.25 1057.4 v6 M439.75 1057.4 v3 M421.26 1057.4 v3 M402.76 1057.4 v3 M384.27 1057.4 v3 M365.77 1057.4 v6 M347.28 1057.4 v3 M328.78 1057.4 v3 M310.29 1057.4 v3 M291.79 1057.4 v3 M273.30 1057.4 v6 M254.80 1057.4 v3 M236.31 1057.4 v3 M217.82 1057.4 v3 M199.32 1057.4 v3 M180.82 1057.4 v6 M162.33 1057.4 v3 M143.83 1057.4 v3 M125.34 1057.4 v3 M106.85 1057.4 v3 M88.35 1057.4 v6 M69.86 1057.4 v3 M51.36 1057.4 v3 M32.87 1057.4 v3" stroke="#000" stroke-width="1.6" fill="none"/>
<text transform="translate(642.70 1077.00) scale(0.997 1.005)" class="t" font-size="14.5" text-anchor="middle">1.0</text>
<text transform="translate(550.23 1077.00) scale(0.997 1.005)" class="t" font-size="14.5" text-anchor="middle">1.5</text>
<text transform="translate(457.75 1077.00) scale(0.997 1.005)" class="t" font-size="14.5" text-anchor="middle">2.0</text>
<text transform="translate(365.27 1077.00) scale(0.997 1.005)" class="t" font-size="14.5" text-anchor="middle">2.5</text>
<text transform="translate(272.80 1077.00) scale(0.997 1.005)" class="t" font-size="14.5" text-anchor="middle">3.0</text>
<text transform="translate(180.32 1077.00) scale(0.997 1.005)" class="t" font-size="14.5" text-anchor="middle">3.5</text>
<text transform="translate(87.85 1077.00) scale(0.997 1.005)" class="t" font-size="14.5" text-anchor="middle">4.0</text>
<line x1="18.2" y1="1376.0" x2="887.7" y2="1376.0" stroke="#000" stroke-width="2.0"/>
<path d="M886.60 1376.0 v3.2 M878.00 1376.0 v7.4 M869.40 1376.0 v3.2 M860.81 1376.0 v3.2 M852.21 1376.0 v3.2 M843.62 1376.0 v3.2 M835.02 1376.0 v5.3 M826.42 1376.0 v3.2 M817.83 1376.0 v3.2 M809.23 1376.0 v3.2 M800.64 1376.0 v3.2 M792.04 1376.0 v7.4 M783.44 1376.0 v3.2 M774.85 1376.0 v3.2 M766.25 1376.0 v3.2 M757.66 1376.0 v3.2 M749.06 1376.0 v5.3 M740.46 1376.0 v3.2 M731.87 1376.0 v3.2 M723.27 1376.0 v3.2 M714.68 1376.0 v3.2 M706.08 1376.0 v7.4 M697.48 1376.0 v3.2 M688.89 1376.0 v3.2 M680.29 1376.0 v3.2 M671.70 1376.0 v3.2 M663.10 1376.0 v5.3 M654.50 1376.0 v3.2 M645.91 1376.0 v3.2 M637.31 1376.0 v3.2 M628.72 1376.0 v3.2 M620.12 1376.0 v7.4 M611.52 1376.0 v3.2 M602.93 1376.0 v3.2 M594.33 1376.0 v3.2 M585.74 1376.0 v3.2 M577.14 1376.0 v5.3 M568.54 1376.0 v3.2 M559.95 1376.0 v3.2 M551.35 1376.0 v3.2 M542.76 1376.0 v3.2 M534.16 1376.0 v7.4 M525.56 1376.0 v3.2 M516.97 1376.0 v3.2 M508.37 1376.0 v3.2 M499.78 1376.0 v3.2 M491.18 1376.0 v5.3 M482.58 1376.0 v3.2 M473.99 1376.0 v3.2 M465.39 1376.0 v3.2 M456.80 1376.0 v3.2 M448.20 1376.0 v7.4 M439.60 1376.0 v3.2 M431.01 1376.0 v3.2 M422.41 1376.0 v3.2 M413.82 1376.0 v3.2 M405.22 1376.0 v5.3 M396.62 1376.0 v3.2 M388.03 1376.0 v3.2 M379.43 1376.0 v3.2 M370.84 1376.0 v3.2 M362.24 1376.0 v7.4 M353.64 1376.0 v3.2 M345.05 1376.0 v3.2 M336.45 1376.0 v3.2 M327.86 1376.0 v3.2 M319.26 1376.0 v5.3 M310.66 1376.0 v3.2 M302.07 1376.0 v3.2 M293.47 1376.0 v3.2 M284.88 1376.0 v3.2 M276.28 1376.0 v7.4 M267.68 1376.0 v3.2 M259.09 1376.0 v3.2 M250.49 1376.0 v3.2 M241.90 1376.0 v3.2 M233.30 1376.0 v5.3 M224.70 1376.0 v3.2 M216.11 1376.0 v3.2 M207.51 1376.0 v3.2 M198.92 1376.0 v3.2 M190.32 1376.0 v7.4 M181.72 1376.0 v3.2 M173.13 1376.0 v3.2 M164.53 1376.0 v3.2 M155.94 1376.0 v3.2 M147.34 1376.0 v5.3 M138.74 1376.0 v3.2 M130.15 1376.0 v3.2 M121.55 1376.0 v3.2 M112.96 1376.0 v3.2 M104.36 1376.0 v7.4 M95.76 1376.0 v3.2 M87.17 1376.0 v3.2 M78.57 1376.0 v3.2 M69.98 1376.0 v3.2 M61.38 1376.0 v5.3 M52.78 1376.0 v3.2 M44.19 1376.0 v3.2 M35.59 1376.0 v3.2 M27.00 1376.0 v3.2" stroke="#000" stroke-width="1.6" fill="none"/>
<text transform="translate(878.09 1401.56) scale(1.118 0.977)" class="t" font-size="18" text-anchor="middle">0</text>
<text transform="translate(792.13 1401.56) scale(1.118 0.977)" class="t" font-size="18" text-anchor="middle">1</text>
<text transform="translate(706.17 1401.56) scale(1.118 0.977)" class="t" font-size="18" text-anchor="middle">2</text>
<text transform="translate(620.21 1401.56) scale(1.118 0.977)" class="t" font-size="18" text-anchor="middle">3</text>
<text transform="translate(534.25 1401.56) scale(1.118 0.977)" class="t" font-size="18" text-anchor="middle">4</text>
<text transform="translate(448.29 1401.56) scale(1.118 0.977)" class="t" font-size="18" text-anchor="middle">5</text>
<text transform="translate(362.33 1401.56) scale(1.118 0.977)" class="t" font-size="18" text-anchor="middle">6</text>
<text transform="translate(276.37 1401.56) scale(1.118 0.977)" class="t" font-size="18" text-anchor="middle">7</text>
<text transform="translate(190.41 1401.56) scale(1.118 0.977)" class="t" font-size="18" text-anchor="middle">8</text>
<text transform="translate(104.45 1401.56) scale(1.118 0.977)" class="t" font-size="18" text-anchor="middle">9</text>
<path d="M12.5 370.8 L536.1 621.3" stroke="#000" stroke-width="1.7" fill="none" stroke-dasharray="32.2 9.4" stroke-dashoffset="16.7"/>
<path d="M752.4 350.7 L840.9 609.4" stroke="#000" stroke-width="1.7" fill="none" stroke-dasharray="29.5 8.9" stroke-dashoffset="12"/>
<path d="M34 1070 L498.4 1356.8" stroke="#000" stroke-width="1.7" fill="none" stroke-dasharray="30.3 9.1" stroke-dashoffset="13.8"/>
<path d="M685.5 1064.5 L808.3 1346.1" stroke="#000" stroke-width="1.7" fill="none" stroke-dasharray="29 8.6" stroke-dashoffset="7.2"/>
<path d="M199.2 132.8 A4.2 4.2 0 0 1 207.6 132.8 L203.8 172.6 L203.0 172.6 Z" fill="#ed1c24"/>
<path d="M457.8 68.9 A4.2 4.2 0 0 1 466.2 68.9 L462.4 110.6 L461.6 110.6 Z" fill="#ed1c24"/>
<path d="M584.1 93.2 A4.2 4.2 0 0 1 592.5 93.2 L588.7 133.0 L587.9 133.0 Z" fill="#ed1c24"/>
<path d="M691.0 98.2 A4.2 4.2 0 0 1 699.4 98.2 L695.6 139.0 L694.8 139.0 Z" fill="#ed1c24"/>
<path d="M730.9 130.5 A4.2 4.2 0 0 1 739.3 130.5 L735.5 171.3 L734.7 171.3 Z" fill="#ed1c24"/>
<path d="M146.6 921.7 A4.2 4.2 0 0 1 155.0 921.7 L151.2 961.6 L150.4 961.6 Z" fill="#ed1c24"/>
<path d="M459.5 930.6 A4.2 4.2 0 0 1 467.9 930.6 L464.1 971.6 L463.3 971.6 Z" fill="#ed1c24"/>
<path d="M558.8 964.5 A4.2 4.2 0 0 1 567.2 964.5 L563.4 1005.1 L562.6 1005.1 Z" fill="#ed1c24"/>
<path d="M593.7 963.7 A4.2 4.2 0 0 1 602.1 963.7 L598.3 1003.7 L597.5 1003.7 Z" fill="#ed1c24"/>
<path d="M639.6 757.5 A4.2 4.2 0 0 1 648.0 757.5 L644.2 797.0 L643.4 797.0 Z" fill="#ed1c24"/>
<path d="M652.2 786.1 A4.2 4.2 0 0 1 660.6 786.1 L656.8 825.8 L656.0 825.8 Z" fill="#ed1c24"/>
<g transform="matrix(1.0444 0 0 1.0764 33.38 105.70)"><text x="0" y="0" font-family="'Liberation Sans', sans-serif" font-size="20" font-weight="bold">A</text></g>
<g transform="matrix(0.9959 0 0 1.0655 33.66 805.00)"><text x="0" y="0" font-family="'Liberation Sans', sans-serif" font-size="20" font-weight="bold">B</text></g>
<g transform="matrix(1.0328 0 0 1.0774 590.75 70.73)"><text x="0" y="0" font-family="'Liberation Sans', sans-serif" font-size="21" font-weight="bold" fill="#ed1c24">Isoleucine</text></g>
<g transform="matrix(1.0299 0 0 1.0839 484.46 774.83)"><text x="0" y="0" font-family="'Liberation Sans', sans-serif" font-size="21" font-weight="bold" fill="#ed1c24">Isoleucine</text></g>
<g transform="matrix(1.1720 0 0 0.9947 343.23 383.27)"><text x="0" y="0" font-family="'Liberation Sans', sans-serif" font-size="17.5"><tspan font-size="12.5" dy="-6.3">13</tspan><tspan dy="6.3">C (ppm)</tspan></text></g>
<g transform="matrix(1.0404 0 0 0.9320 413.80 728.87)"><text x="0" y="0" font-family="'Liberation Sans', sans-serif" font-size="22.5"><tspan font-size="16" dy="-8">13</tspan><tspan dy="8">C (ppm)</tspan></text></g>
<g transform="matrix(1.0044 0 0 0.9278 327.85 1098.72)"><text x="0" y="0" font-family="'Liberation Sans', sans-serif" font-size="17.5"><tspan font-size="12" dy="-6">1</tspan><tspan dy="6">H (ppm)</tspan></text></g>
<g transform="matrix(0.9989 0 0 0.9196 417.95 1431.80)"><text x="0" y="0" font-family="'Liberation Sans', sans-serif" font-size="23.5"><tspan font-size="16" dy="-8">1</tspan><tspan dy="8">H (ppm)</tspan></text></g>
</svg></body></html>
